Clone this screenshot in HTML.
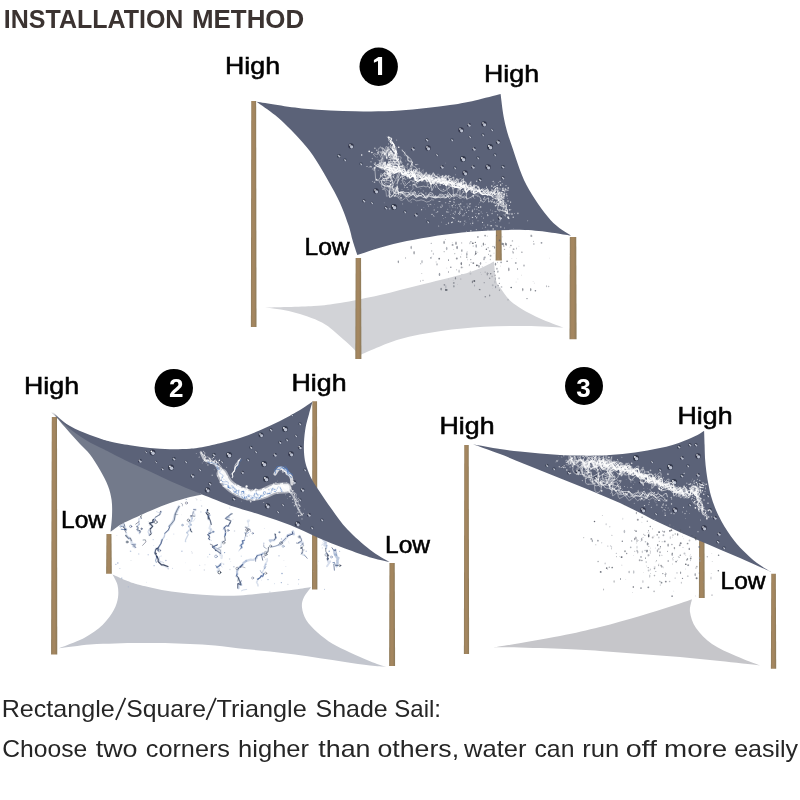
<!DOCTYPE html>
<html><head><meta charset="utf-8">
<style>
html,body{margin:0;padding:0;background:#fff;}
body{width:800px;height:800px;overflow:hidden;font-family:"Liberation Sans",sans-serif;}
svg{display:block;will-change:transform;opacity:.999}
</style></head><body>
<svg width="800" height="800" viewBox="0 0 800 800" font-family="Liberation Sans, sans-serif">
<rect width="800" height="800" fill="#fff"/>
<defs>
<radialGradient id="bead" cx="50%" cy="55%" r="50%"><stop offset="0" stop-color="#3d4458"/><stop offset=".55" stop-color="#4a5268"/><stop offset=".85" stop-color="#aab0c2"/><stop offset="1" stop-color="#e8ebf2" stop-opacity=".9"/></radialGradient>
<linearGradient id="pole" x1="0" x2="1" y1="0" y2="0"><stop offset="0" stop-color="#8e7c5c"/><stop offset=".3" stop-color="#a4865f"/><stop offset=".6" stop-color="#a4865f"/><stop offset="1" stop-color="#8a7959"/></linearGradient>
<filter id="soft" x="-5%" y="-5%" width="110%" height="110%"><feGaussianBlur stdDeviation="0.35"/></filter>
<clipPath id="c1"><path d="M256.5,101.7 C264.6,102.9 288.6,107.1 305.0,108.7 C321.4,110.3 339.2,111.0 355.0,111.3 C370.8,111.6 384.2,111.6 400.0,110.6 C415.8,109.5 437.5,106.7 450.0,105.0 C462.5,103.3 466.6,102.2 475.0,100.4 C483.4,98.6 496.3,95.1 500.6,94.0 C501.2,98.3 502.5,111.5 504.3,120.0 C506.1,128.5 507.8,134.2 511.5,145.0 C515.2,155.8 520.0,172.5 526.5,185.0 C533.0,197.5 543.1,211.6 550.5,220.0 C557.9,228.4 567.6,233.0 571.0,235.6 C563.3,234.7 543.2,230.5 525.0,230.0 C506.8,229.5 482.8,230.4 462.0,232.5 C441.2,234.6 417.4,238.8 400.0,242.5 C382.6,246.2 364.4,252.9 357.3,255.0 C356.5,252.5 353.9,244.8 352.5,240.0 C351.1,235.2 350.8,232.2 348.8,226.0 C346.7,219.8 343.5,210.8 340.0,203.0 C336.5,195.2 332.0,187.4 327.5,179.5 C323.0,171.6 317.6,162.2 313.0,155.5 C308.4,148.8 304.2,144.3 300.0,139.5 C295.8,134.7 291.7,130.6 287.5,126.5 C283.3,122.4 280.2,119.1 275.0,115.0 C269.8,110.9 259.6,103.9 256.5,101.7 Z"/></clipPath>
<clipPath id="c2"><path d="M51.5,412.3 C52.9,413.5 56.9,417.2 60.0,419.5 C63.1,421.8 66.7,424.1 70.0,426.0 C73.3,427.9 76.7,429.5 80.0,431.0 C83.3,432.5 86.7,433.8 90.0,435.0 C93.3,436.2 96.7,437.4 100.0,438.5 C103.3,439.6 105.0,440.4 110.0,441.5 C115.0,442.6 123.3,444.2 130.0,445.3 C136.7,446.4 143.3,447.4 150.0,448.0 C156.7,448.6 163.3,449.1 170.0,449.2 C176.7,449.3 185.0,449.1 190.0,448.8 C195.0,448.5 195.0,448.5 200.0,447.6 C205.0,446.7 213.3,444.8 220.0,443.2 C226.7,441.6 233.3,440.1 240.0,438.0 C246.7,435.9 253.3,433.1 260.0,430.3 C266.7,427.5 273.3,424.4 280.0,421.0 C286.7,417.6 294.6,413.2 300.0,410.0 C305.4,406.8 310.5,402.9 312.6,401.5 C312.0,403.6 310.1,410.1 308.9,414.4 C307.7,418.7 306.4,422.8 305.6,427.4 C304.8,432.0 304.2,437.4 304.0,442.0 C303.8,446.6 303.8,451.0 304.2,455.0 C304.6,459.0 305.0,461.8 306.3,466.0 C307.6,470.2 310.0,475.8 312.2,480.0 C314.4,484.2 316.1,486.4 319.4,491.2 C322.7,496.1 327.1,502.9 331.8,509.2 C336.4,515.6 341.1,522.8 347.5,529.5 C353.9,536.2 363.0,544.3 370.0,549.8 C377.0,555.2 386.2,560.0 389.5,562.0 C386.7,561.3 379.9,560.3 372.5,558.0 C365.1,555.7 354.2,551.8 345.0,548.4 C335.8,545.0 326.7,541.3 317.5,537.4 C308.3,533.5 299.2,528.7 290.0,525.0 C280.8,521.3 271.7,518.4 262.5,515.4 C253.3,512.4 245.1,510.5 235.0,507.0 C224.9,503.5 207.5,496.5 202.0,494.4 C200.0,493.6 195.3,491.7 190.0,489.5 C184.7,487.3 176.7,484.0 170.0,481.0 C163.3,478.0 156.7,474.6 150.0,471.5 C143.3,468.4 136.7,465.7 130.0,462.5 C123.3,459.3 115.0,455.0 110.0,452.5 C105.0,450.0 103.3,449.2 100.0,447.6 C96.7,446.0 93.3,444.5 90.0,442.6 C86.7,440.7 83.3,438.6 80.0,436.3 C76.7,434.0 73.3,431.6 70.0,429.0 C66.7,426.4 63.1,423.3 60.0,420.5 C56.9,417.7 52.9,413.7 51.5,412.3 Z"/></clipPath>
<clipPath id="c3"><path d="M473.0,444.2 C477.5,445.0 492.2,447.8 500.0,449.0 C507.8,450.2 513.3,450.8 520.0,451.6 C526.7,452.4 533.3,453.1 540.0,453.6 C546.7,454.2 553.3,454.6 560.0,454.9 C566.7,455.2 573.3,455.5 580.0,455.6 C586.7,455.7 595.0,455.6 600.0,455.5 C605.0,455.4 606.2,455.2 610.0,455.0 C613.8,454.8 618.3,454.4 622.5,454.0 C626.7,453.6 630.8,453.1 635.0,452.5 C639.2,451.9 643.3,451.3 647.5,450.6 C651.7,449.9 655.8,449.0 660.0,448.1 C664.2,447.2 668.3,446.2 672.5,445.0 C676.7,443.8 680.8,442.3 685.0,440.6 C689.2,438.9 694.3,436.6 697.5,435.0 C700.7,433.4 703.0,431.5 704.1,430.8 C704.2,433.2 704.5,440.5 704.6,445.0 C704.8,449.5 704.7,453.5 705.0,458.0 C705.3,462.5 705.8,467.3 706.4,472.0 C707.0,476.7 707.9,481.9 708.8,486.3 C709.6,490.7 710.5,494.4 711.8,498.5 C713.0,502.6 714.7,506.9 716.2,510.6 C717.8,514.4 719.4,517.5 721.3,521.0 C723.2,524.5 725.3,528.0 727.5,531.3 C729.7,534.6 732.0,537.9 734.5,541.0 C737.0,544.1 738.8,546.3 742.5,550.0 C746.2,553.7 752.0,559.2 757.0,563.0 C762.0,566.8 769.9,571.0 772.5,572.6 C767.1,570.2 752.1,563.3 740.0,558.0 C727.9,552.7 713.3,546.8 700.0,541.0 C686.7,535.2 673.3,529.3 660.0,523.0 C646.7,516.7 633.3,509.1 620.0,503.0 C606.7,496.9 593.3,491.7 580.0,486.2 C566.7,480.7 553.3,475.6 540.0,470.2 C526.7,464.8 511.2,458.3 500.0,454.0 C488.8,449.7 477.5,445.8 473.0,444.2 Z"/></clipPath>
</defs>
<g font-size="26.4" font-weight="bold" fill="#3b3331"><text x="3.8" y="28.2" textLength="179.6" lengthAdjust="spacingAndGlyphs">INSTALLATION</text><text x="192" y="28.2" textLength="112.2" lengthAdjust="spacingAndGlyphs">METHOD</text></g>

<g id="s1">
<path d="M265.0,307.6 C273.1,307.3 301.2,306.8 313.7,306.0 C326.2,305.2 328.9,304.8 340.0,303.0 C351.1,301.2 366.7,298.0 380.0,295.0 C393.3,292.0 406.7,288.3 420.0,285.0 C433.3,281.7 450.0,277.8 460.0,275.0 C470.0,272.2 474.3,270.8 480.0,268.5 C485.7,266.2 491.7,262.7 494.0,261.5 C494.3,264.6 494.9,275.5 496.0,280.0 C497.1,284.5 497.8,284.6 500.7,288.5 C503.6,292.4 507.1,298.5 513.5,303.4 C519.9,308.3 530.6,314.0 539.0,318.0 C547.4,322.0 559.5,326.0 563.6,327.6 C557.3,327.3 539.3,326.1 526.0,326.0 C512.7,325.9 497.9,325.9 483.7,326.7 C469.5,327.5 455.2,328.9 441.0,331.0 C426.8,333.1 412.2,335.5 398.7,339.5 C385.2,343.5 366.4,352.4 360.0,355.0 C357.2,352.4 349.8,344.9 343.5,339.5 C337.2,334.1 330.5,327.1 322.0,322.5 C313.5,317.9 302.0,314.4 292.5,311.9 C283.0,309.4 269.6,308.3 265.0,307.6 Z" fill="#d2d3d7"/>
<g fill="url(#pole)"><path d="M251.25,100.9 L256.15,100.9 L256.50,327 L250.90,327 Z"/><path d="M495.95,225 L501.45,225 L501.80,260.5 L495.60,260.5 Z"/><path d="M569.85,237 L576.25,237 L576.60,339.3 L569.50,339.3 Z"/><path d="M355.65,258 L361.05,258 L361.40,359 L355.30,359 Z"/></g>
<path d="M256.5,101.7 C264.6,102.9 288.6,107.1 305.0,108.7 C321.4,110.3 339.2,111.0 355.0,111.3 C370.8,111.6 384.2,111.6 400.0,110.6 C415.8,109.5 437.5,106.7 450.0,105.0 C462.5,103.3 466.6,102.2 475.0,100.4 C483.4,98.6 496.3,95.1 500.6,94.0 C501.2,98.3 502.5,111.5 504.3,120.0 C506.1,128.5 507.8,134.2 511.5,145.0 C515.2,155.8 520.0,172.5 526.5,185.0 C533.0,197.5 543.1,211.6 550.5,220.0 C557.9,228.4 567.6,233.0 571.0,235.6 C563.3,234.7 543.2,230.5 525.0,230.0 C506.8,229.5 482.8,230.4 462.0,232.5 C441.2,234.6 417.4,238.8 400.0,242.5 C382.6,246.2 364.4,252.9 357.3,255.0 C356.5,252.5 353.9,244.8 352.5,240.0 C351.1,235.2 350.8,232.2 348.8,226.0 C346.7,219.8 343.5,210.8 340.0,203.0 C336.5,195.2 332.0,187.4 327.5,179.5 C323.0,171.6 317.6,162.2 313.0,155.5 C308.4,148.8 304.2,144.3 300.0,139.5 C295.8,134.7 291.7,130.6 287.5,126.5 C283.3,122.4 280.2,119.1 275.0,115.0 C269.8,110.9 259.6,103.9 256.5,101.7 Z" fill="#5b6278"/>
<g filter="url(#soft)"><g clip-path="url(#c1)"><circle cx="461" cy="130" r="2.73" fill="#30364a"/><circle cx="461.6" cy="130.8" r="1.58" fill="#c9cedd" opacity=".92"/><circle cx="460.0" cy="129.0" r="0.82" fill="#fff"/><circle cx="469" cy="125" r="2.10" fill="#30364a"/><circle cx="469.5" cy="125.6" r="1.22" fill="#c9cedd" opacity=".92"/><circle cx="468.2" cy="124.2" r="0.63" fill="#fff"/><circle cx="484" cy="124" r="2.73" fill="#30364a"/><circle cx="484.6" cy="124.8" r="1.58" fill="#c9cedd" opacity=".92"/><circle cx="483.0" cy="123.0" r="0.82" fill="#fff"/><circle cx="428" cy="148" r="2.73" fill="#30364a"/><circle cx="428.6" cy="148.8" r="1.58" fill="#c9cedd" opacity=".92"/><circle cx="427.0" cy="147.0" r="0.82" fill="#fff"/><circle cx="427" cy="140" r="1.68" fill="#30364a"/><circle cx="427.4" cy="140.5" r="0.97" fill="#c9cedd" opacity=".92"/><circle cx="426.4" cy="139.4" r="0.50" fill="#fff"/><circle cx="413" cy="149" r="2.10" fill="#30364a"/><circle cx="413.5" cy="149.6" r="1.22" fill="#c9cedd" opacity=".92"/><circle cx="412.2" cy="148.2" r="0.63" fill="#fff"/><circle cx="463" cy="159" r="2.94" fill="#30364a"/><circle cx="463.6" cy="159.8" r="1.71" fill="#c9cedd" opacity=".92"/><circle cx="461.9" cy="157.9" r="0.88" fill="#fff"/><circle cx="490" cy="147" r="2.94" fill="#30364a"/><circle cx="490.6" cy="147.8" r="1.71" fill="#c9cedd" opacity=".92"/><circle cx="488.9" cy="145.9" r="0.88" fill="#fff"/><circle cx="498" cy="142" r="2.31" fill="#30364a"/><circle cx="498.5" cy="142.6" r="1.34" fill="#c9cedd" opacity=".92"/><circle cx="497.1" cy="141.1" r="0.69" fill="#fff"/><circle cx="474" cy="149" r="2.10" fill="#30364a"/><circle cx="474.5" cy="149.6" r="1.22" fill="#c9cedd" opacity=".92"/><circle cx="473.2" cy="148.2" r="0.63" fill="#fff"/><circle cx="488" cy="167" r="2.73" fill="#30364a"/><circle cx="488.6" cy="167.8" r="1.58" fill="#c9cedd" opacity=".92"/><circle cx="487.0" cy="166.0" r="0.82" fill="#fff"/><circle cx="473" cy="167" r="2.10" fill="#30364a"/><circle cx="473.5" cy="167.6" r="1.22" fill="#c9cedd" opacity=".92"/><circle cx="472.2" cy="166.2" r="0.63" fill="#fff"/><circle cx="465" cy="173" r="2.73" fill="#30364a"/><circle cx="465.6" cy="173.8" r="1.58" fill="#c9cedd" opacity=".92"/><circle cx="464.0" cy="172.0" r="0.82" fill="#fff"/><circle cx="442" cy="167" r="2.10" fill="#30364a"/><circle cx="442.5" cy="167.6" r="1.22" fill="#c9cedd" opacity=".92"/><circle cx="441.2" cy="166.2" r="0.63" fill="#fff"/><circle cx="503" cy="167" r="1.89" fill="#30364a"/><circle cx="503.4" cy="167.5" r="1.10" fill="#c9cedd" opacity=".92"/><circle cx="502.3" cy="166.3" r="0.57" fill="#fff"/><circle cx="376" cy="191" r="2.73" fill="#30364a"/><circle cx="376.6" cy="191.8" r="1.58" fill="#c9cedd" opacity=".92"/><circle cx="375.0" cy="190.0" r="0.82" fill="#fff"/><circle cx="394" cy="207" r="2.94" fill="#30364a"/><circle cx="394.6" cy="207.8" r="1.71" fill="#c9cedd" opacity=".92"/><circle cx="392.9" cy="205.9" r="0.88" fill="#fff"/><circle cx="416" cy="215" r="2.10" fill="#30364a"/><circle cx="416.5" cy="215.6" r="1.22" fill="#c9cedd" opacity=".92"/><circle cx="415.2" cy="214.2" r="0.63" fill="#fff"/><circle cx="364" cy="201" r="1.68" fill="#30364a"/><circle cx="364.4" cy="201.5" r="0.97" fill="#c9cedd" opacity=".92"/><circle cx="363.4" cy="200.4" r="0.50" fill="#fff"/><circle cx="386" cy="208" r="1.68" fill="#30364a"/><circle cx="386.4" cy="208.5" r="0.97" fill="#c9cedd" opacity=".92"/><circle cx="385.4" cy="207.4" r="0.50" fill="#fff"/><circle cx="500" cy="218" r="2.31" fill="#30364a"/><circle cx="500.5" cy="218.6" r="1.34" fill="#c9cedd" opacity=".92"/><circle cx="499.1" cy="217.1" r="0.69" fill="#fff"/><circle cx="351" cy="146" r="2.73" fill="#30364a"/><circle cx="351.6" cy="146.8" r="1.58" fill="#c9cedd" opacity=".92"/><circle cx="350.0" cy="145.0" r="0.82" fill="#fff"/><circle cx="339" cy="156" r="1.89" fill="#30364a"/><circle cx="339.4" cy="156.5" r="1.10" fill="#c9cedd" opacity=".92"/><circle cx="338.3" cy="155.3" r="0.57" fill="#fff"/><circle cx="345" cy="160" r="1.47" fill="#30364a"/><circle cx="345.3" cy="160.4" r="0.85" fill="#c9cedd" opacity=".92"/><circle cx="344.4" cy="159.4" r="0.44" fill="#fff"/><circle cx="361" cy="164" r="1.47" fill="#30364a"/><circle cx="361.3" cy="164.4" r="0.85" fill="#c9cedd" opacity=".92"/><circle cx="360.4" cy="163.4" r="0.44" fill="#fff"/><circle cx="483" cy="135" r="1.47" fill="#30364a"/><circle cx="483.3" cy="135.4" r="0.85" fill="#c9cedd" opacity=".92"/><circle cx="482.4" cy="134.4" r="0.44" fill="#fff"/><circle cx="495" cy="155" r="1.47" fill="#30364a"/><circle cx="495.3" cy="155.4" r="0.85" fill="#c9cedd" opacity=".92"/><circle cx="494.4" cy="154.4" r="0.44" fill="#fff"/><circle cx="480" cy="180" r="1.89" fill="#30364a"/><circle cx="480.4" cy="180.5" r="1.10" fill="#c9cedd" opacity=".92"/><circle cx="479.3" cy="179.3" r="0.57" fill="#fff"/><circle cx="452" cy="140" r="1.47" fill="#30364a"/><circle cx="452.3" cy="140.4" r="0.85" fill="#c9cedd" opacity=".92"/><circle cx="451.4" cy="139.4" r="0.44" fill="#fff"/><circle cx="470" cy="137" r="1.37" fill="#30364a"/><circle cx="470.3" cy="137.4" r="0.79" fill="#c9cedd" opacity=".92"/><circle cx="469.5" cy="136.5" r="0.41" fill="#fff"/><circle cx="478" cy="158" r="1.47" fill="#30364a"/><circle cx="478.3" cy="158.4" r="0.85" fill="#c9cedd" opacity=".92"/><circle cx="477.4" cy="157.4" r="0.44" fill="#fff"/><circle cx="437" cy="155" r="1.37" fill="#30364a"/><circle cx="437.3" cy="155.4" r="0.79" fill="#c9cedd" opacity=".92"/><circle cx="436.5" cy="154.5" r="0.41" fill="#fff"/><circle cx="455" cy="168" r="1.47" fill="#30364a"/><circle cx="455.3" cy="168.4" r="0.85" fill="#c9cedd" opacity=".92"/><circle cx="454.4" cy="167.4" r="0.44" fill="#fff"/><circle cx="372" cy="203" r="1.37" fill="#30364a"/><circle cx="372.3" cy="203.4" r="0.79" fill="#c9cedd" opacity=".92"/><circle cx="371.5" cy="202.5" r="0.41" fill="#fff"/><circle cx="405" cy="212" r="1.47" fill="#30364a"/><circle cx="405.3" cy="212.4" r="0.85" fill="#c9cedd" opacity=".92"/><circle cx="404.4" cy="211.4" r="0.44" fill="#fff"/><circle cx="428" cy="222" r="1.47" fill="#30364a"/><circle cx="428.3" cy="222.4" r="0.85" fill="#c9cedd" opacity=".92"/><circle cx="427.4" cy="221.4" r="0.44" fill="#fff"/><circle cx="492" cy="130" r="1.37" fill="#30364a"/><circle cx="492.3" cy="130.4" r="0.79" fill="#c9cedd" opacity=".92"/><circle cx="491.5" cy="129.5" r="0.41" fill="#fff"/><circle cx="503" cy="178" r="1.68" fill="#30364a"/><circle cx="503.4" cy="178.5" r="0.97" fill="#c9cedd" opacity=".92"/><circle cx="502.4" cy="177.4" r="0.50" fill="#fff"/><g fill="none" stroke-linecap="round" stroke-linejoin="round"><path d="M377.1,164.6L378.3,165.0L379.9,163.1L380.8,164.1L380.9,168.3L382.2,166.8L384.2,162.3L384.7,164.2L384.5,169.2L385.7,168.7L387.9,164.9L389.3,165.4L390.2,168.4L392.2,168.3L394.3,168.1L396.0,170.4L398.8,169.2L401.8,168.1L402.6,173.7L405.3,173.1L408.9,169.8L408.7,175.6L410.9,174.5L412.7,173.9L413.6,175.3L415.1,175.4L416.0,178.2L418.9,174.6L420.6,176.9L422.3,180.9L425.7,176.4L428.2,177.7L430.6,180.6L433.4,179.0L435.7,179.7L438.0,179.0L439.7,180.2L440.8,182.6L443.0,178.9L444.1,180.4L444.7,183.9L447.1,180.8L448.8,181.4L450.4,183.4L452.8,183.6L455.2,184.4L458.4,183.3L460.5,186.0L462.7,187.8L466.2,184.9L467.8,187.6L469.3,189.6L471.6,187.8L473.0,188.6L474.2,189.7L475.4,190.8L477.2,190.2L479.2,189.6L480.3,192.5L482.3,193.3L485.3,191.5L487.4,192.9L489.1,195.4L491.6,195.4" stroke="#fff" stroke-width="1.24" stroke-opacity="0.66"/><path d="M374.2,164.1L375.6,164.9L377.1,166.5L379.1,167.1L381.2,167.4L383.4,167.4L386.1,165.4L388.3,164.5L389.2,168.8L389.7,173.7L391.8,171.8L394.7,166.3L396.0,166.7L396.0,171.2L396.9,171.9L398.3,170.8L399.1,172.1L400.6,171.5L402.5,170.5L404.0,172.0L405.2,175.0L407.5,176.6L412.5,171.6L414.0,176.1L415.6,180.9L419.8,176.7L421.7,178.6L423.8,178.8L425.6,178.1L426.6,181.4L428.0,181.1L429.6,178.8L431.2,177.4L432.3,180.9L433.7,184.3L436.6,178.8L439.1,178.8L440.9,183.3L444.0,181.6L446.4,183.6L448.8,184.6L452.1,181.6L453.7,183.8L454.8,186.9L456.5,187.2L458.9,183.7L460.3,184.2L460.3,189.4L462.7,187.1L464.7,186.8L466.4,188.9" stroke="#fff" stroke-width="0.86" stroke-opacity="1.01"/><path d="M395.2,170.4L396.9,169.3L399.0,166.3L399.6,168.4L400.1,170.8L401.6,170.0L403.2,169.6L405.0,169.6L405.8,173.1L408.7,172.5L412.1,171.1L413.2,176.9L417.3,174.2L419.7,175.7L421.6,178.5L424.6,174.8L425.7,178.8L427.3,179.1L429.3,174.9L430.1,179.1L431.3,179.7L433.1,176.9L434.7,178.2L436.5,179.2L438.5,180.2L441.4,178.6L444.1,179.2L446.0,183.1L449.4,180.4L451.9,181.5L453.5,184.5L456.5,181.5L457.4,184.8L459.0,185.2L461.4,181.9L461.5,186.9L463.3,186.2L465.7,183.8L466.7,187.5L469.1,187.7L471.7,187.6L474.4,187.8L476.6,190.0L478.9,191.4L482.0,189.5L483.6,192.0L485.2,193.3L487.7,191.3L488.5,194.0L489.8,194.5L492.1,191.9L492.4,194.9" stroke="#fff" stroke-width="0.85" stroke-opacity="1.00"/><path d="M386.1,166.2L387.6,166.6L389.0,168.3L390.3,170.9L391.9,172.8L394.4,172.0L397.6,169.0L400.3,167.9L401.5,171.8L402.1,176.6L404.4,175.8L407.7,171.9L409.0,172.8L409.0,176.8L410.2,177.4L412.3,176.2L414.3,176.1L416.2,176.9L418.2,178.8L420.5,180.4L423.5,179.7L426.4,178.6L428.9,180.1L431.3,181.6L433.7,180.6L435.7,180.3L437.1,182.2L438.6,182.5L440.3,180.3L441.7,180.6L442.4,183.9L443.9,184.6L446.4,182.1L448.8,181.6L450.7,184.2L452.8,186.5L455.5,186.8L458.6,185.8L461.6,184.9L463.5,186.9L464.7,190.7L466.7,190.6L469.5,186.9L470.9,187.4L471.1,191.9L472.3,192.9L474.9,190.2L477.1,189.7L478.5,192.0L480.3,193.8L482.7,194.3L485.2,194.5L487.8,194.4L490.2,194.7L491.9,196.2L493.3,198.0L494.9,198.4L496.7,198.0L497.9,198.3L498.4,199.7L498.7,200.9L499.7,201.3L501.2,201.4L502.0,202.1L501.9,203.6L501.7,205.2L502.4,206.1L504.0,206.5L505.7,206.7" stroke="#fff" stroke-width="0.74" stroke-opacity="0.84"/><path d="M412.5,172.8L416.5,170.5L418.4,173.5L421.1,172.9L422.1,177.3L424.2,176.0L426.3,172.4L427.1,175.1L428.3,174.9L429.3,177.9L430.8,178.0L433.2,172.9L434.9,175.4L437.1,177.0L439.5,178.5L441.9,180.2L445.9,175.4L448.2,177.5L450.0,180.8L452.3,181.1L453.9,182.9L456.8,178.7L458.1,180.0L458.5,183.8L460.2,183.0L461.4,184.4L464.1,181.3L465.9,182.6L467.2,186.6L470.3,185.4L472.6,187.2L476.0,185.4L478.3,187.0L479.8,190.5L482.6,188.9L484.1,190.4L485.8,190.3L487.7,189.2L488.2,192.4L489.7,192.0L491.5,191.3L492.2,193.7L494.2,193.1" stroke="#fff" stroke-width="1.12" stroke-opacity="0.63"/><path d="M375.5,166.1L377.4,166.2L379.4,166.6L381.5,167.4L383.5,168.3L385.4,169.1L387.3,169.3L389.2,169.2L391.0,169.0L392.5,169.2L393.7,170.0L394.7,171.1L395.6,172.0L396.6,172.2L397.9,171.6L399.2,170.9L400.5,171.2L401.6,172.8L403.0,174.6L405.3,175.0L408.4,174.6L411.4,175.0L413.9,177.1L416.3,179.4L418.9,180.1L421.6,179.2L423.7,178.5L425.3,179.2L426.5,180.9L427.7,181.9L429.1,181.4L430.7,180.0L432.4,179.4L434.2,180.6L436.1,182.5L438.4,183.3L441.2,182.6L444.2,181.6L446.9,182.0L449.0,184.3L450.9,186.4L453.0,186.5L455.3,185.0L457.1,184.2L458.2,185.7L459.0,188.2L460.3,189.1L462.4,187.7L464.8,186.4L466.9,187.4" stroke="#fff" stroke-width="0.67" stroke-opacity="0.98"/><path d="M385.8,167.3L387.3,167.7L389.1,167.7L391.0,168.1L392.5,170.7L394.1,173.3L396.7,172.1L399.7,170.1L401.3,172.5L402.7,174.7L405.4,173.1L406.9,173.8L407.9,175.6L409.2,176.0L409.9,178.2L412.6,175.5L414.9,174.0L415.4,179.6L417.6,181.3L420.7,179.8L423.6,179.0L426.7,177.4L429.0,180.1L431.0,184.4L433.5,182.0L435.8,179.4L437.3,181.3L438.7,181.5L439.9,182.2L441.0,183.5L442.8,181.8L444.3,182.8L445.7,185.2L448.5,182.7L451.1,182.6L452.9,186.2L455.5,187.2L458.2,187.7L461.1,186.8L464.1,184.8L465.2,188.7L466.2,192.3L468.6,189.6L470.5,188.7L471.9,189.1L473.1,190.3L473.9,193.5L476.1,192.7L478.9,190.7L480.6,193.0L482.6,194.6L485.4,193.8L487.6,195.1" stroke="#fff" stroke-width="1.28" stroke-opacity="1.08"/><path d="M383.0,165.2L384.4,162.2L385.4,162.1L385.7,165.9L387.0,167.4L389.8,164.2L392.6,162.7L394.0,167.5L396.0,170.8L400.3,166.7L403.9,165.7L404.6,173.0L407.3,172.8L411.4,167.8L410.6,174.1L411.3,175.1L414.2,169.2L412.9,174.5L413.5,175.8L416.3,171.2L417.2,174.7L419.1,177.7L422.5,175.2L425.8,175.0L428.8,177.9L431.9,179.0L435.2,176.6L437.8,176.3L439.2,180.7L440.8,180.1L442.8,175.3L442.8,179.9L442.7,183.5L445.4,176.1L446.3,177.8L446.1,185.8L450.1,179.4L453.7,177.0L454.1,187.4L458.3,184.6L463.4,178.6L464.0,187.9L466.5,189.1L470.9,181.6L470.9,187.7L471.2,191.2L474.2,184.6L474.5,186.7L474.1,191.5L476.5,188.4L478.8,186.7L479.7,190.7L481.6,192.9L485.1,190.5L488.3,190.0L490.0,194.3L492.1,196.5L495.8,193.6L498.5,193.0L498.2,197.8L498.0,200.9L500.9,198.6L504.3,196.3" stroke="#fff" stroke-width="0.76" stroke-opacity="0.76"/><path d="M399.0,168.1L400.1,166.1L398.9,171.6L400.2,169.8L400.9,170.7L402.1,172.1L407.6,164.0L407.2,173.4L409.4,177.6L414.0,175.9L418.3,174.9L423.2,169.5L422.9,180.6L424.7,182.1L427.3,176.7L428.0,178.5L429.3,174.2L429.4,178.3L429.9,181.5L431.8,174.8L432.7,180.0L434.7,181.1L438.1,177.3L440.7,179.9L445.0,176.2L447.0,182.2L448.8,188.5L453.6,180.7L456.0,180.9L457.9,180.9L458.4,184.2L457.6,190.9L460.6,183.0L461.7,182.3L462.1,185.4" stroke="#fff" stroke-width="0.39" stroke-opacity="0.56"/><path d="M396.7,171.8L397.4,178.4L401.6,171.9L404.7,168.7L404.1,175.2L405.3,175.2L405.8,175.9L407.6,172.6L408.0,173.8L407.4,178.6L410.3,175.6L413.1,174.4L415.3,177.5L417.0,184.2L422.5,175.8L425.7,176.8L427.6,185.6L431.0,180.8L433.4,179.2L435.1,179.9L435.8,183.5L436.7,183.3L438.0,178.9L438.3,181.6L439.2,182.3L440.1,184.8L443.1,180.7L446.0,179.6L446.7,189.1L451.3,184.4L455.4,182.0L457.3,187.1L459.6,189.6L462.7,187.4L465.4,184.9L465.2,191.2L466.8,189.5L467.9,188.7L469.1,188.2" stroke="#fff" stroke-width="0.47" stroke-opacity="0.62"/><path d="M382.2,162.1L381.7,168.5L382.1,169.6L382.7,169.0L383.4,167.5L384.7,163.4L385.5,161.8L385.1,166.0L385.2,169.2L387.4,165.4L389.8,162.2L390.3,168.1L390.8,175.3L394.3,172.2L399.2,166.1L402.4,166.8L404.9,169.5L406.4,174.2L407.9,177.3L412.0,172.1L411.9,176.2L412.5,177.1L416.2,168.8L414.5,175.7L414.1,180.6L416.4,178.4L419.0,176.3L422.0,173.5L424.2,178.7L427.3,180.4L431.3,175.5L433.8,181.9L436.3,185.3L439.8,177.1L441.9,176.3L442.8,180.0L443.2,183.0L443.5,184.9L445.5,179.7L446.2,180.8L446.7,184.6L450.2,178.2L452.1,180.4L452.9,188.5L456.6,187.0L460.7,184.9" stroke="#fff" stroke-width="0.76" stroke-opacity="0.69"/><path d="M372.6,168.8L374.6,167.0L375.2,173.0L375.7,180.4L378.2,180.4L382.2,175.0L385.8,171.3L388.3,171.8L390.1,174.5L391.4,178.2L392.3,182.5L393.6,183.7L396.4,178.4L399.2,172.1L399.3,174.3L397.2,182.5L397.0,183.9L399.2,179.1L401.0,176.7L402.5,177.1L402.9,182.5L404.9,185.9L410.8,180.4L414.4,181.5L416.6,187.4L420.6,186.7L423.8,186.1L426.1,187.0L428.0,186.1L429.1,187.7L429.9,187.8L431.0,184.7L431.4,187.2L431.8,190.8L433.8,186.5L436.2,183.9L437.9,187.6L440.3,190.3L443.3,191.5L447.2,189.5L451.4,185.6L453.2,190.2L453.7,197.3L456.6,193.8L459.4,188.6L460.1,190.0L459.9,193.7L459.8,197.2L461.7,194.7L465.1,188.5L466.2,192.3L466.7,199.2L470.3,197.5L474.4,194.9L477.6,195.3L480.1,197.3L481.7,201.4L483.9,202.2L487.0,198.2L488.6,198.1L488.5,202.0L489.1,202.3L490.4,200.6L490.9,201.0L491.2,201.7L492.2,201.4L493.0,201.7L493.5,202.8L494.9,203.2L497.3,203.1L498.5,204.4L497.8,207.2L497.4,209.7L499.2,210.6L502.4,210.5L504.8,210.6" stroke="#fff" stroke-width="0.58" stroke-opacity="0.79"/><path d="M378.0,159.9L378.8,160.3L379.7,160.5L380.0,162.4L379.7,166.5L379.6,168.3L381.0,163.6L383.3,155.6L384.5,152.7L384.0,157.7L383.0,165.5L383.3,169.4L385.3,167.8L388.2,164.3L390.8,163.1L393.2,163.9L396.3,163.3L399.8,161.5L402.3,163.9L402.8,171.8L403.8,176.5L408.2,170.6L412.3,164.3L412.0,168.3L411.0,173.1L412.1,171.9L412.4,173.3L413.1,175.1L416.4,170.2L419.2,168.2L420.3,175.1L422.7,179.8L426.7,176.0L430.3,173.7L432.9,177.1L435.5,177.4L438.1,173.8L439.6,175.5L440.0,180.9L441.0,180.2L442.7,175.8L443.3,176.9L443.9,179.7L446.1,177.4L448.6,176.5L449.8,182.3L452.2,185.3L456.9,180.5L461.0,178.3L463.0,182.7" stroke="#fff" stroke-width="0.48" stroke-opacity="0.58"/><path d="M388.4,137.4L388.8,138.3L389.5,139.2L390.3,140.1L391.2,141.0L392.0,141.9L392.8,142.7L393.4,143.5L393.9,144.3L394.2,145.2L394.2,146.2L393.8,147.2L393.3,148.3L392.8,149.3L392.8,150.1L393.2,150.8L394.1,151.3L395.2,151.8L396.1,152.3L396.8,152.9L397.0,153.6L396.9,154.3L396.5,155.1" stroke="#fff" stroke-width="0.93" stroke-opacity="1.00"/><path d="M392.2,141.9L392.6,142.8L393.0,143.7L393.5,144.6L394.0,145.6L394.4,146.7L394.7,147.7L395.0,148.9L395.2,150.0L395.4,151.1L395.5,152.2L395.6,153.2L395.7,154.1L395.9,155.0L396.1,155.8L396.4,156.6L396.7,157.4L397.1,158.1" stroke="#fff" stroke-width="1.04" stroke-opacity="1.03"/><path d="M388.7,136.8L389.1,137.3L389.9,137.7L391.0,138.1L391.6,138.6L391.5,139.6L390.7,140.7L390.2,141.8L390.6,142.6L391.7,143.1L393.1,143.6L393.8,144.3L393.5,145.5L392.5,147.0L392.0,148.3L392.6,149.2L394.1,149.9L395.7,150.5L396.5,151.4L396.5,152.5L395.8,153.7L395.1,154.8L394.7,155.8L394.8,156.7L395.3,157.5L395.9,158.3L396.5,159.0L397.0,159.9L397.4,160.7L398.1,161.5L398.9,162.4L399.2,163.5L398.8,165.0L398.5,166.5L399.4,167.2" stroke="#fff" stroke-width="1.16" stroke-opacity="0.88"/><path d="M387.2,137.0L387.9,137.5L388.6,138.1L388.8,139.0L388.6,140.1L389.1,141.0L390.5,141.5L391.7,142.1L392.0,143.1L391.1,144.6L390.1,146.1L390.3,147.2L391.6,148.0L392.9,148.8L393.4,149.8L393.6,150.9L393.9,151.9L394.6,152.8L394.9,153.7L394.5,154.7L393.7,155.6L393.1,156.6L393.3,157.3L394.3,157.9" stroke="#fff" stroke-width="0.72" stroke-opacity="0.68"/><path d="M392.9,184.4L393.4,184.8L392.5,186.8L392.2,188.5L393.2,188.8L394.9,188.0L396.3,187.6L396.9,188.4L397.2,190.3L397.9,192.1L399.4,192.4L401.3,191.8L403.1,191.7L404.9,192.5L406.8,192.4L408.8,192.7L410.4,195.2L412.1,195.3L414.0,191.4L415.4,192.0L416.4,196.4L417.7,195.9L419.3,193.4L420.8,193.0L422.6,193.7L424.5,196.5L426.9,197.3L429.8,192.6L432.4,193.1L434.9,198.0L437.4,197.3L439.6,194.5L441.5,194.2L443.0,194.6L444.4,195.9L445.8,197.6L446.8,196.8L447.5,193.7L448.5,192.3L449.8,194.2L451.2,196.6L452.4,196.6L453.8,194.9L455.5,194.0L457.2,194.6L459.0,195.2L460.9,195.7L462.5,197.1L464.1,198.0L466.0,197.5" stroke="#fff" stroke-width="0.71" stroke-opacity="0.74"/><path d="M393.4,189.7L394.5,189.3L395.5,189.0L396.0,189.1L396.2,189.7L396.3,190.7L396.5,191.9L397.1,192.8L398.0,193.1L399.4,192.6L401.0,191.9L402.6,192.0L404.2,193.6L406.2,195.4L408.6,195.2L411.2,193.9L413.6,194.0L415.8,195.1L417.9,195.8L419.7,196.1L421.4,195.2L422.9,194.2L424.2,195.9L425.4,197.6L427.1,195.6L428.9,194.7L430.8,196.6L432.9,197.0L435.3,196.5L437.7,196.6L440.0,195.8L442.1,195.6L444.2,197.1L446.2,197.9L447.7,196.3L449.0,194.2L450.4,194.3L451.9,196.2" stroke="#fff" stroke-width="0.86" stroke-opacity="0.56"/><path d="M393.1,189.0L393.3,190.5L393.7,191.9L394.5,193.1L395.7,193.6L397.3,193.5L399.1,192.9L401.0,192.5L402.7,192.9L404.4,194.4L406.1,196.3L408.2,197.0L410.3,195.9L412.2,194.5L413.8,194.7L415.1,196.4L416.4,197.4L417.8,196.7L419.2,195.5L420.7,195.6L422.4,196.9L424.4,197.6L426.9,197.0L429.5,196.5L432.1,197.1L434.8,197.9L437.3,197.7L439.6,197.0L441.5,197.0L443.1,197.5L444.6,197.9L445.9,197.6L446.9,196.7L447.9,196.1L449.0,196.1" stroke="#fff" stroke-width="0.72" stroke-opacity="0.80"/><path d="M382.8,182.7L382.1,184.5L381.6,186.5L382.4,187.9L384.6,188.5L386.7,189.2L388.0,190.6L388.9,192.5L389.9,194.1L391.1,195.2L392.7,195.8L394.5,196.0L396.1,196.2L397.5,196.8L398.6,197.9L399.7,199.3L400.9,200.3L402.5,200.2L404.3,198.8L405.8,197.6L406.9,198.3L407.9,200.5L409.1,201.5L410.7,200.2L412.4,198.9L414.3,199.5L416.3,200.8L418.6,200.6L421.1,199.9L423.8,200.6L426.4,202.0L429.1,201.5L431.6,199.7L433.7,200.0" stroke="#fff" stroke-width="0.68" stroke-opacity="0.54"/><path d="M397.0,190.0L397.6,190.8L398.3,192.0L399.4,192.6L401.1,192.5L402.7,193.3L404.4,195.9L406.6,196.8L409.3,193.9L411.9,191.9L413.9,194.8L415.8,197.5L417.8,196.3L419.5,195.4L420.9,195.9L422.3,194.7L423.7,194.5L425.0,197.9L426.6,198.6L428.8,194.8L431.0,194.5L433.2,197.2L435.7,197.5L438.2,197.1L440.5,197.9L442.6,197.1L444.4,194.8L446.0,194.3L447.8,196.5L449.4,198.5L450.6,197.9L451.5,195.7L452.6,194.4L453.7,194.9L454.8,195.8L455.9,196.0L457.2,195.9L458.4,196.9L459.6,198.3L461.2,198.1L463.3,196.5L465.1,195.9L466.2,197.0L467.0,198.8" stroke="#fff" stroke-width="0.57" stroke-opacity="0.91"/><path d="M375.8,157.1L374.2,155.3L373.4,154.0L374.3,153.7L376.5,154.3L378.0,154.3L378.2,152.6L378.0,150.1L378.9,148.1L380.8,147.6L382.9,148.5L384.6,150.0L386.2,150.7L387.9,149.7L390.1,147.6L392.6,145.7L394.8,145.6L396.2,147.4L396.6,150.4L396.3,153.2L395.9,155.1L396.3,156.1L397.7,156.4L399.6,156.5L400.9,157.0L401.2,158.0L400.8,159.0L400.5,159.9L400.7,160.7L401.0,161.6L400.7,162.5L399.4,163.1L397.6,163.3L396.9,164.1L398.3,166.4L400.5,169.6L400.8,171.9L397.7,172.3L393.1,171.8L390.1,172.3L390.0,174.5L391.8,178.3L393.0,181.9L391.8,183.4L388.6,183.0L385.8,182.6L384.9,183.5L386.1,185.0L388.4,185.9L390.3,185.2L391.0,184.4L390.2,184.7L388.9,186.4L388.3,188.2L389.3,187.9L391.4,185.0L393.0,182.3L393.1,183.0L392.7,187.3L393.1,192.0L394.7,193.8L396.3,190.7L397.3,184.9" stroke="#fff" stroke-width="0.68" stroke-opacity="0.52"/><path d="M379.3,162.7L380.9,162.9L380.9,161.7L380.4,159.9L381.8,159.4L382.9,158.5L381.4,154.8L380.7,151.4L383.4,152.4L386.1,156.4L387.0,159.3L387.4,158.0L388.3,154.0L389.7,151.9L390.7,154.0L391.0,157.0L391.7,157.2L393.1,155.3L394.3,154.6L394.0,155.7L393.0,157.1L392.8,157.6L393.6,157.3L393.3,157.8L390.5,159.2L388.2,159.9L390.5,159.1L396.0,158.3L398.7,158.8L396.1,159.4L392.1,159.0L392.0,159.5L395.0,161.8L394.9,163.4L391.1,163.3L389.5,164.7L390.3,167.6L389.0,169.4L387.7,171.2L389.3,174.4L390.3,177.0L386.2,176.1L380.8,173.6L380.7,175.2L384.0,179.4L384.4,181.0L381.4,180.3L379.2,180.9L379.8,183.2L382.3,185.1L384.5,185.6L384.9,186.3L384.1,188.5L384.3,190.0L385.7,190.3L386.1,192.5L386.5,196.3L388.9,195.6L392.2,190.7L394.1,189.3L396.0,193.7L398.8,197.6L401.1,194.3L403.1,191.2L406.5,194.3L409.4,194.8L410.4,191.2L412.0,190.1L413.2,189.1L412.8,186.0L412.6,184.3L416.3,186.2" stroke="#fff" stroke-width="0.59" stroke-opacity="0.57"/><path d="M388.3,153.7L388.7,155.3L388.8,156.0L389.0,155.1L389.5,153.3L390.0,152.4L390.0,153.4L389.3,155.3L388.4,156.4L388.4,155.9L389.7,154.4L391.8,153.1L393.1,153.0L392.3,154.5L390.0,156.4L389.0,157.6L391.1,157.9L395.3,158.4L398.0,159.7L396.8,161.3L392.4,161.8L388.3,161.7L388.5,163.1L392.7,167.0L395.4,170.6L392.4,170.8L386.4,168.8L383.7,168.7L386.0,171.5L389.7,174.5L390.5,175.9L388.1,174.9L385.1,173.2L384.0,173.0L384.5,174.5L384.9,176.1" stroke="#fff" stroke-width="0.94" stroke-opacity="0.78"/><path d="M382.5,150.0L381.8,147.6L383.3,148.2L385.7,152.2L386.7,156.9L386.4,158.3L386.1,154.6L386.9,149.1L388.1,146.6L388.6,148.2L388.7,150.6L389.1,151.4L390.1,151.3L390.8,151.6L391.0,152.7L391.2,153.8L392.5,154.3L394.5,154.8L395.1,156.3L394.2,158.3L395.1,159.7L398.9,160.7L402.1,162.4L400.2,164.3L394.0,164.7L388.9,164.0L389.9,165.3L394.2,168.6L395.7,170.6L394.6,171.1L393.7,171.5L391.9,171.2L389.2,170.3L388.9,170.9L391.1,172.9L391.6,174.3L388.8,173.3L387.2,173.6L389.7,177.4L391.9,180.7L389.7,180.7L384.6,179.9" stroke="#fff" stroke-width="0.73" stroke-opacity="0.61"/><path d="M381.8,158.7L380.2,155.9L378.1,152.7L378.5,151.5L381.6,152.7L383.5,153.3L382.9,151.7L382.6,150.5L384.0,151.8L385.0,154.1L385.0,154.9L384.8,152.8L385.2,148.8L386.3,146.3L387.2,147.5L387.4,150.7L387.6,152.8L388.6,152.7L390.2,151.8L391.6,151.6L392.3,152.5L392.7,153.9L393.8,154.9L396.0,155.5L398.3,156.4L399.0,158.2L397.6,160.3L395.7,162.2L394.5,163.4L394.2,164.3L394.6,165.1L395.5,166.4L396.5,167.9L396.2,168.8L394.4,168.8L392.9,168.7L392.7,169.3L392.3,169.9L390.8,169.9L390.3,170.5L392.2,172.7L394.2,175.6L392.8,176.4L388.4,174.9L385.4,174.8L385.7,177.3L386.7,180.2L386.2,181.7L384.6,183.0L383.6,185.0L384.6,186.8L387.4,186.9L390.5,186.0" stroke="#fff" stroke-width="0.46" stroke-opacity="0.82"/><path d="M383.8,152.1L384.2,153.3L384.5,154.6L384.7,155.2L385.1,154.5L385.9,152.8L387.3,150.8L388.9,149.7L390.2,149.9L391.1,150.9L391.5,152.3L391.7,153.6L392.2,154.8L393.0,156.0L393.7,157.2L394.1,158.7L393.9,160.2L393.8,161.6L394.5,162.6L396.2,163.5L398.1,164.7L398.9,166.1L397.6,167.0L393.9,166.4L389.6,164.9L387.8,164.5L390.0,166.4L394.2,169.7L396.7,172.1L395.3,172.1L391.5,170.9L388.0,169.7L386.8,170.0L387.9,172.6L389.2,175.8L388.8,177.7L386.3,178.3L383.4,178.9L381.6,180.5L381.7,183.2L383.6,185.4L386.5,186.2L389.0,186.1L390.2,186.9L389.8,189.8L389.1,194.3L389.6,197.4L392.0,196.5L395.0,191.9L396.9,187.5L397.3,186.3L397.6,189.1L398.7,194.2" stroke="#fff" stroke-width="0.81" stroke-opacity="0.93"/><path d="M402.1,150.5L403.0,151.2L403.9,151.9L404.7,153.0L405.4,154.2L406.4,155.3L407.4,156.3L407.8,157.7L407.7,159.4L407.9,160.6L409.4,161.1L411.5,161.3L412.7,162.0L412.1,163.5L410.9,165.3L410.8,166.5" stroke="#fff" stroke-width="0.83" stroke-opacity="0.83"/><path d="M407.0,156.7L408.0,157.2L409.0,157.6L410.0,158.2L410.8,159.0L411.2,160.1L411.4,161.3L411.5,162.7L411.8,164.1L412.4,165.3L413.6,166.2L414.9,166.9L416.2,167.7L417.2,169.1L418.0,170.8" stroke="#fff" stroke-width="0.54" stroke-opacity="0.87"/><path d="M405.1,152.0L404.5,153.5L404.1,154.9L404.7,155.6L406.1,155.7L407.7,155.7L408.5,156.4L408.6,157.6L408.3,159.0L408.3,160.3L409.0,161.4L410.2,162.2L411.5,163.1L412.4,164.2" stroke="#fff" stroke-width="0.43" stroke-opacity="0.60"/></g><g fill="#fff"><circle cx="402.1" cy="166.0" r="0.71" opacity="0.83"/><circle cx="484.7" cy="197.3" r="0.48" opacity="0.99"/><circle cx="385.9" cy="166.9" r="0.32" opacity="0.92"/><circle cx="500.2" cy="203.3" r="0.75" opacity="0.57"/><circle cx="448.8" cy="175.9" r="0.74" opacity="0.91"/><circle cx="463.8" cy="192.4" r="0.68" opacity="0.61"/><circle cx="369.0" cy="167.5" r="0.36" opacity="0.92"/><circle cx="463.1" cy="181.7" r="0.67" opacity="0.74"/><circle cx="367.0" cy="166.5" r="0.58" opacity="0.77"/><circle cx="471.2" cy="197.9" r="0.44" opacity="0.54"/><circle cx="408.8" cy="172.6" r="0.71" opacity="0.99"/><circle cx="445.0" cy="179.0" r="0.68" opacity="0.88"/><circle cx="473.6" cy="187.8" r="0.38" opacity="0.63"/><circle cx="489.6" cy="193.5" r="0.31" opacity="0.53"/><circle cx="413.4" cy="170.4" r="0.67" opacity="0.65"/><circle cx="445.9" cy="178.9" r="0.37" opacity="0.95"/><circle cx="396.3" cy="180.7" r="0.31" opacity="0.73"/><circle cx="499.1" cy="205.3" r="0.45" opacity="0.60"/><circle cx="507.2" cy="213.4" r="0.38" opacity="0.76"/><circle cx="513.2" cy="217.2" r="0.58" opacity="0.94"/><circle cx="491.5" cy="194.7" r="0.57" opacity="0.51"/><circle cx="382.6" cy="158.5" r="0.47" opacity="0.57"/><circle cx="420.3" cy="174.4" r="0.30" opacity="0.88"/><circle cx="509.7" cy="209.9" r="0.69" opacity="0.95"/><circle cx="419.1" cy="172.1" r="0.85" opacity="0.79"/><circle cx="427.3" cy="175.5" r="0.33" opacity="0.55"/><circle cx="503.8" cy="200.8" r="0.44" opacity="0.63"/><circle cx="460.3" cy="184.9" r="0.83" opacity="0.94"/><circle cx="504.2" cy="194.5" r="0.82" opacity="0.77"/><circle cx="480.5" cy="200.8" r="0.55" opacity="0.88"/><circle cx="478.4" cy="190.5" r="0.81" opacity="0.56"/><circle cx="445.4" cy="179.7" r="0.71" opacity="0.99"/><circle cx="408.9" cy="170.8" r="0.61" opacity="0.70"/><circle cx="388.7" cy="170.5" r="0.80" opacity="0.75"/><circle cx="401.1" cy="183.8" r="0.55" opacity="0.57"/><circle cx="386.1" cy="173.3" r="0.35" opacity="0.62"/><circle cx="408.0" cy="164.0" r="0.71" opacity="0.71"/><circle cx="429.9" cy="175.7" r="0.49" opacity="0.53"/><circle cx="406.9" cy="176.2" r="0.58" opacity="0.81"/><circle cx="503.6" cy="205.8" r="0.44" opacity="0.70"/><circle cx="443.5" cy="189.5" r="0.78" opacity="0.51"/><circle cx="371.0" cy="161.7" r="0.56" opacity="0.79"/><circle cx="361.7" cy="155.1" r="0.75" opacity="0.93"/><circle cx="514.3" cy="213.5" r="0.38" opacity="0.76"/><circle cx="483.9" cy="199.0" r="0.66" opacity="0.88"/><circle cx="439.4" cy="180.2" r="0.73" opacity="0.62"/><circle cx="506.7" cy="207.6" r="0.37" opacity="0.63"/><circle cx="471.3" cy="189.5" r="0.34" opacity="0.76"/><circle cx="462.0" cy="184.7" r="0.63" opacity="0.51"/><circle cx="416.0" cy="164.6" r="0.65" opacity="0.94"/><circle cx="446.8" cy="182.2" r="0.83" opacity="0.85"/><circle cx="417.4" cy="181.6" r="0.67" opacity="0.71"/><circle cx="406.4" cy="167.6" r="0.42" opacity="0.52"/><circle cx="410.8" cy="171.8" r="0.41" opacity="0.90"/><circle cx="494.0" cy="192.4" r="0.83" opacity="0.66"/><circle cx="500.4" cy="201.2" r="0.72" opacity="0.65"/><circle cx="510.9" cy="209.5" r="0.42" opacity="0.71"/><circle cx="478.2" cy="193.7" r="0.52" opacity="0.61"/><circle cx="507.8" cy="214.3" r="0.33" opacity="0.70"/><circle cx="507.0" cy="213.0" r="0.85" opacity="0.97"/><circle cx="412.9" cy="181.8" r="0.71" opacity="0.52"/><circle cx="487.5" cy="188.4" r="0.48" opacity="0.58"/><circle cx="375.3" cy="163.1" r="0.83" opacity="0.56"/><circle cx="512.0" cy="213.9" r="0.75" opacity="0.91"/><circle cx="440.1" cy="185.3" r="0.50" opacity="0.96"/><circle cx="396.7" cy="162.8" r="0.32" opacity="0.71"/><circle cx="507.2" cy="200.9" r="0.32" opacity="0.53"/><circle cx="505.9" cy="209.4" r="0.79" opacity="0.67"/><circle cx="415.5" cy="180.1" r="0.44" opacity="0.86"/><circle cx="414.2" cy="176.7" r="0.72" opacity="0.96"/><circle cx="474.6" cy="191.1" r="0.43" opacity="0.74"/><circle cx="508.0" cy="216.7" r="0.44" opacity="0.71"/><circle cx="446.7" cy="185.4" r="0.74" opacity="0.87"/><circle cx="500.3" cy="202.7" r="0.48" opacity="0.66"/><circle cx="417.7" cy="179.2" r="0.41" opacity="0.88"/><circle cx="401.8" cy="173.4" r="0.60" opacity="0.66"/><circle cx="509.1" cy="223.0" r="0.45" opacity="0.54"/><circle cx="372.3" cy="158.6" r="0.55" opacity="0.62"/><circle cx="434.1" cy="175.1" r="0.71" opacity="0.92"/><circle cx="473.7" cy="197.4" r="0.46" opacity="0.78"/><circle cx="432.1" cy="178.9" r="0.44" opacity="0.62"/><circle cx="386.0" cy="172.8" r="0.48" opacity="0.70"/><circle cx="505.3" cy="211.7" r="0.74" opacity="0.83"/><circle cx="508.7" cy="218.2" r="0.75" opacity="0.92"/><circle cx="509.8" cy="213.0" r="0.37" opacity="0.59"/><circle cx="509.4" cy="205.5" r="0.50" opacity="0.93"/><circle cx="434.8" cy="180.5" r="0.82" opacity="0.55"/><circle cx="473.7" cy="185.5" r="0.50" opacity="0.57"/><circle cx="394.3" cy="169.8" r="0.66" opacity="0.60"/><circle cx="379.5" cy="160.7" r="0.40" opacity="0.66"/><circle cx="403.0" cy="171.7" r="0.33" opacity="0.55"/><circle cx="424.4" cy="173.4" r="0.35" opacity="0.58"/><circle cx="481.8" cy="190.2" r="0.47" opacity="0.98"/><circle cx="418.0" cy="172.8" r="0.53" opacity="0.93"/><circle cx="507.3" cy="212.9" r="0.70" opacity="0.60"/><circle cx="374.5" cy="168.3" r="0.75" opacity="0.70"/><circle cx="502.9" cy="204.7" r="0.31" opacity="0.78"/><circle cx="474.9" cy="191.8" r="0.64" opacity="0.69"/><circle cx="449.0" cy="185.5" r="0.59" opacity="0.96"/><circle cx="386.7" cy="157.8" r="0.83" opacity="0.60"/><circle cx="386.9" cy="179.8" r="0.57" opacity="0.53"/><circle cx="503.6" cy="203.8" r="0.64" opacity="0.91"/><circle cx="397.4" cy="169.1" r="0.52" opacity="0.92"/><circle cx="498.6" cy="203.1" r="0.52" opacity="0.76"/><circle cx="431.0" cy="181.9" r="0.70" opacity="0.95"/><circle cx="377.5" cy="156.9" r="0.32" opacity="0.92"/><circle cx="381.9" cy="162.0" r="0.64" opacity="0.65"/><circle cx="430.6" cy="175.9" r="0.66" opacity="0.72"/><circle cx="435.6" cy="186.9" r="0.57" opacity="0.62"/><circle cx="495.0" cy="197.4" r="0.40" opacity="0.74"/><circle cx="378.2" cy="170.2" r="0.35" opacity="0.72"/><circle cx="453.4" cy="189.5" r="0.35" opacity="0.87"/><circle cx="497.2" cy="195.8" r="0.58" opacity="0.69"/><circle cx="508.0" cy="217.4" r="0.85" opacity="0.87"/><circle cx="506.7" cy="204.9" r="0.57" opacity="0.98"/><circle cx="517.9" cy="213.4" r="0.81" opacity="0.53"/><circle cx="429.1" cy="178.6" r="0.79" opacity="0.64"/><circle cx="498.0" cy="203.9" r="0.81" opacity="0.60"/><circle cx="410.0" cy="168.9" r="0.32" opacity="0.59"/><circle cx="390.5" cy="175.1" r="0.79" opacity="0.58"/><circle cx="494.5" cy="201.9" r="0.65" opacity="0.68"/><circle cx="508.1" cy="201.0" r="0.79" opacity="0.55"/><circle cx="507.1" cy="211.8" r="0.74" opacity="0.63"/><circle cx="505.9" cy="211.2" r="0.72" opacity="0.72"/><circle cx="389.9" cy="168.7" r="0.75" opacity="0.63"/><circle cx="472.8" cy="195.9" r="0.67" opacity="0.66"/><circle cx="371.3" cy="166.8" r="0.64" opacity="0.72"/><circle cx="452.5" cy="185.7" r="0.42" opacity="0.83"/><circle cx="372.1" cy="169.1" r="0.36" opacity="0.68"/><circle cx="400.1" cy="165.5" r="0.41" opacity="0.81"/><circle cx="441.0" cy="188.9" r="0.43" opacity="0.57"/><circle cx="390.7" cy="159.9" r="0.73" opacity="0.70"/><circle cx="398.3" cy="179.8" r="0.61" opacity="0.68"/><circle cx="476.6" cy="181.2" r="0.70" opacity="0.62"/><circle cx="509.9" cy="213.7" r="0.52" opacity="0.62"/><circle cx="379.2" cy="165.4" r="0.60" opacity="0.97"/><circle cx="387.0" cy="169.8" r="0.58" opacity="0.82"/><circle cx="505.9" cy="202.4" r="0.47" opacity="0.52"/><circle cx="509.1" cy="209.3" r="0.30" opacity="0.92"/><circle cx="486.0" cy="189.1" r="0.55" opacity="0.61"/><circle cx="385.3" cy="166.8" r="0.48" opacity="0.87"/><circle cx="484.9" cy="197.0" r="0.45" opacity="0.78"/><circle cx="432.1" cy="182.0" r="0.45" opacity="0.82"/><circle cx="503.5" cy="214.6" r="0.31" opacity="0.63"/><circle cx="411.4" cy="171.2" r="0.71" opacity="0.66"/><circle cx="495.5" cy="205.7" r="0.80" opacity="0.82"/><circle cx="486.5" cy="187.1" r="0.56" opacity="0.92"/><circle cx="473.4" cy="196.0" r="0.70" opacity="0.79"/><circle cx="409.9" cy="177.7" r="0.34" opacity="0.96"/><circle cx="395.8" cy="170.3" r="0.81" opacity="0.67"/><circle cx="388.2" cy="169.1" r="0.68" opacity="0.82"/><circle cx="483.9" cy="193.0" r="0.62" opacity="0.68"/><circle cx="498.9" cy="204.5" r="0.34" opacity="0.93"/><circle cx="499.2" cy="211.5" r="0.41" opacity="0.56"/><circle cx="374.1" cy="169.9" r="0.65" opacity="0.91"/><circle cx="465.7" cy="189.1" r="0.35" opacity="0.88"/><circle cx="398.8" cy="167.9" r="0.31" opacity="0.63"/><circle cx="414.2" cy="173.6" r="0.48" opacity="0.98"/><circle cx="445.8" cy="187.0" r="0.32" opacity="0.71"/><circle cx="432.9" cy="181.2" r="0.69" opacity="0.77"/><circle cx="393.9" cy="171.8" r="0.75" opacity="0.59"/><circle cx="370.3" cy="166.5" r="0.84" opacity="0.50"/><circle cx="455.3" cy="174.8" r="0.40" opacity="0.75"/><circle cx="422.4" cy="180.2" r="0.82" opacity="0.64"/><circle cx="395.1" cy="168.7" r="0.36" opacity="0.82"/><circle cx="375.1" cy="167.7" r="0.73" opacity="0.81"/><circle cx="417.0" cy="175.0" r="0.79" opacity="0.54"/><circle cx="507.8" cy="209.9" r="0.44" opacity="0.95"/><circle cx="450.5" cy="176.5" r="0.43" opacity="0.73"/><circle cx="460.4" cy="184.6" r="0.66" opacity="0.67"/></g><g fill="#fff"><circle cx="387.4" cy="163.9" r="0.66" opacity="0.85"/><circle cx="396.6" cy="140.0" r="0.62" opacity="0.48"/><circle cx="398.8" cy="172.6" r="0.41" opacity="0.58"/><circle cx="388.0" cy="190.4" r="0.39" opacity="0.55"/><circle cx="394.5" cy="154.0" r="0.48" opacity="0.51"/><circle cx="414.8" cy="177.1" r="0.83" opacity="0.46"/><circle cx="395.2" cy="172.6" r="0.70" opacity="0.66"/><circle cx="388.2" cy="148.0" r="0.41" opacity="0.63"/><circle cx="374.9" cy="148.2" r="0.68" opacity="0.70"/><circle cx="392.3" cy="180.8" r="0.63" opacity="0.64"/><circle cx="395.5" cy="195.2" r="0.62" opacity="0.85"/><circle cx="393.5" cy="166.8" r="0.78" opacity="0.86"/><circle cx="400.5" cy="193.9" r="0.65" opacity="0.67"/><circle cx="389.8" cy="154.5" r="0.53" opacity="0.87"/><circle cx="390.2" cy="185.9" r="0.53" opacity="0.67"/><circle cx="382.6" cy="175.6" r="0.81" opacity="0.51"/><circle cx="391.8" cy="186.7" r="0.57" opacity="0.98"/><circle cx="371.9" cy="152.5" r="0.73" opacity="0.96"/><circle cx="390.4" cy="181.4" r="0.60" opacity="0.83"/><circle cx="396.7" cy="166.8" r="0.59" opacity="0.65"/><circle cx="405.2" cy="183.0" r="0.52" opacity="0.86"/><circle cx="391.9" cy="156.0" r="0.33" opacity="0.56"/><circle cx="397.3" cy="169.4" r="0.53" opacity="0.82"/><circle cx="398.5" cy="159.3" r="0.71" opacity="0.96"/><circle cx="394.8" cy="178.3" r="0.52" opacity="0.53"/><circle cx="394.6" cy="151.8" r="0.65" opacity="0.68"/><circle cx="378.1" cy="180.7" r="0.49" opacity="0.78"/><circle cx="418.5" cy="191.7" r="0.46" opacity="0.73"/><circle cx="377.8" cy="152.8" r="0.77" opacity="0.56"/><circle cx="393.1" cy="161.9" r="0.40" opacity="0.40"/><circle cx="398.5" cy="188.2" r="0.47" opacity="0.69"/><circle cx="400.7" cy="161.0" r="0.50" opacity="0.96"/><circle cx="401.0" cy="197.9" r="0.80" opacity="0.87"/><circle cx="388.9" cy="153.9" r="0.31" opacity="0.41"/><circle cx="407.0" cy="177.0" r="0.36" opacity="0.49"/><circle cx="388.6" cy="151.8" r="0.38" opacity="0.94"/><circle cx="394.7" cy="196.0" r="0.63" opacity="0.87"/><circle cx="398.7" cy="194.7" r="0.76" opacity="0.52"/><circle cx="383.2" cy="178.2" r="0.54" opacity="0.93"/><circle cx="386.9" cy="177.9" r="0.38" opacity="0.70"/><circle cx="382.9" cy="151.6" r="0.57" opacity="0.70"/><circle cx="390.4" cy="177.7" r="0.76" opacity="0.68"/><circle cx="387.5" cy="173.5" r="0.51" opacity="0.65"/><circle cx="404.5" cy="187.2" r="0.65" opacity="0.42"/><circle cx="390.1" cy="176.6" r="0.48" opacity="0.99"/><circle cx="379.3" cy="161.3" r="0.32" opacity="0.83"/><circle cx="387.2" cy="177.7" r="0.50" opacity="0.68"/><circle cx="400.7" cy="176.7" r="0.54" opacity="0.65"/><circle cx="384.7" cy="180.7" r="0.76" opacity="0.64"/><circle cx="387.6" cy="173.0" r="0.84" opacity="0.79"/><circle cx="407.2" cy="187.2" r="0.46" opacity="0.75"/><circle cx="390.6" cy="184.4" r="0.70" opacity="0.93"/><circle cx="388.0" cy="182.1" r="0.30" opacity="0.51"/><circle cx="414.1" cy="176.3" r="0.73" opacity="0.95"/><circle cx="380.6" cy="176.0" r="0.68" opacity="0.76"/><circle cx="383.0" cy="189.2" r="0.55" opacity="0.86"/><circle cx="390.8" cy="151.8" r="0.73" opacity="0.95"/><circle cx="388.4" cy="178.0" r="0.73" opacity="0.74"/><circle cx="402.2" cy="150.0" r="0.48" opacity="0.66"/><circle cx="392.3" cy="186.6" r="0.61" opacity="0.42"/><circle cx="382.3" cy="153.3" r="0.81" opacity="0.67"/><circle cx="369.2" cy="151.4" r="0.82" opacity="0.99"/><circle cx="398.6" cy="169.3" r="0.65" opacity="0.53"/><circle cx="387.4" cy="150.2" r="0.68" opacity="0.47"/><circle cx="415.0" cy="188.8" r="0.37" opacity="0.41"/><circle cx="398.6" cy="189.5" r="0.40" opacity="0.43"/><circle cx="407.0" cy="187.4" r="0.70" opacity="0.45"/><circle cx="374.5" cy="182.3" r="0.81" opacity="0.55"/><circle cx="408.4" cy="178.3" r="0.31" opacity="0.79"/><circle cx="402.4" cy="193.5" r="0.70" opacity="0.50"/><circle cx="410.1" cy="185.2" r="0.50" opacity="0.74"/><circle cx="395.8" cy="166.5" r="0.74" opacity="0.62"/><circle cx="383.3" cy="180.5" r="0.51" opacity="0.87"/><circle cx="409.3" cy="182.4" r="0.46" opacity="0.44"/><circle cx="407.3" cy="175.2" r="0.48" opacity="0.76"/><circle cx="404.5" cy="181.4" r="0.47" opacity="0.66"/><circle cx="403.9" cy="178.7" r="0.63" opacity="0.94"/><circle cx="408.1" cy="189.3" r="0.44" opacity="0.65"/><circle cx="387.6" cy="185.4" r="0.32" opacity="0.90"/><circle cx="390.2" cy="194.7" r="0.45" opacity="0.91"/><circle cx="395.9" cy="184.1" r="0.49" opacity="0.45"/><circle cx="376.7" cy="179.5" r="0.71" opacity="0.96"/><circle cx="388.5" cy="143.9" r="0.56" opacity="0.52"/><circle cx="388.4" cy="152.1" r="0.55" opacity="0.45"/><circle cx="391.1" cy="190.0" r="0.62" opacity="0.94"/><circle cx="405.7" cy="179.2" r="0.62" opacity="0.51"/><circle cx="388.3" cy="153.8" r="0.50" opacity="0.74"/><circle cx="405.9" cy="160.9" r="0.32" opacity="1.00"/><circle cx="397.7" cy="167.6" r="0.73" opacity="0.49"/><circle cx="391.9" cy="177.3" r="0.31" opacity="0.42"/><circle cx="421.7" cy="181.2" r="0.61" opacity="0.56"/><circle cx="393.5" cy="177.0" r="0.72" opacity="0.89"/><circle cx="421.4" cy="178.4" r="0.41" opacity="0.51"/><circle cx="381.9" cy="160.1" r="0.78" opacity="0.67"/><circle cx="416.3" cy="182.6" r="0.63" opacity="0.64"/><circle cx="381.9" cy="154.9" r="0.61" opacity="0.78"/><circle cx="413.2" cy="176.7" r="0.55" opacity="0.50"/><circle cx="409.6" cy="182.7" r="0.32" opacity="0.55"/><circle cx="397.7" cy="170.4" r="0.76" opacity="0.43"/><circle cx="391.2" cy="187.8" r="0.84" opacity="0.43"/><circle cx="376.6" cy="150.2" r="0.67" opacity="0.58"/><circle cx="372.4" cy="181.5" r="0.48" opacity="0.55"/><circle cx="380.3" cy="146.8" r="0.43" opacity="0.49"/><circle cx="389.1" cy="196.7" r="0.41" opacity="0.42"/><circle cx="414.0" cy="184.5" r="0.78" opacity="0.93"/><circle cx="398.7" cy="147.2" r="0.81" opacity="0.91"/><circle cx="386.9" cy="178.8" r="0.75" opacity="0.69"/><circle cx="387.6" cy="186.7" r="0.33" opacity="0.83"/><circle cx="392.2" cy="185.8" r="0.45" opacity="0.65"/><circle cx="395.5" cy="148.1" r="0.48" opacity="0.50"/></g><g fill="none" stroke-linecap="round" stroke-linejoin="round"><path d="M501.3,201.8L501.6,202.6L501.3,203.6L500.8,204.8L500.6,205.7L500.8,206.3L501.5,206.6L502.4,206.9L503.3,207.1L504.0,207.4L504.6,207.8L504.9,208.4L505.1,209.0L505.2,209.6L505.3,210.2L505.5,210.9" stroke="#fff" stroke-width="0.62" stroke-opacity="0.63"/><path d="M499.9,198.6L499.8,199.6L499.9,200.6L500.5,201.3L501.7,201.8L503.2,202.2L504.6,202.5L505.6,203.1L506.0,203.9L506.1,204.8L506.0,205.7L505.9,206.6L505.8,207.3L506.0,208.0L506.2,208.5L506.5,209.0L506.8,209.5L507.0,210.0L507.2,210.6L507.3,211.1L507.3,211.7L507.3,212.2L507.5,212.7L507.7,213.2L508.2,213.6L508.7,213.9L509.3,214.2" stroke="#fff" stroke-width="0.67" stroke-opacity="0.60"/><path d="M498.5,199.4L498.8,200.2L499.0,201.2L499.3,202.2L499.5,203.4L499.7,204.5L500.3,205.4L501.5,205.9L502.7,206.2L503.5,206.7L503.7,207.5L503.2,208.6L502.6,209.8L502.2,210.7L502.6,211.2L503.6,211.4L504.9,211.5L506.1,211.6L506.6,212.0L506.6,212.6L506.0,213.5L505.2,214.4L504.8,215.1L504.9,215.6L505.4,215.9" stroke="#fff" stroke-width="0.88" stroke-opacity="0.63"/><path d="M500.8,198.7L501.2,199.3L501.9,199.9L502.8,200.4L503.4,201.2L503.4,202.3L503.0,203.6L503.0,204.6L503.6,205.2L504.6,205.4L505.6,205.7L506.2,206.1L506.5,206.6L506.5,207.3L506.4,208.0L506.4,208.6L506.6,209.1L507.0,209.5L507.3,210.0L507.5,210.5L507.5,211.1L507.3,211.7L507.2,212.4L507.2,213.0L507.6,213.5L508.1,213.8" stroke="#fff" stroke-width="0.71" stroke-opacity="0.86"/></g><g fill="#fff"><circle cx="496.3" cy="202.6" r="0.47" opacity="0.91"/><circle cx="501.1" cy="197.8" r="0.31" opacity="0.95"/><circle cx="493.6" cy="184.0" r="0.43" opacity="0.51"/><circle cx="499.5" cy="196.3" r="0.38" opacity="0.62"/><circle cx="493.8" cy="193.6" r="0.56" opacity="0.67"/><circle cx="497.7" cy="191.5" r="0.66" opacity="0.89"/><circle cx="497.8" cy="196.9" r="0.66" opacity="0.63"/><circle cx="494.7" cy="194.0" r="0.74" opacity="0.97"/><circle cx="496.2" cy="188.0" r="0.57" opacity="0.72"/><circle cx="498.2" cy="207.0" r="0.41" opacity="0.51"/><circle cx="499.7" cy="197.0" r="0.71" opacity="0.42"/><circle cx="500.3" cy="200.4" r="0.40" opacity="0.41"/><circle cx="502.4" cy="188.7" r="0.56" opacity="0.82"/><circle cx="494.2" cy="202.1" r="0.66" opacity="0.43"/><circle cx="504.1" cy="198.2" r="0.55" opacity="0.57"/><circle cx="502.1" cy="197.7" r="0.37" opacity="0.76"/><circle cx="501.5" cy="195.8" r="0.59" opacity="0.85"/><circle cx="495.8" cy="198.8" r="0.77" opacity="0.63"/><circle cx="506.0" cy="185.6" r="0.56" opacity="0.64"/><circle cx="502.6" cy="202.1" r="0.47" opacity="0.54"/><circle cx="494.9" cy="191.3" r="0.79" opacity="0.88"/><circle cx="502.6" cy="201.8" r="0.72" opacity="0.43"/><circle cx="493.2" cy="181.5" r="0.77" opacity="0.55"/><circle cx="496.6" cy="187.8" r="0.48" opacity="0.72"/><circle cx="501.3" cy="198.8" r="0.55" opacity="0.41"/><circle cx="500.2" cy="202.5" r="0.69" opacity="0.96"/><circle cx="508.2" cy="187.9" r="0.74" opacity="0.93"/><circle cx="491.2" cy="201.0" r="0.43" opacity="0.81"/><circle cx="499.5" cy="193.1" r="0.76" opacity="0.77"/><circle cx="504.2" cy="194.0" r="0.52" opacity="0.97"/><circle cx="504.1" cy="193.0" r="0.62" opacity="0.47"/><circle cx="502.2" cy="183.6" r="0.56" opacity="0.56"/><circle cx="491.0" cy="188.0" r="0.37" opacity="0.47"/><circle cx="499.3" cy="196.8" r="0.50" opacity="0.57"/><circle cx="501.1" cy="194.1" r="0.57" opacity="0.90"/><circle cx="500.1" cy="189.0" r="0.63" opacity="0.52"/><circle cx="493.9" cy="192.6" r="0.57" opacity="0.77"/><circle cx="492.6" cy="189.8" r="0.42" opacity="0.53"/><circle cx="498.8" cy="189.1" r="0.59" opacity="0.41"/><circle cx="497.6" cy="188.0" r="0.42" opacity="0.73"/><circle cx="506.0" cy="189.9" r="0.79" opacity="0.58"/><circle cx="498.2" cy="194.4" r="0.33" opacity="0.92"/><circle cx="495.1" cy="192.3" r="0.49" opacity="0.66"/><circle cx="498.7" cy="193.8" r="0.41" opacity="0.98"/><circle cx="495.6" cy="193.8" r="0.47" opacity="0.61"/><circle cx="495.1" cy="190.9" r="0.72" opacity="0.89"/><circle cx="491.8" cy="185.9" r="0.67" opacity="0.86"/><circle cx="497.1" cy="185.3" r="0.65" opacity="0.95"/><circle cx="499.4" cy="201.1" r="0.30" opacity="0.86"/><circle cx="505.3" cy="189.0" r="0.78" opacity="0.74"/><circle cx="495.0" cy="186.4" r="0.74" opacity="0.76"/><circle cx="502.3" cy="190.0" r="0.53" opacity="0.83"/><circle cx="501.8" cy="192.7" r="0.58" opacity="0.63"/><circle cx="502.8" cy="190.2" r="0.72" opacity="0.70"/><circle cx="505.9" cy="191.0" r="0.45" opacity="0.49"/><circle cx="499.1" cy="188.1" r="0.34" opacity="0.95"/><circle cx="495.0" cy="189.7" r="0.72" opacity="0.98"/><circle cx="506.6" cy="195.5" r="0.76" opacity="0.41"/><circle cx="503.1" cy="200.2" r="0.55" opacity="0.95"/><circle cx="499.9" cy="194.9" r="0.80" opacity="0.71"/><circle cx="491.8" cy="186.4" r="0.49" opacity="0.61"/><circle cx="497.2" cy="190.1" r="0.77" opacity="0.81"/><circle cx="495.4" cy="191.7" r="0.49" opacity="0.64"/><circle cx="497.6" cy="187.9" r="0.74" opacity="0.98"/><circle cx="495.5" cy="188.6" r="0.61" opacity="1.00"/><circle cx="498.4" cy="190.6" r="0.71" opacity="0.50"/><circle cx="503.1" cy="188.3" r="0.71" opacity="0.71"/><circle cx="510.6" cy="202.1" r="0.64" opacity="0.89"/><circle cx="504.8" cy="204.4" r="0.51" opacity="0.49"/><circle cx="497.4" cy="192.5" r="0.55" opacity="0.51"/><circle cx="503.8" cy="196.9" r="0.60" opacity="0.61"/><circle cx="504.4" cy="201.1" r="0.32" opacity="0.65"/><circle cx="497.7" cy="195.0" r="0.65" opacity="0.40"/><circle cx="493.8" cy="190.8" r="0.59" opacity="0.80"/><circle cx="507.1" cy="195.9" r="0.58" opacity="0.56"/><circle cx="503.5" cy="190.3" r="0.80" opacity="0.74"/><circle cx="493.1" cy="191.8" r="0.38" opacity="0.86"/><circle cx="499.3" cy="195.8" r="0.39" opacity="0.71"/><circle cx="499.4" cy="197.1" r="0.70" opacity="0.44"/><circle cx="491.8" cy="202.6" r="0.46" opacity="0.83"/><circle cx="498.7" cy="192.2" r="0.43" opacity="0.46"/><circle cx="500.4" cy="199.4" r="0.47" opacity="0.67"/><circle cx="494.2" cy="192.7" r="0.75" opacity="0.75"/><circle cx="499.1" cy="199.2" r="0.61" opacity="0.55"/><circle cx="496.6" cy="205.1" r="0.73" opacity="0.59"/><circle cx="501.2" cy="201.4" r="0.45" opacity="0.76"/><circle cx="492.5" cy="199.7" r="0.77" opacity="0.55"/><circle cx="496.5" cy="187.9" r="0.41" opacity="0.59"/><circle cx="503.1" cy="198.1" r="0.70" opacity="0.55"/><circle cx="493.9" cy="196.2" r="0.39" opacity="0.98"/><circle cx="502.2" cy="192.4" r="0.36" opacity="0.72"/><circle cx="504.2" cy="190.2" r="0.33" opacity="0.47"/><circle cx="501.3" cy="196.1" r="0.42" opacity="0.51"/><circle cx="493.9" cy="193.2" r="0.32" opacity="0.80"/><circle cx="501.6" cy="192.4" r="0.65" opacity="0.46"/><circle cx="500.4" cy="192.8" r="0.36" opacity="0.67"/><circle cx="507.4" cy="198.7" r="0.38" opacity="0.61"/><circle cx="490.3" cy="193.2" r="0.78" opacity="0.52"/><circle cx="493.2" cy="199.6" r="0.41" opacity="0.67"/><circle cx="496.2" cy="199.3" r="0.43" opacity="0.94"/><circle cx="503.7" cy="189.9" r="0.42" opacity="0.76"/><circle cx="495.5" cy="196.4" r="0.36" opacity="0.71"/><circle cx="507.9" cy="190.2" r="0.69" opacity="0.63"/><circle cx="497.0" cy="190.4" r="0.46" opacity="0.63"/><circle cx="492.6" cy="196.7" r="0.73" opacity="0.59"/><circle cx="499.6" cy="192.7" r="0.58" opacity="0.62"/><circle cx="496.0" cy="189.8" r="0.33" opacity="0.59"/><circle cx="498.0" cy="194.4" r="0.66" opacity="0.57"/><circle cx="500.6" cy="185.0" r="0.69" opacity="0.93"/><circle cx="504.2" cy="195.7" r="0.44" opacity="0.42"/><circle cx="496.0" cy="190.8" r="0.48" opacity="0.65"/><circle cx="491.3" cy="189.8" r="0.42" opacity="0.91"/><circle cx="491.5" cy="189.8" r="0.39" opacity="0.47"/><circle cx="503.6" cy="200.9" r="0.66" opacity="0.42"/><circle cx="493.8" cy="196.9" r="0.40" opacity="0.58"/><circle cx="498.7" cy="193.0" r="0.46" opacity="0.78"/><circle cx="499.0" cy="198.1" r="0.59" opacity="0.83"/><circle cx="506.6" cy="193.8" r="0.64" opacity="0.61"/><circle cx="503.3" cy="203.5" r="0.69" opacity="0.57"/><circle cx="498.1" cy="203.5" r="0.60" opacity="0.43"/><circle cx="500.6" cy="194.1" r="0.70" opacity="0.53"/><circle cx="500.4" cy="201.1" r="0.34" opacity="0.82"/><circle cx="493.7" cy="187.5" r="0.71" opacity="0.57"/><circle cx="503.1" cy="204.2" r="0.51" opacity="0.96"/><circle cx="504.5" cy="191.1" r="0.71" opacity="0.78"/><circle cx="490.4" cy="192.4" r="0.65" opacity="0.66"/><circle cx="498.5" cy="182.6" r="0.36" opacity="0.86"/><circle cx="497.1" cy="201.5" r="0.70" opacity="0.56"/><circle cx="500.1" cy="181.4" r="0.62" opacity="0.73"/><circle cx="494.2" cy="194.0" r="0.48" opacity="0.65"/><circle cx="499.7" cy="195.3" r="0.37" opacity="0.82"/><circle cx="502.1" cy="192.2" r="0.42" opacity="0.71"/><circle cx="494.8" cy="183.0" r="0.48" opacity="0.58"/><circle cx="502.0" cy="196.1" r="0.58" opacity="0.60"/><circle cx="496.2" cy="196.5" r="0.68" opacity="0.50"/><circle cx="492.2" cy="190.6" r="0.53" opacity="0.86"/><circle cx="492.2" cy="195.2" r="0.44" opacity="0.62"/><circle cx="495.8" cy="194.5" r="0.44" opacity="0.52"/><circle cx="499.7" cy="192.4" r="0.36" opacity="0.59"/><circle cx="492.8" cy="189.3" r="0.38" opacity="0.44"/><circle cx="498.9" cy="209.5" r="0.68" opacity="0.45"/><circle cx="499.1" cy="191.1" r="0.58" opacity="0.47"/><circle cx="484.3" cy="188.7" r="0.39" opacity="0.73"/><circle cx="498.4" cy="205.2" r="0.62" opacity="0.78"/><circle cx="498.6" cy="200.7" r="0.43" opacity="0.55"/><circle cx="495.1" cy="194.8" r="0.69" opacity="0.90"/><circle cx="498.9" cy="193.1" r="0.62" opacity="0.91"/><circle cx="501.1" cy="196.7" r="0.69" opacity="0.90"/><circle cx="496.7" cy="193.8" r="0.39" opacity="0.90"/><circle cx="493.6" cy="192.0" r="0.58" opacity="0.62"/></g><g fill="#fff"><circle cx="500.1" cy="196.0" r="4.50" opacity="0.30"/></g><g fill="#fff"><circle cx="454.1" cy="199.3" r="0.62" opacity="0.84"/><circle cx="434.1" cy="216.3" r="0.52" opacity="0.39"/><circle cx="457.5" cy="208.3" r="0.34" opacity="0.71"/><circle cx="490.5" cy="225.7" r="0.74" opacity="0.35"/><circle cx="482.4" cy="228.1" r="0.39" opacity="0.73"/><circle cx="466.4" cy="232.2" r="0.68" opacity="0.77"/><circle cx="467.3" cy="207.8" r="0.60" opacity="0.61"/><circle cx="474.6" cy="209.0" r="0.50" opacity="0.70"/><circle cx="472.0" cy="225.0" r="0.37" opacity="0.48"/><circle cx="426.7" cy="193.0" r="0.46" opacity="0.42"/><circle cx="472.9" cy="223.1" r="0.51" opacity="0.88"/><circle cx="470.9" cy="231.1" r="0.74" opacity="0.88"/><circle cx="444.8" cy="196.5" r="0.33" opacity="0.71"/><circle cx="439.8" cy="201.5" r="0.56" opacity="0.87"/><circle cx="456.9" cy="198.6" r="0.43" opacity="0.51"/><circle cx="468.3" cy="216.5" r="0.38" opacity="0.71"/><circle cx="462.5" cy="209.7" r="0.60" opacity="0.52"/><circle cx="469.9" cy="206.8" r="0.54" opacity="0.64"/><circle cx="455.1" cy="207.8" r="0.38" opacity="0.83"/><circle cx="472.4" cy="211.6" r="0.69" opacity="0.45"/><circle cx="459.6" cy="222.1" r="0.41" opacity="0.59"/><circle cx="481.2" cy="211.9" r="0.56" opacity="0.37"/><circle cx="462.9" cy="201.1" r="0.34" opacity="0.54"/><circle cx="460.5" cy="221.8" r="0.69" opacity="0.63"/><circle cx="476.0" cy="213.4" r="0.35" opacity="0.89"/><circle cx="430.2" cy="204.4" r="0.67" opacity="0.54"/><circle cx="452.6" cy="222.0" r="0.55" opacity="0.76"/><circle cx="510.1" cy="236.0" r="0.33" opacity="0.44"/><circle cx="493.2" cy="220.1" r="0.57" opacity="0.43"/><circle cx="468.8" cy="210.5" r="0.49" opacity="0.83"/><circle cx="500.1" cy="209.3" r="0.55" opacity="0.85"/><circle cx="434.2" cy="210.0" r="0.64" opacity="0.50"/><circle cx="455.3" cy="212.7" r="0.67" opacity="0.37"/><circle cx="435.5" cy="195.9" r="0.73" opacity="0.73"/><circle cx="487.0" cy="231.8" r="0.34" opacity="0.63"/><circle cx="472.5" cy="217.4" r="0.72" opacity="0.71"/><circle cx="455.2" cy="211.3" r="0.50" opacity="0.80"/><circle cx="479.9" cy="213.8" r="0.31" opacity="0.37"/><circle cx="459.4" cy="214.4" r="0.55" opacity="0.47"/><circle cx="452.9" cy="207.4" r="0.36" opacity="0.83"/><circle cx="449.0" cy="196.1" r="0.66" opacity="0.87"/><circle cx="455.2" cy="220.0" r="0.37" opacity="0.60"/><circle cx="463.9" cy="225.4" r="0.32" opacity="0.41"/><circle cx="436.2" cy="212.5" r="0.48" opacity="0.59"/><circle cx="433.4" cy="215.7" r="0.48" opacity="0.82"/><circle cx="500.2" cy="220.2" r="0.45" opacity="0.43"/><circle cx="457.2" cy="221.8" r="0.32" opacity="0.40"/><circle cx="449.0" cy="203.2" r="0.56" opacity="0.53"/><circle cx="483.5" cy="218.1" r="0.56" opacity="0.50"/><circle cx="464.4" cy="224.1" r="0.74" opacity="0.33"/><circle cx="466.0" cy="222.7" r="0.42" opacity="0.46"/><circle cx="492.0" cy="213.6" r="0.56" opacity="0.62"/><circle cx="458.3" cy="240.2" r="0.32" opacity="0.64"/><circle cx="446.7" cy="211.8" r="0.65" opacity="0.68"/><circle cx="423.5" cy="197.6" r="0.43" opacity="0.78"/><circle cx="446.2" cy="224.5" r="0.61" opacity="0.48"/><circle cx="428.6" cy="206.0" r="0.53" opacity="0.68"/><circle cx="431.8" cy="198.6" r="0.48" opacity="0.34"/><circle cx="487.8" cy="215.5" r="0.74" opacity="0.59"/><circle cx="482.2" cy="213.7" r="0.41" opacity="0.51"/><circle cx="476.6" cy="217.7" r="0.69" opacity="0.57"/><circle cx="469.7" cy="203.8" r="0.44" opacity="0.40"/><circle cx="472.6" cy="223.1" r="0.44" opacity="0.74"/><circle cx="477.3" cy="196.4" r="0.45" opacity="0.85"/><circle cx="449.9" cy="206.9" r="0.38" opacity="0.65"/><circle cx="458.6" cy="221.1" r="0.65" opacity="0.56"/><circle cx="462.9" cy="215.8" r="0.52" opacity="0.84"/><circle cx="459.4" cy="211.4" r="0.31" opacity="0.40"/><circle cx="481.6" cy="216.6" r="0.40" opacity="0.54"/><circle cx="497.1" cy="226.1" r="0.69" opacity="0.69"/><circle cx="491.4" cy="225.7" r="0.73" opacity="0.66"/><circle cx="494.2" cy="236.3" r="0.69" opacity="0.50"/><circle cx="482.6" cy="222.4" r="0.54" opacity="0.83"/><circle cx="478.6" cy="204.1" r="0.40" opacity="0.50"/><circle cx="427.9" cy="204.5" r="0.48" opacity="0.71"/><circle cx="434.6" cy="204.6" r="0.49" opacity="0.33"/><circle cx="472.7" cy="210.1" r="0.52" opacity="0.66"/><circle cx="451.4" cy="210.1" r="0.31" opacity="0.86"/><circle cx="494.8" cy="196.3" r="0.33" opacity="0.67"/><circle cx="440.6" cy="206.4" r="0.34" opacity="0.39"/><circle cx="443.8" cy="218.5" r="0.34" opacity="0.79"/><circle cx="495.9" cy="211.6" r="0.56" opacity="0.63"/><circle cx="479.0" cy="210.6" r="0.45" opacity="0.74"/><circle cx="441.0" cy="207.2" r="0.64" opacity="0.77"/><circle cx="500.0" cy="217.1" r="0.74" opacity="0.57"/><circle cx="499.7" cy="220.9" r="0.72" opacity="0.38"/><circle cx="488.0" cy="230.4" r="0.59" opacity="0.76"/><circle cx="470.7" cy="197.3" r="0.40" opacity="0.75"/><circle cx="513.5" cy="228.3" r="0.36" opacity="0.34"/><circle cx="470.6" cy="203.6" r="0.38" opacity="0.86"/><circle cx="465.5" cy="210.6" r="0.38" opacity="0.74"/><circle cx="472.9" cy="220.9" r="0.31" opacity="0.77"/><circle cx="458.7" cy="213.6" r="0.52" opacity="0.68"/><circle cx="527.7" cy="220.7" r="0.51" opacity="0.49"/><circle cx="495.9" cy="225.5" r="0.63" opacity="0.34"/><circle cx="460.6" cy="207.1" r="0.69" opacity="0.34"/><circle cx="450.0" cy="201.4" r="0.71" opacity="0.87"/><circle cx="457.5" cy="207.5" r="0.41" opacity="0.46"/><circle cx="455.6" cy="205.4" r="0.39" opacity="0.76"/><circle cx="472.4" cy="211.0" r="0.75" opacity="0.43"/><circle cx="452.2" cy="205.8" r="0.69" opacity="0.82"/><circle cx="460.1" cy="211.1" r="0.67" opacity="0.47"/><circle cx="501.6" cy="218.1" r="0.70" opacity="0.40"/><circle cx="487.7" cy="214.6" r="0.50" opacity="0.65"/><circle cx="437.6" cy="211.7" r="0.70" opacity="0.52"/><circle cx="454.4" cy="214.7" r="0.38" opacity="0.82"/><circle cx="421.3" cy="210.7" r="0.31" opacity="0.37"/><circle cx="464.1" cy="215.0" r="0.71" opacity="0.39"/><circle cx="464.6" cy="213.5" r="0.38" opacity="0.71"/><circle cx="453.7" cy="218.2" r="0.71" opacity="0.73"/><circle cx="470.8" cy="234.6" r="0.31" opacity="0.44"/><circle cx="423.9" cy="207.2" r="0.32" opacity="0.60"/><circle cx="433.3" cy="207.0" r="0.35" opacity="0.31"/><circle cx="485.5" cy="227.3" r="0.70" opacity="0.37"/><circle cx="465.1" cy="209.0" r="0.49" opacity="0.41"/><circle cx="466.4" cy="212.3" r="0.63" opacity="0.60"/><circle cx="452.3" cy="217.4" r="0.52" opacity="0.85"/><circle cx="478.8" cy="213.7" r="0.74" opacity="0.83"/><circle cx="477.2" cy="216.3" r="0.38" opacity="0.46"/><circle cx="447.5" cy="212.0" r="0.53" opacity="0.54"/><circle cx="469.6" cy="206.9" r="0.30" opacity="0.71"/><circle cx="459.5" cy="206.0" r="0.55" opacity="0.71"/><circle cx="438.6" cy="226.0" r="0.62" opacity="0.54"/><circle cx="461.2" cy="209.0" r="0.74" opacity="0.53"/><circle cx="486.9" cy="212.4" r="0.36" opacity="0.90"/><circle cx="476.4" cy="229.6" r="0.72" opacity="0.45"/><circle cx="467.6" cy="207.7" r="0.41" opacity="0.42"/><circle cx="448.5" cy="223.1" r="0.65" opacity="0.85"/><circle cx="489.1" cy="233.8" r="0.45" opacity="0.69"/><circle cx="476.9" cy="209.3" r="0.74" opacity="0.30"/><circle cx="459.5" cy="212.2" r="0.53" opacity="0.66"/><circle cx="421.6" cy="209.7" r="0.58" opacity="0.75"/><circle cx="467.0" cy="203.9" r="0.48" opacity="0.62"/><circle cx="490.7" cy="210.0" r="0.44" opacity="0.68"/><circle cx="445.7" cy="202.7" r="0.58" opacity="0.46"/><circle cx="458.8" cy="221.3" r="0.62" opacity="0.61"/><circle cx="453.5" cy="204.6" r="0.36" opacity="0.86"/><circle cx="469.9" cy="204.1" r="0.54" opacity="0.79"/><circle cx="460.2" cy="213.2" r="0.67" opacity="0.58"/><circle cx="480.7" cy="207.0" r="0.70" opacity="0.82"/><circle cx="432.0" cy="214.3" r="0.67" opacity="0.79"/><circle cx="469.7" cy="219.0" r="0.41" opacity="0.36"/><circle cx="476.1" cy="206.4" r="0.53" opacity="0.57"/><circle cx="493.2" cy="229.1" r="0.75" opacity="0.72"/><circle cx="478.6" cy="207.4" r="0.66" opacity="0.76"/><circle cx="470.6" cy="223.7" r="0.47" opacity="0.61"/><circle cx="490.9" cy="221.3" r="0.45" opacity="0.53"/><circle cx="484.0" cy="225.0" r="0.56" opacity="0.33"/><circle cx="465.0" cy="220.4" r="0.42" opacity="0.49"/><circle cx="495.3" cy="222.6" r="0.34" opacity="0.68"/><circle cx="504.4" cy="228.0" r="0.49" opacity="0.78"/><circle cx="455.5" cy="205.0" r="0.32" opacity="0.57"/><circle cx="453.5" cy="201.2" r="0.43" opacity="0.54"/><circle cx="492.4" cy="210.9" r="0.46" opacity="0.53"/><circle cx="438.3" cy="188.6" r="0.39" opacity="0.88"/><circle cx="442.5" cy="206.1" r="0.60" opacity="0.50"/><circle cx="441.6" cy="222.1" r="0.47" opacity="0.62"/><circle cx="485.2" cy="199.2" r="0.64" opacity="0.32"/><circle cx="468.1" cy="206.1" r="0.51" opacity="0.80"/><circle cx="454.1" cy="202.2" r="0.70" opacity="0.56"/></g><g fill="#fff"><circle cx="461.5" cy="184.1" r="0.63" opacity="0.64"/><circle cx="442.1" cy="194.8" r="0.32" opacity="0.64"/><circle cx="417.7" cy="164.4" r="0.61" opacity="0.36"/><circle cx="423.4" cy="190.9" r="0.63" opacity="0.35"/><circle cx="445.4" cy="217.5" r="0.53" opacity="0.33"/><circle cx="468.0" cy="194.0" r="0.49" opacity="0.33"/><circle cx="400.6" cy="177.3" r="0.53" opacity="0.80"/><circle cx="408.8" cy="197.5" r="0.36" opacity="0.47"/><circle cx="387.4" cy="177.1" r="0.70" opacity="0.44"/><circle cx="439.9" cy="194.0" r="0.40" opacity="0.73"/><circle cx="469.4" cy="187.6" r="0.47" opacity="0.33"/><circle cx="431.0" cy="182.3" r="0.62" opacity="0.73"/><circle cx="494.3" cy="211.4" r="0.32" opacity="0.57"/><circle cx="462.5" cy="190.5" r="0.50" opacity="0.59"/><circle cx="467.8" cy="186.1" r="0.38" opacity="0.76"/><circle cx="479.8" cy="202.8" r="0.43" opacity="0.57"/><circle cx="441.3" cy="179.5" r="0.43" opacity="0.44"/><circle cx="459.0" cy="204.4" r="0.58" opacity="0.70"/><circle cx="421.0" cy="175.6" r="0.67" opacity="0.52"/><circle cx="421.7" cy="193.0" r="0.47" opacity="0.62"/><circle cx="425.3" cy="218.3" r="0.33" opacity="0.60"/><circle cx="453.3" cy="213.2" r="0.52" opacity="0.70"/><circle cx="504.9" cy="193.1" r="0.57" opacity="0.45"/><circle cx="438.6" cy="201.3" r="0.36" opacity="0.76"/><circle cx="492.6" cy="213.1" r="0.34" opacity="0.69"/><circle cx="448.7" cy="212.1" r="0.56" opacity="0.43"/><circle cx="425.8" cy="209.1" r="0.36" opacity="0.33"/><circle cx="416.1" cy="186.2" r="0.63" opacity="0.45"/><circle cx="431.5" cy="194.5" r="0.43" opacity="0.58"/><circle cx="472.5" cy="223.4" r="0.43" opacity="0.72"/><circle cx="487.7" cy="225.0" r="0.69" opacity="0.50"/><circle cx="478.0" cy="220.8" r="0.56" opacity="0.41"/><circle cx="447.5" cy="191.1" r="0.49" opacity="0.66"/><circle cx="442.0" cy="175.7" r="0.35" opacity="0.71"/><circle cx="451.7" cy="222.5" r="0.70" opacity="0.77"/><circle cx="488.5" cy="198.0" r="0.44" opacity="0.68"/><circle cx="445.6" cy="163.0" r="0.34" opacity="0.54"/><circle cx="437.8" cy="207.3" r="0.52" opacity="0.34"/><circle cx="408.7" cy="192.8" r="0.66" opacity="0.72"/><circle cx="456.2" cy="204.8" r="0.31" opacity="0.60"/><circle cx="500.8" cy="227.0" r="0.68" opacity="0.63"/><circle cx="431.1" cy="204.8" r="0.48" opacity="0.42"/><circle cx="448.1" cy="197.1" r="0.62" opacity="0.45"/><circle cx="417.2" cy="205.0" r="0.34" opacity="0.58"/><circle cx="454.2" cy="204.0" r="0.48" opacity="0.32"/><circle cx="404.4" cy="177.4" r="0.56" opacity="0.37"/><circle cx="442.3" cy="183.7" r="0.45" opacity="0.63"/><circle cx="426.1" cy="195.3" r="0.68" opacity="0.47"/><circle cx="450.4" cy="214.5" r="0.49" opacity="0.37"/><circle cx="384.2" cy="202.8" r="0.35" opacity="0.55"/><circle cx="474.8" cy="198.6" r="0.49" opacity="0.38"/><circle cx="441.6" cy="178.5" r="0.45" opacity="0.40"/><circle cx="434.8" cy="185.3" r="0.35" opacity="0.42"/><circle cx="447.6" cy="209.3" r="0.66" opacity="0.31"/><circle cx="411.1" cy="202.0" r="0.62" opacity="0.59"/><circle cx="429.5" cy="187.8" r="0.60" opacity="0.38"/><circle cx="420.9" cy="188.8" r="0.46" opacity="0.56"/><circle cx="449.4" cy="189.9" r="0.33" opacity="0.59"/><circle cx="497.6" cy="214.8" r="0.61" opacity="0.66"/><circle cx="475.5" cy="216.2" r="0.54" opacity="0.79"/><circle cx="442.6" cy="215.5" r="0.58" opacity="0.71"/><circle cx="454.3" cy="184.8" r="0.48" opacity="0.76"/><circle cx="474.0" cy="240.2" r="0.46" opacity="0.50"/><circle cx="442.0" cy="205.0" r="0.59" opacity="0.64"/><circle cx="449.1" cy="205.6" r="0.36" opacity="0.40"/><circle cx="460.7" cy="203.9" r="0.69" opacity="0.80"/><circle cx="464.0" cy="206.8" r="0.50" opacity="0.69"/><circle cx="402.6" cy="203.9" r="0.55" opacity="0.40"/><circle cx="419.5" cy="168.7" r="0.61" opacity="0.35"/><circle cx="401.6" cy="180.3" r="0.36" opacity="0.78"/><circle cx="417.2" cy="176.6" r="0.35" opacity="0.71"/><circle cx="389.8" cy="208.8" r="0.60" opacity="0.72"/><circle cx="414.3" cy="193.4" r="0.47" opacity="0.71"/><circle cx="402.0" cy="189.6" r="0.42" opacity="0.78"/><circle cx="393.2" cy="145.8" r="0.35" opacity="0.78"/><circle cx="425.6" cy="193.1" r="0.64" opacity="0.42"/><circle cx="417.3" cy="193.2" r="0.39" opacity="0.55"/><circle cx="464.8" cy="221.3" r="0.58" opacity="0.50"/><circle cx="414.7" cy="192.7" r="0.57" opacity="0.77"/><circle cx="388.3" cy="185.9" r="0.33" opacity="0.63"/></g></g><g fill="#6d717c"><circle cx="470.8" cy="259.6" r="0.55" opacity="0.86"/><circle cx="499.4" cy="290.1" r="0.56" opacity="0.89"/><circle cx="500.5" cy="266.0" r="0.34" opacity="0.86"/><circle cx="515.8" cy="263.0" r="0.90" opacity="0.60"/><ellipse cx="469.3" cy="264.9" rx="0.34" ry="0.78" opacity="0.84"/><circle cx="527.0" cy="298.6" r="0.69" opacity="0.85"/><circle cx="452.2" cy="242.8" r="0.38" opacity="0.78"/><circle cx="473.3" cy="263.1" r="0.94" opacity="0.86"/><circle cx="509.9" cy="247.1" r="0.36" opacity="0.88"/><ellipse cx="405.6" cy="258.1" rx="0.44" ry="1.00" opacity="0.48"/><circle cx="501.1" cy="262.3" r="0.90" opacity="0.65"/><circle cx="497.7" cy="271.9" r="0.51" opacity="0.55"/><ellipse cx="437.0" cy="264.4" rx="0.50" ry="1.12" opacity="0.79"/><circle cx="470.2" cy="271.3" r="0.49" opacity="0.63"/><circle cx="512.4" cy="240.9" r="0.71" opacity="0.65"/><ellipse cx="459.1" cy="271.2" rx="0.71" ry="1.59" opacity="0.45"/><circle cx="446.8" cy="268.0" r="0.32" opacity="0.90"/><ellipse cx="444.1" cy="242.4" rx="0.72" ry="1.63" opacity="0.72"/><ellipse cx="480.6" cy="263.5" rx="0.64" ry="1.44" opacity="0.64"/><ellipse cx="469.9" cy="243.2" rx="0.44" ry="0.98" opacity="0.61"/><circle cx="494.3" cy="271.5" r="0.55" opacity="0.90"/><circle cx="452.6" cy="244.9" r="0.96" opacity="0.70"/><circle cx="550.4" cy="230.9" r="0.33" opacity="0.58"/><ellipse cx="457.1" cy="247.5" rx="0.80" ry="1.79" opacity="0.79"/><circle cx="444.4" cy="284.8" r="0.85" opacity="0.70"/><ellipse cx="524.0" cy="265.6" rx="0.52" ry="1.16" opacity="0.86"/><ellipse cx="503.9" cy="246.2" rx="0.38" ry="0.84" opacity="0.85"/><circle cx="485.3" cy="296.7" r="0.79" opacity="0.72"/><circle cx="488.2" cy="247.7" r="0.82" opacity="0.46"/><circle cx="533.1" cy="281.4" r="0.43" opacity="0.40"/><circle cx="488.6" cy="273.6" r="0.42" opacity="0.86"/><circle cx="450.8" cy="267.3" r="0.74" opacity="0.82"/><circle cx="470.9" cy="241.7" r="0.69" opacity="0.65"/><ellipse cx="453.9" cy="286.2" rx="0.57" ry="1.28" opacity="0.76"/><circle cx="484.2" cy="282.7" r="0.58" opacity="0.68"/><circle cx="485.2" cy="244.3" r="0.67" opacity="0.48"/><circle cx="494.0" cy="253.1" r="0.47" opacity="0.68"/><circle cx="479.3" cy="289.3" r="0.58" opacity="0.70"/></g><g fill="#8a8e98"><circle cx="549.5" cy="258.1" r="0.37" opacity="0.54"/><ellipse cx="439.5" cy="274.4" rx="0.74" ry="1.66" opacity="0.88"/><circle cx="481.7" cy="246.1" r="0.70" opacity="0.55"/><circle cx="488.5" cy="254.2" r="0.50" opacity="0.94"/><circle cx="499.4" cy="283.4" r="0.59" opacity="0.86"/><circle cx="430.9" cy="257.9" r="0.80" opacity="0.92"/><circle cx="479.3" cy="263.6" r="0.31" opacity="0.51"/><circle cx="473.2" cy="246.0" r="0.57" opacity="0.89"/><ellipse cx="546.4" cy="286.2" rx="0.43" ry="0.97" opacity="0.77"/><circle cx="531.5" cy="236.0" r="0.91" opacity="0.63"/><circle cx="541.5" cy="242.8" r="0.90" opacity="0.93"/><ellipse cx="495.6" cy="287.0" rx="0.60" ry="1.35" opacity="0.88"/><circle cx="518.9" cy="246.2" r="0.40" opacity="0.58"/><circle cx="497.9" cy="271.5" r="0.95" opacity="0.52"/><circle cx="448.5" cy="279.0" r="0.34" opacity="0.65"/><circle cx="478.6" cy="265.3" r="0.45" opacity="0.70"/><circle cx="533.9" cy="244.0" r="0.66" opacity="0.91"/><ellipse cx="476.2" cy="245.9" rx="0.79" ry="1.77" opacity="0.80"/><circle cx="498.2" cy="285.5" r="0.74" opacity="0.77"/><ellipse cx="420.5" cy="281.1" rx="0.36" ry="0.80" opacity="0.81"/><circle cx="420.7" cy="263.7" r="0.55" opacity="0.94"/><circle cx="423.0" cy="280.3" r="0.55" opacity="0.87"/><circle cx="492.7" cy="285.3" r="0.95" opacity="0.49"/><circle cx="484.0" cy="259.2" r="0.93" opacity="0.66"/><circle cx="489.7" cy="251.1" r="0.80" opacity="0.72"/><ellipse cx="479.0" cy="266.3" rx="0.70" ry="1.57" opacity="0.83"/><ellipse cx="474.6" cy="285.6" rx="0.48" ry="1.09" opacity="0.76"/><ellipse cx="496.0" cy="245.1" rx="0.29" ry="0.65" opacity="0.43"/><ellipse cx="433.3" cy="253.9" rx="0.51" ry="1.15" opacity="0.60"/><circle cx="502.1" cy="236.8" r="0.58" opacity="0.49"/><ellipse cx="497.7" cy="262.4" rx="0.34" ry="0.76" opacity="0.79"/><circle cx="472.5" cy="243.2" r="0.79" opacity="0.54"/><circle cx="456.6" cy="269.8" r="0.50" opacity="0.81"/><circle cx="469.1" cy="265.8" r="0.45" opacity="0.42"/><circle cx="471.1" cy="262.2" r="0.53" opacity="0.76"/><ellipse cx="531.1" cy="235.7" rx="0.57" ry="1.28" opacity="0.80"/><circle cx="496.9" cy="268.7" r="0.97" opacity="0.62"/><circle cx="492.3" cy="288.5" r="0.32" opacity="0.45"/><circle cx="492.1" cy="276.4" r="0.87" opacity="0.48"/><circle cx="501.5" cy="286.9" r="0.86" opacity="0.53"/></g><g fill="#555a66"><circle cx="513.6" cy="249.2" r="0.90" opacity="0.47"/><circle cx="486.4" cy="249.2" r="0.73" opacity="0.90"/><circle cx="511.2" cy="287.5" r="0.82" opacity="0.92"/><ellipse cx="508.8" cy="269.4" rx="0.80" ry="1.79" opacity="0.57"/><ellipse cx="431.8" cy="251.1" rx="0.45" ry="1.02" opacity="0.49"/><ellipse cx="517.5" cy="269.0" rx="0.48" ry="1.08" opacity="0.59"/><ellipse cx="495.5" cy="264.2" rx="0.63" ry="1.43" opacity="0.64"/><circle cx="499.6" cy="240.4" r="0.88" opacity="0.75"/><ellipse cx="448.5" cy="260.1" rx="0.43" ry="0.96" opacity="0.91"/><circle cx="516.6" cy="258.5" r="0.36" opacity="0.43"/><circle cx="487.2" cy="236.1" r="0.39" opacity="0.87"/><circle cx="533.6" cy="241.2" r="0.48" opacity="0.76"/><circle cx="461.9" cy="274.4" r="0.46" opacity="0.52"/><circle cx="431.2" cy="243.3" r="0.52" opacity="0.75"/><circle cx="421.8" cy="273.4" r="0.43" opacity="0.66"/><ellipse cx="530.7" cy="289.6" rx="0.69" ry="1.56" opacity="0.64"/><ellipse cx="398.3" cy="261.8" rx="0.61" ry="1.37" opacity="0.68"/><ellipse cx="496.8" cy="235.5" rx="0.36" ry="0.81" opacity="0.76"/><ellipse cx="489.8" cy="295.5" rx="0.43" ry="0.97" opacity="0.91"/><circle cx="485.1" cy="235.6" r="0.92" opacity="0.60"/><circle cx="489.7" cy="278.3" r="0.69" opacity="0.60"/><ellipse cx="456.0" cy="243.3" rx="0.80" ry="1.79" opacity="0.58"/><ellipse cx="475.8" cy="252.0" rx="0.53" ry="1.18" opacity="0.72"/><ellipse cx="506.3" cy="244.4" rx="0.64" ry="1.43" opacity="0.65"/><ellipse cx="455.5" cy="278.3" rx="0.57" ry="1.28" opacity="0.61"/><circle cx="453.8" cy="282.9" r="0.90" opacity="0.52"/><circle cx="535.4" cy="290.8" r="0.78" opacity="0.77"/><ellipse cx="513.1" cy="252.6" rx="0.52" ry="1.16" opacity="0.70"/><ellipse cx="411.2" cy="247.5" rx="0.75" ry="1.70" opacity="0.52"/><circle cx="490.6" cy="255.8" r="0.93" opacity="0.53"/><circle cx="475.4" cy="242.4" r="0.69" opacity="0.75"/><circle cx="456.8" cy="258.5" r="0.99" opacity="0.66"/><circle cx="482.2" cy="266.8" r="0.45" opacity="0.43"/><ellipse cx="461.3" cy="263.6" rx="0.76" ry="1.70" opacity="0.78"/><circle cx="503.2" cy="244.1" r="1.00" opacity="0.65"/><circle cx="548.6" cy="286.4" r="0.77" opacity="0.40"/></g><g fill="#9da1aa"><circle cx="522.8" cy="289.1" r="0.72" opacity="0.92"/><circle cx="445.4" cy="239.6" r="0.52" opacity="0.58"/><ellipse cx="446.7" cy="248.5" rx="0.77" ry="1.72" opacity="0.84"/><ellipse cx="486.0" cy="262.5" rx="0.26" ry="0.58" opacity="0.58"/><circle cx="480.5" cy="272.4" r="0.42" opacity="0.72"/><circle cx="493.0" cy="246.6" r="0.75" opacity="0.84"/><circle cx="453.2" cy="280.5" r="0.49" opacity="0.51"/><ellipse cx="457.3" cy="284.4" rx="0.31" ry="0.71" opacity="0.41"/><circle cx="485.0" cy="257.2" r="0.85" opacity="0.51"/><circle cx="517.9" cy="278.9" r="0.37" opacity="0.94"/><circle cx="508.0" cy="299.8" r="0.90" opacity="0.53"/><ellipse cx="436.1" cy="261.9" rx="0.37" ry="0.84" opacity="0.59"/><ellipse cx="494.9" cy="281.9" rx="0.74" ry="1.68" opacity="0.45"/><circle cx="516.1" cy="282.0" r="0.45" opacity="0.58"/><ellipse cx="466.8" cy="254.2" rx="0.78" ry="1.75" opacity="0.83"/><ellipse cx="461.7" cy="250.7" rx="0.29" ry="0.66" opacity="0.72"/><circle cx="467.2" cy="251.9" r="0.64" opacity="0.54"/><circle cx="511.9" cy="258.3" r="0.37" opacity="0.85"/><ellipse cx="516.4" cy="248.5" rx="0.40" ry="0.90" opacity="0.92"/><circle cx="499.1" cy="278.2" r="0.96" opacity="0.66"/><circle cx="470.5" cy="273.8" r="0.95" opacity="0.43"/><circle cx="501.8" cy="242.6" r="0.53" opacity="0.66"/><ellipse cx="445.8" cy="286.9" rx="0.79" ry="1.78" opacity="0.53"/><ellipse cx="494.6" cy="247.5" rx="0.56" ry="1.25" opacity="0.65"/><ellipse cx="422.0" cy="261.7" rx="0.72" ry="1.63" opacity="0.75"/><ellipse cx="534.2" cy="283.2" rx="0.29" ry="0.66" opacity="0.52"/><circle cx="431.9" cy="256.2" r="0.32" opacity="0.93"/><circle cx="484.5" cy="257.8" r="0.96" opacity="0.88"/><circle cx="498.7" cy="258.9" r="0.41" opacity="0.82"/><circle cx="462.9" cy="267.2" r="0.49" opacity="0.45"/><ellipse cx="495.4" cy="278.7" rx="0.64" ry="1.45" opacity="0.69"/><circle cx="481.4" cy="274.5" r="0.48" opacity="0.53"/><ellipse cx="467.7" cy="259.7" rx="0.37" ry="0.83" opacity="0.48"/><circle cx="490.4" cy="259.5" r="0.68" opacity="0.61"/></g><g fill="#4a4e59"><circle cx="504.5" cy="249.4" r="0.65" opacity="0.43"/><circle cx="521.9" cy="252.2" r="0.63" opacity="0.71"/><ellipse cx="475.7" cy="253.9" rx="0.47" ry="1.06" opacity="0.91"/><ellipse cx="487.3" cy="273.9" rx="0.70" ry="1.58" opacity="0.46"/><circle cx="503.3" cy="245.2" r="0.49" opacity="0.61"/><ellipse cx="494.7" cy="247.4" rx="0.49" ry="1.11" opacity="0.59"/><circle cx="453.8" cy="249.8" r="0.31" opacity="0.83"/><circle cx="490.7" cy="273.8" r="0.73" opacity="0.65"/><ellipse cx="483.4" cy="244.1" rx="0.69" ry="1.56" opacity="0.65"/><ellipse cx="502.1" cy="243.9" rx="0.53" ry="1.19" opacity="0.77"/><circle cx="445.9" cy="289.9" r="0.92" opacity="0.91"/><circle cx="507.1" cy="261.2" r="0.78" opacity="0.78"/><circle cx="476.9" cy="265.3" r="0.91" opacity="0.93"/><circle cx="461.6" cy="267.4" r="0.93" opacity="0.51"/><circle cx="477.9" cy="237.0" r="0.71" opacity="0.84"/><circle cx="512.4" cy="251.2" r="0.33" opacity="0.89"/><circle cx="476.1" cy="253.6" r="0.50" opacity="0.75"/><circle cx="472.9" cy="243.2" r="0.80" opacity="0.88"/><ellipse cx="472.4" cy="281.9" rx="0.58" ry="1.30" opacity="0.62"/><circle cx="466.8" cy="257.1" r="0.63" opacity="0.89"/><ellipse cx="448.4" cy="272.0" rx="0.47" ry="1.05" opacity="0.50"/><circle cx="474.3" cy="281.0" r="0.96" opacity="0.86"/><ellipse cx="495.1" cy="275.3" rx="0.39" ry="0.87" opacity="0.74"/><ellipse cx="461.9" cy="250.6" rx="0.68" ry="1.52" opacity="0.46"/><circle cx="474.5" cy="255.0" r="0.44" opacity="0.50"/><circle cx="479.9" cy="289.7" r="0.65" opacity="0.65"/><ellipse cx="414.1" cy="252.8" rx="0.77" ry="1.74" opacity="0.55"/><circle cx="460.8" cy="279.1" r="0.51" opacity="0.47"/><circle cx="460.6" cy="256.9" r="0.56" opacity="0.56"/><ellipse cx="505.5" cy="243.9" rx="0.58" ry="1.31" opacity="0.56"/><ellipse cx="485.1" cy="272.2" rx="0.29" ry="0.65" opacity="0.65"/><circle cx="454.8" cy="253.8" r="0.49" opacity="0.82"/><circle cx="477.8" cy="252.2" r="0.38" opacity="0.55"/><circle cx="510.9" cy="245.5" r="0.64" opacity="0.73"/><ellipse cx="441.1" cy="289.1" rx="0.58" ry="1.30" opacity="0.74"/><ellipse cx="522.7" cy="289.7" rx="0.73" ry="1.64" opacity="0.43"/><circle cx="444.1" cy="251.7" r="0.49" opacity="0.94"/><circle cx="521.5" cy="275.1" r="0.31" opacity="0.54"/><circle cx="439.2" cy="258.7" r="0.85" opacity="0.77"/><circle cx="461.7" cy="242.9" r="0.56" opacity="0.46"/><circle cx="461.3" cy="254.1" r="0.31" opacity="0.42"/><circle cx="446.8" cy="289.9" r="0.97" opacity="0.56"/></g></g>
</g>

<g id="s2">
<path d="M112.5,574.5 C115.0,575.6 122.9,579.2 127.5,581.0 C132.1,582.8 133.8,583.4 140.0,585.0 C146.2,586.6 156.7,589.0 165.0,590.5 C173.3,592.0 181.7,592.9 190.0,593.8 C198.3,594.6 206.7,595.2 215.0,595.5 C223.3,595.8 230.8,596.0 240.0,595.5 C249.2,595.0 260.8,593.5 270.0,592.5 C279.2,591.5 288.1,590.4 295.0,589.5 C301.9,588.6 308.5,587.4 311.2,587.0 C310.0,588.8 305.3,594.1 303.8,597.5 C302.2,600.9 301.6,603.8 302.0,607.5 C302.4,611.2 303.7,615.8 306.2,620.0 C308.8,624.2 313.1,628.5 317.5,632.5 C321.9,636.5 327.1,640.4 332.5,643.8 C337.9,647.1 343.8,649.6 350.0,652.5 C356.2,655.4 364.0,658.8 370.0,661.2 C376.0,663.7 383.5,666.0 386.2,667.0 C383.5,666.8 376.9,666.4 370.0,665.6 C363.1,664.8 353.3,663.2 345.0,662.0 C336.7,660.8 328.3,659.5 320.0,658.3 C311.7,657.1 303.3,655.8 295.0,654.6 C286.7,653.5 278.3,652.3 270.0,651.4 C261.7,650.5 254.2,650.0 245.0,649.0 C235.8,648.0 224.2,646.3 215.0,645.5 C205.8,644.7 198.3,644.4 190.0,644.0 C181.7,643.6 173.3,643.2 165.0,643.0 C156.7,642.8 148.3,642.9 140.0,643.0 C131.7,643.1 123.3,643.1 115.0,643.4 C106.7,643.6 99.4,643.7 90.0,644.5 C80.6,645.3 64.0,647.7 58.8,648.3 C60.2,647.5 63.1,646.8 67.5,645.0 C71.9,643.2 79.2,640.8 85.0,637.5 C90.8,634.2 97.7,629.6 102.5,625.0 C107.3,620.4 111.2,614.6 113.8,610.0 C116.3,605.4 117.4,601.7 118.0,597.5 C118.6,593.3 118.4,588.8 117.5,585.0 C116.6,581.2 113.3,576.2 112.5,574.5 Z" fill="#c3c6ce"/>
<g fill="url(#pole)"><path d="M51.8,417 L57,417 L57.25,654.5 L51.05,654.5 Z"/><path d="M106.45,534 L111.45,534 L111.80,573.7 L106.10,573.7 Z"/><path d="M312.35,401.2 L317.05,401.2 L317.40,589.5 L312.00,589.5 Z"/><path d="M389.45,563 L394.75,563 L395.10,666 L389.10,666 Z"/></g>
<g filter="url(#soft)"><g fill="none" stroke-linecap="round" stroke-linejoin="round"><path d="M179.0,506.7L177.4,509.8L175.2,514.4L173.8,520.1L171.7,523.6L169.5,526.1" stroke="#8ea3c8" stroke-width="2.59" stroke-opacity="0.45"/><path d="M169.5,526.1L168.8,529.9L164.9,533.1L164.3,536.6L163.1,538.4L161.5,540.0L160.9,543.6L158.0,548.9" stroke="#8ea3c8" stroke-width="1.36" stroke-opacity="0.57"/><path d="M158.0,548.9L156.0,548.5L154.7,552.4L156.5,556.1L156.8,556.9" stroke="#a9b9d6" stroke-width="1.86" stroke-opacity="0.57"/><path d="M156.8,556.9L158.4,559.5L159.1,561.1L161.2,564.5L163.1,565.0L167.6,567.0" stroke="#a9b9d6" stroke-width="2.48" stroke-opacity="0.34"/><path d="M179.1,506.4L177.2,509.8L175.3,513.8L174.3,520.1L171.3,523.9L169.2,526.4" stroke="#17233f" stroke-width="0.69" stroke-opacity="0.69"/><path d="M169.7,527.2L168.2,530.0L165.0,533.4" stroke="#22335c" stroke-width="0.73" stroke-opacity="0.78"/><path d="M162.3,539.7L161.0,543.5L156.9,549.3" stroke="#1f3566" stroke-width="1.17" stroke-opacity="0.60"/><path d="M158.5,548.0L156.0,548.7L155.1,552.4L156.5,555.9" stroke="#17233f" stroke-width="0.82" stroke-opacity="0.82"/><path d="M156.4,556.3L156.9,557.3" stroke="#101a30" stroke-width="0.77" stroke-opacity="0.72"/><path d="M157.0,556.3L158.3,559.5L158.1,561.5L161.5,564.9L163.4,564.8L167.9,566.5" stroke="#17233f" stroke-width="1.23" stroke-opacity="0.79"/><path d="M159.1,561.1L159.3,556.8L160.4,556.3" stroke="#7f97c2" stroke-width="0.57" stroke-opacity="0.49"/><path d="M175.2,514.4L176.9,514.6L177.8,514.5" stroke="#17233f" stroke-width="0.55" stroke-opacity="0.47"/><path d="M156.8,556.9L155.6,560.4L156.3,562.4" stroke="#2b4a85" stroke-width="0.84" stroke-opacity="0.64"/><path d="M181.2,503.4L182.5,504.0L182.4,505.9" stroke="#17233f" stroke-width="0.57" stroke-opacity="0.49"/><path d="M159.1,561.1L161.8,561.7L163.8,562.7" stroke="#a9b9d6" stroke-width="0.83" stroke-opacity="0.54"/><circle cx="186.4" cy="503.0" r="1.11" stroke="#17233f" stroke-width="0.55" stroke-opacity="0.60"/><circle cx="155.5" cy="553.4" r="0.98" stroke="#17233f" stroke-width="0.63" stroke-opacity="0.54"/><circle cx="159.3" cy="550.5" r="1.38" stroke="#22335c" stroke-width="0.53" stroke-opacity="0.67"/><circle cx="158.2" cy="550.2" r="0.70" stroke="#1f3566" stroke-width="0.60" stroke-opacity="0.64"/><path d="M193.7,509.3L195.7,509.3L193.3,511.8L195.1,515.7L190.6,515.9L192.1,518.1" stroke="#b8c6de" stroke-width="1.75" stroke-opacity="0.40"/><path d="M192.1,518.1L190.9,521.5L189.1,522.3L191.1,524.8" stroke="#8ea3c8" stroke-width="1.91" stroke-opacity="0.44"/><path d="M191.1,524.8L188.8,526.0L190.5,529.0L186.9,532.6" stroke="#8ea3c8" stroke-width="1.75" stroke-opacity="0.41"/><path d="M186.9,532.6L188.3,534.5L187.5,536.0L185.5,540.1L185.6,541.7L185.3,541.2" stroke="#8ea3c8" stroke-width="1.25" stroke-opacity="0.44"/><path d="M193.7,509.5L195.8,509.8" stroke="#1f3566" stroke-width="0.64" stroke-opacity="0.78"/><path d="M194.7,516.2L190.5,515.8" stroke="#101a30" stroke-width="1.03" stroke-opacity="0.40"/><path d="M190.5,529.0L190.8,530.9L191.9,532.0" stroke="#17233f" stroke-width="1.04" stroke-opacity="0.74"/><path d="M190.9,521.5L193.5,521.1L195.1,518.6" stroke="#b8c6de" stroke-width="0.73" stroke-opacity="0.54"/><path d="M193.3,511.8L192.6,514.6L190.9,516.9" stroke="#22335c" stroke-width="0.80" stroke-opacity="0.53"/><circle cx="182.4" cy="525.1" r="0.85" stroke="#2b4a85" stroke-width="0.52" stroke-opacity="0.64"/><circle cx="188.4" cy="520.3" r="1.19" stroke="#17233f" stroke-width="0.71" stroke-opacity="0.62"/><path d="M207.2,510.9L207.2,509.9L206.4,512.4" stroke="#7f97c2" stroke-width="1.61" stroke-opacity="0.54"/><path d="M206.4,512.4L207.8,514.8L208.0,518.5L208.7,516.8" stroke="#b8c6de" stroke-width="1.72" stroke-opacity="0.47"/><path d="M208.7,516.8L210.2,521.0L211.2,523.9L210.6,524.6L209.3,528.4L211.5,529.7L208.8,533.0" stroke="#b8c6de" stroke-width="1.81" stroke-opacity="0.45"/><path d="M208.8,533.0L211.9,532.7L208.0,534.9L209.9,536.9L209.1,538.1L210.0,540.1" stroke="#7f97c2" stroke-width="1.30" stroke-opacity="0.34"/><path d="M207.7,510.9L207.6,509.7" stroke="#101a30" stroke-width="1.18" stroke-opacity="0.84"/><path d="M206.0,512.7L208.1,515.3L208.3,519.3L208.5,516.5L210.5,521.2L211.2,524.5" stroke="#17233f" stroke-width="1.01" stroke-opacity="0.71"/><path d="M211.0,532.8L207.6,534.6L209.8,537.1L208.5,538.0L209.4,539.7" stroke="#22335c" stroke-width="0.88" stroke-opacity="0.85"/><path d="M210.2,521.0L209.0,520.1L207.7,519.7" stroke="#b8c6de" stroke-width="0.59" stroke-opacity="0.70"/><path d="M208.8,533.0L210.6,531.6L211.2,528.4" stroke="#b8c6de" stroke-width="0.78" stroke-opacity="0.75"/><path d="M208.7,516.8L209.1,514.9L210.2,515.1" stroke="#2b4a85" stroke-width="0.67" stroke-opacity="0.80"/><circle cx="207.9" cy="513.6" r="1.26" stroke="#101a30" stroke-width="0.78" stroke-opacity="0.56"/><circle cx="213.1" cy="531.8" r="0.79" stroke="#2b4a85" stroke-width="0.62" stroke-opacity="0.77"/><path d="M231.3,513.6L230.1,514.8L225.7,518.3L231.0,520.9L229.6,523.2L228.6,526.3" stroke="#8ea3c8" stroke-width="1.59" stroke-opacity="0.50"/><path d="M228.6,526.3L226.2,526.3L223.6,527.7L225.3,531.5L225.2,533.0L224.7,536.5" stroke="#7f97c2" stroke-width="1.61" stroke-opacity="0.44"/><path d="M224.7,536.5L225.1,540.5L221.8,541.8L221.0,546.6L217.6,549.1L220.6,549.8L220.8,553.5" stroke="#b8c6de" stroke-width="1.79" stroke-opacity="0.39"/><path d="M232.4,513.8L230.3,514.6L225.3,518.6L230.8,520.9L229.9,523.7" stroke="#101a30" stroke-width="1.07" stroke-opacity="0.44"/><path d="M230.2,522.6L228.1,526.1L226.3,525.5L224.5,527.2L225.8,532.3" stroke="#22335c" stroke-width="0.73" stroke-opacity="0.85"/><path d="M225.6,533.5L225.2,535.3" stroke="#2b4a85" stroke-width="1.21" stroke-opacity="0.78"/><path d="M224.6,536.2L225.4,540.5L222.3,542.2" stroke="#101a30" stroke-width="0.87" stroke-opacity="0.49"/><path d="M221.5,546.9L217.3,548.7L220.4,550.0L220.5,553.1" stroke="#22335c" stroke-width="0.54" stroke-opacity="0.47"/><path d="M226.2,526.3L224.1,527.8L223.3,529.2" stroke="#2b4a85" stroke-width="0.88" stroke-opacity="0.41"/><path d="M225.7,518.3L228.0,517.6L229.8,517.8" stroke="#8ea3c8" stroke-width="1.06" stroke-opacity="0.56"/><path d="M230.1,514.8L228.9,517.0L226.5,516.8" stroke="#8ea3c8" stroke-width="0.53" stroke-opacity="0.78"/><circle cx="223.8" cy="542.8" r="1.20" stroke="#101a30" stroke-width="0.41" stroke-opacity="0.73"/><circle cx="228.1" cy="530.4" r="0.95" stroke="#1f3566" stroke-width="0.49" stroke-opacity="0.83"/><path d="M247.9,521.0L248.9,520.6L248.0,521.3" stroke="#b8c6de" stroke-width="2.50" stroke-opacity="0.39"/><path d="M248.0,521.3L248.7,526.6L244.9,527.2L250.0,529.3L247.1,531.4L244.9,532.8" stroke="#a9b9d6" stroke-width="1.24" stroke-opacity="0.30"/><path d="M244.9,532.8L246.1,534.0L245.7,536.4L244.7,537.5L244.5,540.3L242.9,541.6" stroke="#a9b9d6" stroke-width="1.32" stroke-opacity="0.56"/><path d="M242.9,541.6L243.0,543.1L240.4,545.8L241.9,547.5" stroke="#7f97c2" stroke-width="2.26" stroke-opacity="0.50"/><path d="M245.4,527.2L249.7,529.0L247.3,531.7L245.6,532.9L245.5,533.9L245.6,535.9" stroke="#101a30" stroke-width="0.57" stroke-opacity="0.64"/><path d="M244.5,540.3L242.0,540.7L243.1,543.3L240.8,545.0L241.8,547.1L240.4,549.1" stroke="#2b4a85" stroke-width="0.80" stroke-opacity="0.79"/><path d="M241.9,547.5L239.9,549.2L238.9,551.0" stroke="#8ea3c8" stroke-width="0.67" stroke-opacity="0.62"/><path d="M250.0,529.3L250.3,530.5L250.6,531.5" stroke="#1f3566" stroke-width="0.81" stroke-opacity="0.42"/><path d="M246.1,534.0L247.8,533.0L248.9,532.4" stroke="#7f97c2" stroke-width="0.84" stroke-opacity="0.73"/><circle cx="246.8" cy="529.8" r="1.18" stroke="#17233f" stroke-width="0.72" stroke-opacity="0.60"/><circle cx="252.7" cy="533.3" r="0.76" stroke="#1f3566" stroke-width="0.43" stroke-opacity="0.73"/><path d="M293.1,531.3L294.0,534.4L292.0,533.4L287.9,535.3" stroke="#7f97c2" stroke-width="2.20" stroke-opacity="0.40"/><path d="M287.9,535.3L287.1,536.7L284.9,539.5L281.8,542.7L281.2,543.9L279.1,545.0" stroke="#8ea3c8" stroke-width="2.59" stroke-opacity="0.35"/><path d="M279.1,545.0L275.5,546.3L271.4,546.5L268.8,547.6L267.5,550.9L266.1,551.8L262.7,553.5" stroke="#b8c6de" stroke-width="1.49" stroke-opacity="0.37"/><path d="M262.7,553.5L261.4,554.4L257.2,555.5L256.6,558.1L253.3,560.0L250.7,559.6L246.3,560.9" stroke="#8ea3c8" stroke-width="2.23" stroke-opacity="0.38"/><path d="M246.3,560.9L243.5,562.9L242.7,564.7L239.6,567.2L238.8,567.9L237.0,571.3L237.2,574.2" stroke="#8ea3c8" stroke-width="2.18" stroke-opacity="0.59"/><path d="M237.2,574.2L236.6,576.0L238.5,578.0L241.4,585.0L238.2,583.7L238.6,588.2" stroke="#7f97c2" stroke-width="1.91" stroke-opacity="0.47"/><path d="M292.3,531.8L293.0,534.2L292.7,534.0L287.1,536.1L287.5,536.8" stroke="#1f3566" stroke-width="0.85" stroke-opacity="0.81"/><path d="M285.8,538.2L281.6,542.3L280.8,542.7L278.8,544.8L275.5,546.1L271.7,547.1" stroke="#1f3566" stroke-width="1.00" stroke-opacity="0.40"/><path d="M263.1,553.9L261.6,554.4L257.1,555.8L255.8,558.4" stroke="#2b4a85" stroke-width="0.78" stroke-opacity="0.60"/><path d="M242.5,564.6L239.9,567.3" stroke="#1f3566" stroke-width="1.07" stroke-opacity="0.72"/><path d="M236.8,574.0L236.2,576.3" stroke="#2b4a85" stroke-width="0.92" stroke-opacity="0.46"/><path d="M236.9,575.7L238.4,577.8L241.1,585.0L237.7,583.7L237.6,588.2" stroke="#17233f" stroke-width="0.96" stroke-opacity="0.57"/><path d="M257.2,555.5L255.6,557.8L255.6,561.3" stroke="#1f3566" stroke-width="0.61" stroke-opacity="0.80"/><path d="M241.5,590.8L243.1,590.0L246.7,589.4" stroke="#8ea3c8" stroke-width="0.90" stroke-opacity="0.43"/><path d="M238.2,583.7L240.3,582.8L241.3,580.8" stroke="#22335c" stroke-width="0.82" stroke-opacity="0.64"/><path d="M238.5,578.0L238.1,579.6L237.9,581.0" stroke="#17233f" stroke-width="1.05" stroke-opacity="0.45"/><path d="M239.6,567.2L242.6,566.9L245.0,567.7" stroke="#101a30" stroke-width="0.68" stroke-opacity="0.43"/><path d="M261.4,554.4L261.9,556.4L262.7,560.2" stroke="#22335c" stroke-width="0.99" stroke-opacity="0.60"/><circle cx="281.0" cy="543.0" r="1.38" stroke="#101a30" stroke-width="0.42" stroke-opacity="0.76"/><circle cx="265.6" cy="552.7" r="1.34" stroke="#17233f" stroke-width="0.59" stroke-opacity="0.45"/><circle cx="237.2" cy="568.5" r="1.28" stroke="#17233f" stroke-width="0.63" stroke-opacity="0.59"/><circle cx="283.2" cy="546.3" r="1.04" stroke="#2b4a85" stroke-width="0.59" stroke-opacity="0.50"/><circle cx="265.9" cy="554.4" r="1.30" stroke="#101a30" stroke-width="0.48" stroke-opacity="0.67"/><path d="M123.9,523.9L121.9,524.9L124.7,526.5L123.2,526.4L126.2,529.4L125.2,529.4" stroke="#8ea3c8" stroke-width="2.33" stroke-opacity="0.40"/><path d="M125.2,529.4L126.2,532.6L126.9,536.4L126.3,535.9" stroke="#b8c6de" stroke-width="1.81" stroke-opacity="0.41"/><path d="M126.3,535.9L128.8,538.0L129.6,538.0L131.3,540.7L131.8,543.8L135.1,544.3L133.1,546.2L134.9,547.1" stroke="#b8c6de" stroke-width="2.48" stroke-opacity="0.53"/><path d="M124.3,526.1L124.2,526.1" stroke="#2b4a85" stroke-width="0.67" stroke-opacity="0.54"/><path d="M122.7,526.6L125.9,529.3L124.4,529.7L126.0,532.5" stroke="#17233f" stroke-width="0.91" stroke-opacity="0.42"/><path d="M126.9,536.4L125.6,535.4L128.1,538.1L130.5,538.3L131.3,540.7" stroke="#101a30" stroke-width="1.04" stroke-opacity="0.50"/><path d="M132.0,544.5L135.4,544.9L133.5,545.9L135.8,547.5" stroke="#22335c" stroke-width="1.06" stroke-opacity="0.42"/><path d="M126.2,529.4L123.7,529.5L121.2,529.2" stroke="#2b4a85" stroke-width="0.98" stroke-opacity="0.68"/><path d="M123.2,526.4L125.1,529.1L126.0,530.5" stroke="#101a30" stroke-width="0.60" stroke-opacity="0.62"/><path d="M123.9,523.9L124.4,524.4L124.6,526.0" stroke="#17233f" stroke-width="0.60" stroke-opacity="0.72"/><circle cx="127.1" cy="542.0" r="0.98" stroke="#101a30" stroke-width="0.58" stroke-opacity="0.85"/><circle cx="120.6" cy="526.4" r="0.79" stroke="#2b4a85" stroke-width="0.41" stroke-opacity="0.79"/><path d="M141.3,518.2L139.0,518.6L138.7,519.7L139.0,521.7L139.2,524.1" stroke="#8ea3c8" stroke-width="1.62" stroke-opacity="0.32"/><path d="M139.2,524.1L137.5,526.3L137.1,526.3L137.9,528.6L137.8,530.8L140.5,531.4L139.7,532.0L139.4,533.5" stroke="#8ea3c8" stroke-width="1.59" stroke-opacity="0.52"/><path d="M136.7,526.4L137.3,526.4L138.4,528.2L136.6,529.6L140.1,530.7L140.0,532.6" stroke="#17233f" stroke-width="0.59" stroke-opacity="0.82"/><path d="M143.1,540.0L145.4,539.8L145.9,541.9L142.6,545.4" stroke="#17233f" stroke-width="0.95" stroke-opacity="0.44"/><path d="M141.3,518.2L140.5,516.5L141.7,515.8" stroke="#101a30" stroke-width="0.92" stroke-opacity="0.64"/><path d="M137.8,530.8L137.2,529.1L136.9,527.7" stroke="#a9b9d6" stroke-width="0.55" stroke-opacity="0.57"/><path d="M139.0,521.7L137.3,522.9L135.8,524.1" stroke="#17233f" stroke-width="0.73" stroke-opacity="0.68"/><circle cx="130.7" cy="526.4" r="1.11" stroke="#1f3566" stroke-width="0.52" stroke-opacity="0.82"/><circle cx="141.5" cy="528.8" r="0.68" stroke="#22335c" stroke-width="0.78" stroke-opacity="0.68"/><path d="M325.3,541.3L322.8,539.1L326.1,543.8L326.1,542.5L324.3,545.4L326.6,545.5" stroke="#8ea3c8" stroke-width="1.99" stroke-opacity="0.39"/><path d="M326.6,545.5L326.3,548.4L326.1,548.0" stroke="#7f97c2" stroke-width="1.57" stroke-opacity="0.52"/><path d="M326.9,554.5L327.9,556.9L327.8,560.0L328.2,562.0L330.1,561.3L329.8,562.0L327.0,566.3" stroke="#a9b9d6" stroke-width="1.94" stroke-opacity="0.47"/><path d="M325.6,548.3L325.8,551.3L329.0,556.1L327.5,555.2L327.6,557.2L327.4,560.1" stroke="#101a30" stroke-width="0.66" stroke-opacity="0.69"/><path d="M326.1,542.5L323.8,543.3L322.4,542.9" stroke="#b8c6de" stroke-width="0.79" stroke-opacity="0.48"/><path d="M326.9,554.5L326.5,553.3L325.9,552.0" stroke="#8ea3c8" stroke-width="0.80" stroke-opacity="0.74"/><path d="M326.1,542.5L324.3,543.7L321.5,545.1" stroke="#a9b9d6" stroke-width="0.83" stroke-opacity="0.43"/><circle cx="326.4" cy="554.8" r="1.39" stroke="#17233f" stroke-width="0.57" stroke-opacity="0.52"/><circle cx="327.7" cy="558.8" r="0.84" stroke="#22335c" stroke-width="0.53" stroke-opacity="0.82"/><path d="M275.0,534.7L274.6,534.4L275.9,537.7" stroke="#b8c6de" stroke-width="1.35" stroke-opacity="0.49"/><path d="M275.9,537.7L273.9,540.3L269.7,540.2L270.5,541.4" stroke="#8ea3c8" stroke-width="2.14" stroke-opacity="0.59"/><path d="M275.7,534.7L275.0,533.6L275.7,538.4L274.2,539.9" stroke="#17233f" stroke-width="0.95" stroke-opacity="0.50"/><path d="M267.9,551.6L267.4,551.8L265.2,555.9L263.5,556.3L264.5,557.8" stroke="#22335c" stroke-width="0.75" stroke-opacity="0.43"/><path d="M267.9,551.9L268.4,549.7L268.4,547.3" stroke="#101a30" stroke-width="0.97" stroke-opacity="0.53"/><path d="M275.9,537.7L275.9,536.2L275.2,534.5" stroke="#22335c" stroke-width="0.79" stroke-opacity="0.45"/><path d="M266.4,548.6L263.9,547.1L263.7,544.8" stroke="#1f3566" stroke-width="0.54" stroke-opacity="0.65"/><circle cx="279.3" cy="532.2" r="0.62" stroke="#1f3566" stroke-width="0.78" stroke-opacity="0.51"/><circle cx="270.6" cy="546.1" r="1.07" stroke="#17233f" stroke-width="0.59" stroke-opacity="0.62"/><path d="M299.9,535.6L298.8,536.8L301.3,538.5L301.4,540.6L298.9,542.6" stroke="#b8c6de" stroke-width="1.75" stroke-opacity="0.50"/><path d="M298.9,542.6L302.9,542.4L301.8,544.9L302.4,543.2" stroke="#a9b9d6" stroke-width="1.90" stroke-opacity="0.52"/><path d="M302.3,552.8L301.5,552.8L301.8,553.6L304.7,555.5L303.1,555.0" stroke="#8ea3c8" stroke-width="1.61" stroke-opacity="0.36"/><path d="M299.5,536.3L299.2,537.0L301.2,538.5L301.7,541.0L298.7,542.4" stroke="#22335c" stroke-width="0.97" stroke-opacity="0.44"/><path d="M302.1,544.8L302.9,543.2L303.7,545.8L300.4,548.6L302.6,548.2" stroke="#22335c" stroke-width="0.58" stroke-opacity="0.61"/><path d="M302.2,548.7L302.9,550.6L302.7,552.3L301.3,554.2" stroke="#1f3566" stroke-width="0.77" stroke-opacity="0.57"/><path d="M301.8,553.6L302.4,549.8L304.2,549.9" stroke="#17233f" stroke-width="0.51" stroke-opacity="0.57"/><path d="M304.7,555.5L305.6,556.3L307.2,558.3" stroke="#1f3566" stroke-width="0.75" stroke-opacity="0.66"/><path d="M298.9,542.6L298.4,543.3L296.4,543.0" stroke="#22335c" stroke-width="0.59" stroke-opacity="0.80"/><circle cx="299.2" cy="536.9" r="1.16" stroke="#17233f" stroke-width="0.44" stroke-opacity="0.54"/><circle cx="301.3" cy="547.7" r="0.68" stroke="#101a30" stroke-width="0.52" stroke-opacity="0.66"/><path d="M160.9,512.3L161.5,511.5L159.7,514.7L159.1,514.7L155.4,517.5L154.3,519.3L153.0,521.4L153.3,522.1" stroke="#8ea3c8" stroke-width="1.42" stroke-opacity="0.47"/><path d="M153.3,522.1L149.8,523.4L152.3,525.8L150.5,528.9L150.3,529.6L150.3,530.3L151.2,532.5L149.5,534.9" stroke="#a9b9d6" stroke-width="2.33" stroke-opacity="0.45"/><path d="M160.8,511.9L160.5,510.9L159.8,514.8L159.9,514.7L155.3,517.2" stroke="#17233f" stroke-width="0.79" stroke-opacity="0.56"/><path d="M153.5,519.4L152.6,520.2L153.2,522.2L149.4,523.1L152.7,526.4L150.6,528.6" stroke="#101a30" stroke-width="1.16" stroke-opacity="0.72"/><path d="M150.2,528.4L150.2,529.1L150.3,531.0L151.1,533.6L149.4,535.3L151.2,534.2" stroke="#101a30" stroke-width="0.99" stroke-opacity="0.55"/><path d="M153.0,521.4L151.8,522.4L149.6,525.1" stroke="#1f3566" stroke-width="0.67" stroke-opacity="0.40"/><path d="M160.9,512.3L158.7,512.6L156.4,511.6" stroke="#a9b9d6" stroke-width="0.79" stroke-opacity="0.56"/><path d="M149.5,534.9L148.0,531.9L148.7,529.7" stroke="#8ea3c8" stroke-width="1.05" stroke-opacity="0.46"/><circle cx="155.8" cy="522.1" r="1.49" stroke="#101a30" stroke-width="0.60" stroke-opacity="0.65"/><circle cx="154.4" cy="519.9" r="1.05" stroke="#1f3566" stroke-width="0.71" stroke-opacity="0.46"/><path d="M267.2,558.8L267.3,560.9L265.2,564.3L265.9,564.2" stroke="#a9b9d6" stroke-width="1.63" stroke-opacity="0.38"/><path d="M265.9,564.2L264.4,566.7L264.6,568.2" stroke="#7f97c2" stroke-width="1.57" stroke-opacity="0.46"/><path d="M264.6,568.2L262.0,572.8L262.6,572.9L263.6,574.4L262.7,576.9L261.2,575.5L260.5,578.0L257.5,578.8" stroke="#7f97c2" stroke-width="1.29" stroke-opacity="0.32"/><path d="M257.5,578.8L257.6,580.3L256.6,582.4L257.7,584.1L258.0,585.8" stroke="#a9b9d6" stroke-width="1.61" stroke-opacity="0.43"/><path d="M265.8,566.5L265.0,568.3" stroke="#2b4a85" stroke-width="0.81" stroke-opacity="0.43"/><path d="M263.8,573.7L262.7,576.4L261.2,575.8L260.2,577.4L257.9,579.3" stroke="#2b4a85" stroke-width="1.15" stroke-opacity="0.81"/><path d="M262.0,572.8L261.1,572.3L260.3,570.5" stroke="#2b4a85" stroke-width="0.57" stroke-opacity="0.59"/><path d="M262.0,572.8L262.7,575.5L262.3,577.4" stroke="#b8c6de" stroke-width="0.68" stroke-opacity="0.53"/><path d="M263.6,574.4L261.5,575.8L260.6,576.8" stroke="#7f97c2" stroke-width="0.55" stroke-opacity="0.56"/><circle cx="265.7" cy="573.3" r="1.07" stroke="#101a30" stroke-width="0.42" stroke-opacity="0.71"/><circle cx="252.6" cy="578.0" r="1.05" stroke="#22335c" stroke-width="0.60" stroke-opacity="0.53"/><path d="M217.0,544.8L212.4,546.5L216.2,548.4" stroke="#8ea3c8" stroke-width="1.31" stroke-opacity="0.58"/><path d="M216.2,548.4L215.7,550.1L218.0,550.8L220.6,553.6L220.2,552.8L220.3,554.9L221.9,555.5L221.5,558.0" stroke="#a9b9d6" stroke-width="2.26" stroke-opacity="0.33"/><path d="M221.5,563.4L219.8,564.7L216.9,567.5L219.2,569.1L217.5,571.0" stroke="#b8c6de" stroke-width="1.91" stroke-opacity="0.56"/><path d="M217.5,544.8L212.4,547.3L215.2,549.3L215.7,550.6" stroke="#22335c" stroke-width="0.97" stroke-opacity="0.82"/><path d="M216.1,550.2L217.4,551.1L220.4,553.4" stroke="#22335c" stroke-width="1.14" stroke-opacity="0.60"/><path d="M220.4,563.7L219.9,565.4" stroke="#22335c" stroke-width="0.66" stroke-opacity="0.70"/><path d="M220.7,565.1L217.2,567.2" stroke="#2b4a85" stroke-width="1.19" stroke-opacity="0.63"/><path d="M212.4,546.5L212.8,545.3L210.3,544.2" stroke="#17233f" stroke-width="0.67" stroke-opacity="0.73"/><path d="M219.8,564.7L220.7,565.8L222.2,566.9" stroke="#a9b9d6" stroke-width="0.83" stroke-opacity="0.45"/><path d="M216.9,567.5L216.6,566.2L215.7,565.8" stroke="#2b4a85" stroke-width="0.98" stroke-opacity="0.56"/><circle cx="216.0" cy="556.4" r="1.36" stroke="#2b4a85" stroke-width="0.48" stroke-opacity="0.75"/><circle cx="219.4" cy="572.4" r="1.43" stroke="#101a30" stroke-width="0.74" stroke-opacity="0.80"/><path d="M335.3,549.9L335.5,550.0L334.1,550.7L334.5,553.5L335.2,554.5" stroke="#8ea3c8" stroke-width="2.35" stroke-opacity="0.55"/><path d="M335.2,554.5L336.7,557.1L337.1,557.6L338.3,558.0L337.2,560.7L337.4,560.3L337.5,563.9L336.5,566.1" stroke="#8ea3c8" stroke-width="2.58" stroke-opacity="0.58"/><path d="M338.0,565.4L335.5,565.3" stroke="#22335c" stroke-width="0.85" stroke-opacity="0.77"/><path d="M333.8,564.2L334.4,570.2" stroke="#1f3566" stroke-width="0.91" stroke-opacity="0.64"/><path d="M335.5,550.0L336.6,553.4L336.8,555.6" stroke="#2b4a85" stroke-width="0.62" stroke-opacity="0.65"/><path d="M335.0,564.4L334.5,562.4L332.9,562.6" stroke="#2b4a85" stroke-width="0.99" stroke-opacity="0.56"/><path d="M335.5,550.0L333.9,550.4L332.0,547.8" stroke="#1f3566" stroke-width="0.87" stroke-opacity="0.71"/><circle cx="331.4" cy="557.0" r="0.98" stroke="#2b4a85" stroke-width="0.70" stroke-opacity="0.49"/><circle cx="339.9" cy="565.6" r="0.91" stroke="#101a30" stroke-width="0.60" stroke-opacity="0.78"/></g><g fill="#3c5f9e"><circle cx="117.8" cy="563.0" r="0.74" opacity="0.47"/><circle cx="268.0" cy="579.6" r="0.69" opacity="0.52"/><circle cx="188.8" cy="526.4" r="0.50" opacity="0.39"/><circle cx="209.7" cy="554.4" r="0.59" opacity="0.39"/><circle cx="282.0" cy="573.6" r="0.74" opacity="0.54"/><circle cx="274.4" cy="583.8" r="0.47" opacity="0.37"/><circle cx="181.9" cy="551.3" r="0.74" opacity="0.36"/><circle cx="281.3" cy="582.6" r="0.59" opacity="0.55"/><circle cx="329.2" cy="551.3" r="0.77" opacity="0.58"/><circle cx="241.2" cy="556.1" r="0.45" opacity="0.61"/><circle cx="281.5" cy="538.9" r="0.64" opacity="0.41"/><circle cx="229.8" cy="508.1" r="0.48" opacity="0.50"/><circle cx="115.9" cy="564.2" r="0.56" opacity="0.59"/><circle cx="154.1" cy="565.7" r="0.65" opacity="0.46"/><circle cx="166.9" cy="539.4" r="0.37" opacity="0.32"/><circle cx="300.6" cy="545.7" r="0.53" opacity="0.60"/><circle cx="224.6" cy="552.6" r="0.66" opacity="0.57"/><circle cx="261.7" cy="580.1" r="0.31" opacity="0.40"/><circle cx="153.2" cy="539.6" r="0.67" opacity="0.31"/><circle cx="209.5" cy="535.5" r="0.51" opacity="0.65"/><circle cx="298.5" cy="584.0" r="0.41" opacity="0.46"/><circle cx="121.8" cy="578.1" r="0.68" opacity="0.47"/><circle cx="138.8" cy="554.0" r="0.63" opacity="0.30"/><circle cx="128.5" cy="538.7" r="0.60" opacity="0.48"/><circle cx="196.0" cy="498.3" r="0.39" opacity="0.47"/><circle cx="161.5" cy="555.9" r="0.44" opacity="0.31"/><circle cx="322.2" cy="547.9" r="0.41" opacity="0.56"/></g><g fill="#6e86b5"><circle cx="339.6" cy="551.3" r="0.65" opacity="0.50"/><circle cx="148.2" cy="554.7" r="0.70" opacity="0.41"/><circle cx="288.4" cy="541.9" r="0.44" opacity="0.44"/><circle cx="223.7" cy="564.1" r="0.67" opacity="0.42"/><circle cx="146.5" cy="582.2" r="0.37" opacity="0.35"/><circle cx="153.8" cy="545.6" r="0.42" opacity="0.55"/><circle cx="285.9" cy="566.3" r="0.37" opacity="0.54"/><circle cx="165.9" cy="560.6" r="0.76" opacity="0.57"/><circle cx="279.0" cy="555.8" r="0.66" opacity="0.62"/><circle cx="211.6" cy="540.6" r="0.46" opacity="0.48"/><circle cx="306.2" cy="551.2" r="0.74" opacity="0.47"/><circle cx="168.2" cy="568.8" r="0.76" opacity="0.38"/><circle cx="298.7" cy="579.6" r="0.62" opacity="0.49"/><circle cx="214.1" cy="547.4" r="0.78" opacity="0.66"/><circle cx="324.5" cy="589.3" r="0.51" opacity="0.61"/><circle cx="199.7" cy="565.3" r="0.56" opacity="0.33"/><circle cx="172.4" cy="568.2" r="0.48" opacity="0.57"/><circle cx="190.1" cy="570.1" r="0.47" opacity="0.55"/><circle cx="263.8" cy="543.3" r="0.80" opacity="0.42"/><circle cx="200.9" cy="500.2" r="0.34" opacity="0.41"/></g><g fill="#8ea3c8"><circle cx="128.7" cy="537.3" r="0.65" opacity="0.37"/><circle cx="130.6" cy="551.2" r="0.79" opacity="0.61"/><circle cx="241.5" cy="583.8" r="0.64" opacity="0.59"/><circle cx="173.8" cy="533.9" r="0.52" opacity="0.48"/><circle cx="289.1" cy="543.1" r="0.41" opacity="0.41"/><circle cx="264.4" cy="528.6" r="0.47" opacity="0.52"/><circle cx="318.5" cy="561.1" r="0.32" opacity="0.66"/><circle cx="116.9" cy="535.6" r="0.45" opacity="0.57"/><circle cx="207.8" cy="556.9" r="0.55" opacity="0.44"/><circle cx="185.5" cy="562.8" r="0.38" opacity="0.31"/><circle cx="119.9" cy="568.4" r="0.51" opacity="0.63"/><circle cx="200.9" cy="511.9" r="0.65" opacity="0.48"/><circle cx="208.2" cy="539.1" r="0.62" opacity="0.39"/><circle cx="249.6" cy="535.0" r="0.52" opacity="0.36"/><circle cx="230.8" cy="561.5" r="0.44" opacity="0.34"/><circle cx="226.6" cy="525.3" r="0.64" opacity="0.35"/><circle cx="128.3" cy="586.8" r="0.65" opacity="0.48"/><circle cx="192.7" cy="513.0" r="0.43" opacity="0.58"/></g><g fill="#9aa6bd"><circle cx="313.6" cy="571.5" r="0.46" opacity="0.40"/><circle cx="247.2" cy="536.3" r="0.78" opacity="0.48"/><circle cx="191.6" cy="551.6" r="0.53" opacity="0.31"/><circle cx="279.6" cy="542.7" r="0.39" opacity="0.41"/><circle cx="269.9" cy="591.9" r="0.55" opacity="0.51"/><circle cx="265.7" cy="559.8" r="0.43" opacity="0.67"/><circle cx="204.3" cy="570.0" r="0.64" opacity="0.51"/><circle cx="229.6" cy="558.9" r="0.77" opacity="0.41"/><circle cx="337.2" cy="562.2" r="0.42" opacity="0.67"/><circle cx="230.0" cy="569.5" r="0.79" opacity="0.34"/><circle cx="233.9" cy="566.8" r="0.78" opacity="0.64"/><circle cx="205.0" cy="564.7" r="0.54" opacity="0.36"/><circle cx="233.0" cy="519.3" r="0.51" opacity="0.36"/><circle cx="131.0" cy="560.7" r="0.42" opacity="0.59"/><circle cx="192.2" cy="553.0" r="0.78" opacity="0.32"/><circle cx="196.8" cy="499.8" r="0.69" opacity="0.39"/><circle cx="234.5" cy="531.0" r="0.77" opacity="0.44"/><circle cx="223.9" cy="542.2" r="0.65" opacity="0.58"/><circle cx="287.9" cy="584.3" r="0.53" opacity="0.62"/><circle cx="186.3" cy="499.4" r="0.72" opacity="0.69"/><circle cx="187.0" cy="524.1" r="0.69" opacity="0.50"/><circle cx="283.9" cy="560.6" r="0.45" opacity="0.43"/><circle cx="148.3" cy="521.4" r="0.50" opacity="0.33"/><circle cx="181.4" cy="514.8" r="0.39" opacity="0.35"/><circle cx="201.6" cy="506.0" r="0.69" opacity="0.46"/></g></g>
<path d="M53.0,412.6 C54.2,414.1 57.2,418.1 60.0,421.5 C62.8,424.9 66.7,429.2 70.0,433.0 C73.3,436.8 76.7,440.4 80.0,444.0 C83.3,447.6 86.7,450.2 90.0,454.5 C93.3,458.8 97.0,464.8 100.0,470.0 C103.0,475.2 106.1,481.0 108.0,486.0 C109.9,491.0 110.9,495.0 111.6,500.0 C112.3,505.0 112.2,510.7 112.0,516.0 C111.8,521.3 110.8,529.2 110.6,531.8 C112.2,530.7 116.8,527.0 120.0,525.0 C123.2,523.0 125.0,522.3 130.0,520.0 C135.0,517.7 143.3,513.8 150.0,511.0 C156.7,508.2 163.3,505.3 170.0,503.0 C176.7,500.7 184.7,498.4 190.0,497.0 C195.3,495.6 200.0,494.8 202.0,494.4 C200.1,493.4 195.9,490.7 190.7,488.3 C185.5,485.9 177.4,482.8 170.7,479.8 C164.0,476.8 157.4,473.4 150.7,470.3 C144.0,467.2 137.4,464.5 130.7,461.3 C124.0,458.1 115.7,453.8 110.7,451.3 C105.7,448.8 104.0,448.1 100.7,446.4 C97.4,444.8 94.0,443.3 90.7,441.4 C87.4,439.5 84.0,437.4 80.7,435.1 C77.4,432.8 74.0,430.4 70.7,427.8 C67.4,425.2 63.7,421.8 60.7,419.3 C57.8,416.8 54.3,413.7 53.0,412.6 Z" fill="#737a8b"/>
<path d="M51.5,412.3 C52.9,413.5 56.9,417.2 60.0,419.5 C63.1,421.8 66.7,424.1 70.0,426.0 C73.3,427.9 76.7,429.5 80.0,431.0 C83.3,432.5 86.7,433.8 90.0,435.0 C93.3,436.2 96.7,437.4 100.0,438.5 C103.3,439.6 105.0,440.4 110.0,441.5 C115.0,442.6 123.3,444.2 130.0,445.3 C136.7,446.4 143.3,447.4 150.0,448.0 C156.7,448.6 163.3,449.1 170.0,449.2 C176.7,449.3 185.0,449.1 190.0,448.8 C195.0,448.5 195.0,448.5 200.0,447.6 C205.0,446.7 213.3,444.8 220.0,443.2 C226.7,441.6 233.3,440.1 240.0,438.0 C246.7,435.9 253.3,433.1 260.0,430.3 C266.7,427.5 273.3,424.4 280.0,421.0 C286.7,417.6 294.6,413.2 300.0,410.0 C305.4,406.8 310.5,402.9 312.6,401.5 C312.0,403.6 310.1,410.1 308.9,414.4 C307.7,418.7 306.4,422.8 305.6,427.4 C304.8,432.0 304.2,437.4 304.0,442.0 C303.8,446.6 303.8,451.0 304.2,455.0 C304.6,459.0 305.0,461.8 306.3,466.0 C307.6,470.2 310.0,475.8 312.2,480.0 C314.4,484.2 316.1,486.4 319.4,491.2 C322.7,496.1 327.1,502.9 331.8,509.2 C336.4,515.6 341.1,522.8 347.5,529.5 C353.9,536.2 363.0,544.3 370.0,549.8 C377.0,555.2 386.2,560.0 389.5,562.0 C386.7,561.3 379.9,560.3 372.5,558.0 C365.1,555.7 354.2,551.8 345.0,548.4 C335.8,545.0 326.7,541.3 317.5,537.4 C308.3,533.5 299.2,528.7 290.0,525.0 C280.8,521.3 271.7,518.4 262.5,515.4 C253.3,512.4 245.1,510.5 235.0,507.0 C224.9,503.5 207.5,496.5 202.0,494.4 C200.0,493.6 195.3,491.7 190.0,489.5 C184.7,487.3 176.7,484.0 170.0,481.0 C163.3,478.0 156.7,474.6 150.0,471.5 C143.3,468.4 136.7,465.7 130.0,462.5 C123.3,459.3 115.0,455.0 110.0,452.5 C105.0,450.0 103.3,449.2 100.0,447.6 C96.7,446.0 93.3,444.5 90.0,442.6 C86.7,440.7 83.3,438.6 80.0,436.3 C76.7,434.0 73.3,431.6 70.0,429.0 C66.7,426.4 63.1,423.3 60.0,420.5 C56.9,417.7 52.9,413.7 51.5,412.3 Z" fill="#5b6278"/>
<g filter="url(#soft)"><g clip-path="url(#c2)"><circle cx="152.5" cy="452.5" r="2.94" fill="#30364a"/><circle cx="153.1" cy="453.3" r="1.71" fill="#c9cedd" opacity=".92"/><circle cx="151.4" cy="451.4" r="0.88" fill="#fff"/><circle cx="171" cy="467.5" r="2.94" fill="#30364a"/><circle cx="171.6" cy="468.3" r="1.71" fill="#c9cedd" opacity=".92"/><circle cx="169.9" cy="466.4" r="0.88" fill="#fff"/><circle cx="140" cy="461" r="2.10" fill="#30364a"/><circle cx="140.5" cy="461.6" r="1.22" fill="#c9cedd" opacity=".92"/><circle cx="139.2" cy="460.2" r="0.63" fill="#fff"/><circle cx="162.5" cy="469" r="1.58" fill="#30364a"/><circle cx="162.8" cy="469.4" r="0.91" fill="#c9cedd" opacity=".92"/><circle cx="161.9" cy="468.4" r="0.47" fill="#fff"/><circle cx="174" cy="459" r="1.89" fill="#30364a"/><circle cx="174.4" cy="459.5" r="1.10" fill="#c9cedd" opacity=".92"/><circle cx="173.3" cy="458.3" r="0.57" fill="#fff"/><circle cx="192.5" cy="476" r="2.10" fill="#30364a"/><circle cx="193.0" cy="476.6" r="1.22" fill="#c9cedd" opacity=".92"/><circle cx="191.7" cy="475.2" r="0.63" fill="#fff"/><circle cx="207.5" cy="490" r="2.73" fill="#30364a"/><circle cx="208.1" cy="490.8" r="1.58" fill="#c9cedd" opacity=".92"/><circle cx="206.5" cy="489.0" r="0.82" fill="#fff"/><circle cx="229" cy="455" r="2.94" fill="#30364a"/><circle cx="229.6" cy="455.8" r="1.71" fill="#c9cedd" opacity=".92"/><circle cx="227.9" cy="453.9" r="0.88" fill="#fff"/><circle cx="214" cy="455" r="1.89" fill="#30364a"/><circle cx="214.4" cy="455.5" r="1.10" fill="#c9cedd" opacity=".92"/><circle cx="213.3" cy="454.3" r="0.57" fill="#fff"/><circle cx="264" cy="464" r="2.94" fill="#30364a"/><circle cx="264.6" cy="464.8" r="1.71" fill="#c9cedd" opacity=".92"/><circle cx="262.9" cy="462.9" r="0.88" fill="#fff"/><circle cx="266" cy="479" r="2.94" fill="#30364a"/><circle cx="266.6" cy="479.8" r="1.71" fill="#c9cedd" opacity=".92"/><circle cx="264.9" cy="477.9" r="0.88" fill="#fff"/><circle cx="261" cy="435" r="2.52" fill="#30364a"/><circle cx="261.6" cy="435.7" r="1.46" fill="#c9cedd" opacity=".92"/><circle cx="260.0" cy="434.0" r="0.76" fill="#fff"/><circle cx="285" cy="429" r="2.94" fill="#30364a"/><circle cx="285.6" cy="429.8" r="1.71" fill="#c9cedd" opacity=".92"/><circle cx="283.9" cy="427.9" r="0.88" fill="#fff"/><circle cx="275" cy="455" r="2.10" fill="#30364a"/><circle cx="275.5" cy="455.6" r="1.22" fill="#c9cedd" opacity=".92"/><circle cx="274.2" cy="454.2" r="0.63" fill="#fff"/><circle cx="291" cy="454" r="2.73" fill="#30364a"/><circle cx="291.6" cy="454.8" r="1.58" fill="#c9cedd" opacity=".92"/><circle cx="290.0" cy="453.0" r="0.82" fill="#fff"/><circle cx="300" cy="447.5" r="2.10" fill="#30364a"/><circle cx="300.5" cy="448.1" r="1.22" fill="#c9cedd" opacity=".92"/><circle cx="299.2" cy="446.7" r="0.63" fill="#fff"/><circle cx="294" cy="482.5" r="2.31" fill="#30364a"/><circle cx="294.5" cy="483.1" r="1.34" fill="#c9cedd" opacity=".92"/><circle cx="293.1" cy="481.6" r="0.69" fill="#fff"/><circle cx="302.5" cy="490" r="2.10" fill="#30364a"/><circle cx="303.0" cy="490.6" r="1.22" fill="#c9cedd" opacity=".92"/><circle cx="301.7" cy="489.2" r="0.63" fill="#fff"/><circle cx="267.5" cy="506" r="2.73" fill="#30364a"/><circle cx="268.1" cy="506.8" r="1.58" fill="#c9cedd" opacity=".92"/><circle cx="266.5" cy="505.0" r="0.82" fill="#fff"/><circle cx="309" cy="515" r="2.10" fill="#30364a"/><circle cx="309.5" cy="515.6" r="1.22" fill="#c9cedd" opacity=".92"/><circle cx="308.2" cy="514.2" r="0.63" fill="#fff"/><circle cx="297.5" cy="524" r="2.73" fill="#30364a"/><circle cx="298.1" cy="524.8" r="1.58" fill="#c9cedd" opacity=".92"/><circle cx="296.5" cy="523.0" r="0.82" fill="#fff"/><circle cx="242.5" cy="472.5" r="1.68" fill="#30364a"/><circle cx="242.9" cy="473.0" r="0.97" fill="#c9cedd" opacity=".92"/><circle cx="241.9" cy="471.9" r="0.50" fill="#fff"/><circle cx="234" cy="499" r="1.89" fill="#30364a"/><circle cx="234.4" cy="499.5" r="1.10" fill="#c9cedd" opacity=".92"/><circle cx="233.3" cy="498.3" r="0.57" fill="#fff"/><circle cx="210" cy="484" r="1.68" fill="#30364a"/><circle cx="210.4" cy="484.5" r="0.97" fill="#c9cedd" opacity=".92"/><circle cx="209.4" cy="483.4" r="0.50" fill="#fff"/><circle cx="271" cy="430" r="1.68" fill="#30364a"/><circle cx="271.4" cy="430.5" r="0.97" fill="#c9cedd" opacity=".92"/><circle cx="270.4" cy="429.4" r="0.50" fill="#fff"/><circle cx="280" cy="442.5" r="1.68" fill="#30364a"/><circle cx="280.4" cy="443.0" r="0.97" fill="#c9cedd" opacity=".92"/><circle cx="279.4" cy="441.9" r="0.50" fill="#fff"/><circle cx="251" cy="447.5" r="1.68" fill="#30364a"/><circle cx="251.4" cy="448.0" r="0.97" fill="#c9cedd" opacity=".92"/><circle cx="250.4" cy="446.9" r="0.50" fill="#fff"/><circle cx="186" cy="462" r="1.37" fill="#30364a"/><circle cx="186.3" cy="462.4" r="0.79" fill="#c9cedd" opacity=".92"/><circle cx="185.5" cy="461.5" r="0.41" fill="#fff"/><circle cx="200" cy="470" r="1.37" fill="#30364a"/><circle cx="200.3" cy="470.4" r="0.79" fill="#c9cedd" opacity=".92"/><circle cx="199.5" cy="469.5" r="0.41" fill="#fff"/><circle cx="156" cy="462" r="1.26" fill="#30364a"/><circle cx="156.3" cy="462.4" r="0.73" fill="#c9cedd" opacity=".92"/><circle cx="155.5" cy="461.5" r="0.38" fill="#fff"/><circle cx="146" cy="452" r="1.26" fill="#30364a"/><circle cx="146.3" cy="452.4" r="0.73" fill="#c9cedd" opacity=".92"/><circle cx="145.5" cy="451.5" r="0.38" fill="#fff"/><circle cx="222" cy="462" r="1.37" fill="#30364a"/><circle cx="222.3" cy="462.4" r="0.79" fill="#c9cedd" opacity=".92"/><circle cx="221.5" cy="461.5" r="0.41" fill="#fff"/><circle cx="248" cy="460" r="1.47" fill="#30364a"/><circle cx="248.3" cy="460.4" r="0.85" fill="#c9cedd" opacity=".92"/><circle cx="247.4" cy="459.4" r="0.44" fill="#fff"/><circle cx="256" cy="452" r="1.37" fill="#30364a"/><circle cx="256.3" cy="452.4" r="0.79" fill="#c9cedd" opacity=".92"/><circle cx="255.5" cy="451.5" r="0.41" fill="#fff"/><circle cx="287" cy="440" r="1.47" fill="#30364a"/><circle cx="287.3" cy="440.4" r="0.85" fill="#c9cedd" opacity=".92"/><circle cx="286.4" cy="439.4" r="0.44" fill="#fff"/><circle cx="296" cy="436" r="1.37" fill="#30364a"/><circle cx="296.3" cy="436.4" r="0.79" fill="#c9cedd" opacity=".92"/><circle cx="295.5" cy="435.5" r="0.41" fill="#fff"/><circle cx="305" cy="470" r="1.47" fill="#30364a"/><circle cx="305.3" cy="470.4" r="0.85" fill="#c9cedd" opacity=".92"/><circle cx="304.4" cy="469.4" r="0.44" fill="#fff"/><circle cx="300" cy="500" r="1.47" fill="#30364a"/><circle cx="300.3" cy="500.4" r="0.85" fill="#c9cedd" opacity=".92"/><circle cx="299.4" cy="499.4" r="0.44" fill="#fff"/><circle cx="283" cy="505" r="1.37" fill="#30364a"/><circle cx="283.3" cy="505.4" r="0.79" fill="#c9cedd" opacity=".92"/><circle cx="282.5" cy="504.5" r="0.41" fill="#fff"/><circle cx="322" cy="520" r="1.58" fill="#30364a"/><circle cx="322.3" cy="520.4" r="0.91" fill="#c9cedd" opacity=".92"/><circle cx="321.4" cy="519.4" r="0.47" fill="#fff"/><circle cx="312" cy="528" r="1.47" fill="#30364a"/><circle cx="312.3" cy="528.4" r="0.85" fill="#c9cedd" opacity=".92"/><circle cx="311.4" cy="527.4" r="0.44" fill="#fff"/><circle cx="278" cy="512" r="1.37" fill="#30364a"/><circle cx="278.3" cy="512.4" r="0.79" fill="#c9cedd" opacity=".92"/><circle cx="277.5" cy="511.5" r="0.41" fill="#fff"/><circle cx="292" cy="415" r="1.37" fill="#30364a"/><circle cx="292.3" cy="415.4" r="0.79" fill="#c9cedd" opacity=".92"/><circle cx="291.5" cy="414.5" r="0.41" fill="#fff"/><circle cx="300" cy="424" r="1.47" fill="#30364a"/><circle cx="300.3" cy="424.4" r="0.85" fill="#c9cedd" opacity=".92"/><circle cx="299.4" cy="423.4" r="0.44" fill="#fff"/><g fill="none" stroke="#fff" stroke-linecap="round" stroke-linejoin="round"><path d="M222.0,474.0 C223.0,475.7 225.3,481.2 228.0,484.0 C230.7,486.8 234.3,489.2 238.0,491.0 C241.7,492.8 246.0,494.5 250.0,495.0 C254.0,495.5 258.0,495.0 262.0,494.0 C266.0,493.0 270.0,490.0 274.0,489.0 C278.0,488.0 284.0,488.2 286.0,488.0" stroke-width="11" stroke-opacity=".5"/><path d="M222.0,474.0 C223.0,475.7 225.3,481.2 228.0,484.0 C230.7,486.8 234.3,489.2 238.0,491.0 C241.7,492.8 246.0,494.5 250.0,495.0 C254.0,495.5 258.0,495.0 262.0,494.0 C266.0,493.0 270.0,490.0 274.0,489.0 C278.0,488.0 284.0,488.2 286.0,488.0" stroke-width="7.5" stroke-opacity=".9"/></g><g fill="none" stroke="#fff" stroke-linecap="round" stroke-linejoin="round"><path d="M275.0,474.0 C275.8,473.0 278.2,468.5 280.0,468.0 C281.8,467.5 284.2,469.5 286.0,471.0 C287.8,472.5 290.0,474.8 291.0,477.0 C292.0,479.2 291.8,482.8 292.0,484.0" stroke-width="3.2" stroke-opacity=".75"/><path d="M201.0,452.5 C201.7,453.8 202.7,458.1 205.0,460.0 C207.3,461.9 212.5,461.9 215.0,464.0 C217.5,466.1 218.3,469.4 220.0,472.5 C221.7,475.6 222.5,479.6 225.0,482.5 C227.5,485.4 233.3,488.8 235.0,490.0" stroke-width="2.6" stroke-opacity=".6"/><path d="M285.0,487.5 C286.2,488.8 290.4,491.7 292.5,495.0 C294.6,498.3 295.9,504.2 297.5,507.5 C299.1,510.8 301.2,513.8 302.0,515.0" stroke-width="1.6" stroke-opacity=".5"/></g><g fill="none" stroke-linecap="round" stroke-linejoin="round"><path d="M223.2,486.4L225.9,485.7L228.4,484.8L229.4,485.8L229.4,488.1L230.1,489.9L231.6,490.7L233.1,491.4L234.4,492.7L235.9,493.5L237.8,493.3L239.8,492.8L241.2,493.3L242.0,495.0L242.8,497.0L243.8,498.0L245.4,497.5L247.0,496.0L248.2,495.2L249.0,496.1L249.7,497.6L250.6,498.2L251.7,497.8L252.7,497.8L253.8,498.5L254.9,498.5L255.9,496.7" stroke="#fff" stroke-width="1.29" stroke-opacity="0.67"/><path d="M236.4,489.0L238.2,487.4L239.6,486.3L239.5,488.5L239.3,491.3L240.8,490.3L242.7,488.6L243.1,491.2L243.5,494.6L245.5,493.0L247.8,489.5L249.0,490.6L249.9,494.1L251.4,494.1L253.0,491.3L254.4,491.0L255.8,494.1L257.3,495.5L258.4,493.4L259.3,491.3L260.5,491.7L261.7,492.3L262.4,491.3L262.9,490.2" stroke="#fff" stroke-width="1.37" stroke-opacity="0.72"/><path d="M236.7,488.6L238.5,487.3L240.0,486.4L240.7,486.8L240.7,488.5L240.5,491.0L240.7,492.7L241.7,492.8L243.4,491.2L245.1,489.2L246.4,488.3L247.2,489.4L247.9,492.1L248.8,494.8L250.2,496.1L251.7,495.4L253.3,493.0L254.6,490.4L255.8,489.0L257.2,489.6L258.9,491.8L260.8,494.1L262.4,495.1" stroke="#fff" stroke-width="1.18" stroke-opacity="0.63"/><path d="M234.1,490.0L235.4,489.8L235.6,491.1L236.0,492.3L237.3,491.9L238.7,490.9L239.3,491.9L239.3,494.7L239.9,496.2L241.8,494.9L243.7,493.2L245.1,493.7L246.2,495.2L247.7,495.7L249.3,495.5L250.8,496.5L252.4,498.4L254.1,498.9L255.7,496.8L257.0,494.0L258.3,493.6L259.9,495.4" stroke="#4c78bd" stroke-width="1.24" stroke-opacity="0.61"/><path d="M224.5,480.2L226.4,480.6L227.1,481.6L226.7,483.2L226.2,484.8L226.4,486.0L227.2,486.6L228.5,486.6L229.7,486.5L230.8,486.7L231.5,487.3L232.2,488.3L232.9,489.3L233.8,490.2L234.9,491.1L236.2,491.9L237.5,492.6L239.1,493.0L240.9,493.1L242.7,493.1L244.4,493.5L245.8,494.5L247.0,496.0L248.3,497.3L249.8,497.7L251.3,496.9L252.6,495.5L253.8,494.3L254.7,494.1L255.7,495.2L256.7,496.9L257.8,498.1L258.7,498.0L259.4,496.5L260.0,494.5L260.6,493.0L261.6,493.0L263.2,494.1L265.2,495.4L267.0,495.6L268.0,494.3L268.7,492.1L269.5,490.0L271.0,489.1L272.9,489.4L274.8,490.3L276.5,490.9L278.0,490.7L279.4,489.6L280.8,488.6" stroke="#fff" stroke-width="1.26" stroke-opacity="0.82"/><path d="M227.1,483.6L226.5,485.4L226.0,487.3L226.8,488.0L228.8,487.2L230.8,486.1L231.9,486.5L231.9,488.5L231.9,491.0L232.8,492.3L234.5,492.3L236.5,491.8L238.2,491.9L239.6,492.8L241.0,493.9L242.6,494.6L244.2,495.2L245.7,495.9L247.1,496.7L248.5,497.2L249.9,497.2L251.2,496.7L252.4,496.2L253.5,495.9L254.4,495.9L255.4,496.4L256.4,497.4L257.4,498.2L258.3,497.9L259.1,496.5L259.7,494.7L260.6,493.9L262.0,494.7L264.0,496.1L265.7,496.3" stroke="#fff" stroke-width="1.38" stroke-opacity="0.78"/><path d="M235.4,489.7L235.8,490.9L237.1,490.3L239.0,488.8L240.4,488.1L241.3,488.9L242.1,490.3L243.2,491.5L244.5,492.0L246.0,492.6L247.3,493.5L248.8,494.1L250.4,493.7L252.0,492.5L253.4,491.5L254.7,491.7L256.0,493.1L257.4,494.5L258.7,494.6L259.6,493.3L260.3,491.7L261.2,491.1L262.2,491.7L263.2,492.4L264.0,492.1L264.3,490.7L264.8,489.7L266.0,489.8" stroke="#fff" stroke-width="1.31" stroke-opacity="0.99"/><path d="M235.1,485.7L236.2,486.3L237.0,487.6L237.6,489.5L238.5,491.3L240.0,492.0L242.0,491.4L244.2,490.2L246.0,489.8L247.2,491.0L248.0,493.1L249.0,494.7L250.3,494.8L251.6,493.8L252.7,492.7L253.6,492.5L254.4,493.1L255.2,493.6L256.0,493.4L256.7,492.5L257.4,491.9L258.3,492.4L259.5,493.8L260.8,494.7L261.8,494.0L262.2,491.6L262.5,489.2L263.7,488.5L266.1,490.0L268.9,491.7L270.6,491.5L271.4,489.1L272.2,486.1L273.7,484.7L275.7,485.4L277.7,487.2L279.4,487.8L280.7,486.7L282.0,485.6L283.2,485.9L284.2,487.0" stroke="#fff" stroke-width="1.03" stroke-opacity="1.03"/><path d="M223.3,484.0L225.8,484.3L228.0,484.4L228.0,486.1L228.2,487.4L230.2,486.9L232.3,485.7L232.9,486.2L232.8,487.9L233.0,489.2L233.5,490.1L233.8,491.5L234.6,492.1L236.4,491.1L238.0,490.5L238.8,491.7L239.9,492.7L241.9,491.5L243.6,491.3L244.1,494.9L244.9,498.4L247.0,497.3L249.3,494.3L250.8,494.6L252.1,497.0L253.6,496.7L255.0,493.5L256.1,492.2L257.5,495.0L259.0,498.1L260.0,497.6L260.6,495.2L261.5,494.6L262.6,495.3L263.4,494.5L263.6,492.4L264.3,491.8L265.8,492.6L267.2,492.8L268.6,492.9L270.2,493.4L271.2,492.5L271.7,489.8L272.8,488.1L274.7,489.1L276.4,489.4L278.0,487.1L279.8,487.1L281.8,491.1" stroke="#4c78bd" stroke-width="1.24" stroke-opacity="0.79"/><path d="M237.0,485.6L237.9,487.0L238.4,489.4L239.3,491.1L241.3,490.7L243.9,488.5L246.1,486.9L247.1,488.1L247.3,491.6L247.8,494.7L249.0,494.9L250.5,492.7L251.7,490.3L252.5,489.6L253.1,490.6L253.8,491.8L254.5,492.4L255.2,492.3L256.0,492.3L256.9,492.4L257.9,492.4L258.8,491.8L259.6,490.7L260.5,490.0L261.7,490.0L263.2,490.1L264.8,489.6L266.3,488.9L268.1,488.6L270.0,488.6L271.6,487.8L272.6,485.7L273.8,483.2" stroke="#fff" stroke-width="0.74" stroke-opacity="0.60"/><path d="M219.1,464.7L218.9,466.3L218.2,467.8L217.6,469.1L217.7,469.9L218.7,470.3L220.5,470.4L222.3,470.3L223.5,470.6L223.6,471.5L222.7,473.0L221.4,474.6L220.6,475.9L221.1,476.8L222.7,477.3L224.5,477.6L225.6,478.2L225.8,479.3L225.5,481.0L225.5,482.7L226.5,483.8L228.4,483.9L230.4,483.7L231.9,484.2L232.5,485.9L232.8,488.3L233.3,490.0L234.7,490.4L236.7,489.7L238.8,489.0L240.2,489.2L240.4,490.6L240.0,492.6L239.7,494.3L240.3,495.1L241.5,495.0L242.9,494.4L243.9,494.1L244.6,494.7L245.4,495.8L246.7,496.5L248.2,496.2L249.9,495.7L251.7,495.9L253.6,497.0L255.5,497.7L257.4,497.0L258.9,495.4L260.3,494.3L261.6,494.0L263.0,494.0L264.5,493.9L265.6,493.2L266.5,492.4L267.5,491.7L268.5,491.1L269.3,490.2L269.9,488.9L270.8,487.8L272.0,487.5L273.6,488.2L275.2,488.9L276.7,488.8L277.9,487.5L279.1,485.8L280.7,484.8L282.4,484.9L284.0,485.8L285.3,486.8L286.5,487.4L287.9,487.7L289.3,488.0L290.7,488.6L291.6,489.7" stroke="#fff" stroke-width="0.62" stroke-opacity="0.68"/><path d="M220.3,472.3L220.1,473.3L219.8,474.5L219.9,475.3L220.7,475.9L221.3,476.5L221.3,477.5L220.9,478.7L221.4,479.6L222.8,480.0L224.1,480.3L224.4,481.4L224.1,483.4L224.2,485.3L225.7,485.9L228.0,485.3L229.8,485.4L230.5,487.2L230.9,489.5L232.2,490.5L234.1,490.4L235.7,490.6L236.5,491.8L237.2,493.1L238.3,493.7L239.5,494.0L240.2,495.0L240.3,496.6L240.9,497.7L242.4,497.4L244.1,496.0L245.1,495.8L245.7,497.7L246.5,500.1L248.0,499.8L249.6,497.7L251.1,497.3L252.9,498.6L254.7,498.9L256.6,498.6L258.6,498.9L260.5,498.6L261.8,496.5L262.7,494.5L264.7,494.7L267.6,496.1L269.2,495.5L268.9,492.6L268.9,490.3L270.5,490.4L272.3,491.5L273.4,491.6L274.2,490.9L275.1,490.4L276.1,489.9L276.8,488.5L277.7,487.1L279.1,487.5L280.7,489.6L281.8,490.8L282.7,489.9" stroke="#fff" stroke-width="0.78" stroke-opacity="0.56"/><path d="M219.0,466.8L218.0,468.3L217.5,469.4L218.4,469.8L220.0,469.9L220.9,470.3L220.7,471.3L220.1,472.6L220.5,473.5L221.9,474.0L222.8,474.8L222.3,476.2L221.7,477.8L222.5,478.9L224.4,479.3L225.6,480.0L225.6,481.6L225.7,483.5L226.8,484.5L228.5,484.7L229.8,485.4L230.7,486.7L232.1,487.1L233.8,487.1L234.5,488.3L234.4,490.6L235.1,491.4L237.2,490.4L239.2,489.6L239.4,490.9L238.4,493.4L238.5,494.8L240.1,494.4L241.7,493.6L242.6,494.0L243.2,495.0L244.1,495.8L245.2,496.9L246.6,498.3L248.4,497.7L250.4,494.9L252.2,495.6L254.3,499.4L256.3,499.2L257.7,495.3L259.1,494.3L261.0,496.2L262.7,496.8L263.7,495.7L264.5,494.5L264.9,492.9L265.3,491.5L267.0,492.1L269.4,493.7L269.9,492.5" stroke="#4c78bd" stroke-width="0.75" stroke-opacity="0.56"/><path d="M219.4,472.3L220.8,472.5L221.9,473.1L222.1,474.1L221.5,475.4L221.2,476.7L222.0,477.6L223.3,478.3L224.2,479.2L224.2,480.6L224.1,482.5L224.8,483.9L226.5,484.3L228.6,484.1L230.1,484.6L230.9,486.1L231.5,487.8L232.5,488.9L233.8,489.4L234.9,490.1L235.7,490.8L236.8,491.2L238.3,491.1L239.5,491.2L239.7,492.4L239.3,494.3L239.3,495.9L240.4,496.1L242.1,495.2L243.5,494.5L244.3,495.2L245.2,496.9L246.5,497.8L248.2,497.4L250.0,497.3L251.9,498.1L253.9,498.1L255.8,496.9L257.6,496.4L259.5,496.9L261.1,496.8L262.3,495.7L263.5,495.0L265.1,495.1L266.4,494.8L266.6,492.9L266.6,490.9L267.8,490.7L269.9,491.9L271.4,492.4L271.9,491.1L272.4,489.1L273.5,488.1L275.0,488.2L276.6,488.0L278.1,487.6L279.7,487.6L281.3,488.1L282.8,488.2L284.1,487.4L285.7,486.5L287.2,486.5L288.3,487.5L288.7,489.2L288.9,490.8L289.4,491.7L290.7,492.1L292.0,492.5L292.6,493.4" stroke="#fff" stroke-width="0.70" stroke-opacity="0.79"/><path d="M201.6,452.7L201.7,453.6L202.4,454.3L203.6,455.0L205.0,455.6L205.6,456.5L205.2,457.8L204.5,459.4L204.5,460.8L205.7,461.1L207.4,460.1L208.9,458.6L209.8,458.0L210.2,459.6L210.5,462.2L211.0,463.6L212.2,462.8L213.8,461.0L215.5,460.2L216.5,461.0L216.5,462.7L216.0,464.4L215.9,465.5L216.7,466.0L218.1,466.4L219.4,466.9L220.1,467.8L220.3,469.0L220.4,470.2L220.8,471.4L221.4,472.5L221.9,473.9L222.1,475.2L222.6,476.6L223.5,477.7L224.7,478.6L225.5,479.6L225.6,480.8L225.5,482.2L226.1,483.2L227.4,483.4L228.8,483.3L229.5,483.8L229.6,485.3L229.9,486.6L231.2,486.5L232.9,485.6L234.0,485.8L234.0,487.8L233.7,490.0L234.6,490.6L236.9,489.7L239.3,488.9L240.2,489.9L239.7,492.5L239.5,495.1L240.8,495.9L243.1,494.9L245.0,493.8L246.2,494.3L247.3,496.2L248.7,497.7L250.4,497.3L252.0,496.4L253.5,496.2L254.9,496.2L256.1,496.1L257.4,496.5L258.6,496.9L259.5,496.1L260.1,494.9L261.0,494.5L262.6,495.1L264.0,494.9L264.6,493.2L265.4,491.5L267.3,491.3L269.5,491.7L270.8,490.4L271.6,487.8L272.9,486.4L275.2,487.5L277.5,489.2L278.9,488.4L279.7,485.5L280.8,483.6L282.5,484.6L283.8,487.0L284.7,488.4L285.5,488.1" stroke="#fff" stroke-width="0.92" stroke-opacity="0.86"/><path d="M222.5,479.6L222.4,480.7L222.4,481.8L222.6,482.9L223.2,483.8L224.0,484.5L225.0,485.0L226.2,485.3L227.4,485.6L228.6,486.0L229.5,486.9L230.2,488.3L230.8,489.9L231.8,491.1L233.1,491.6L234.8,491.7L236.6,492.0L238.0,492.6L239.0,493.8L239.6,495.3L240.4,496.8L241.4,497.9L242.7,498.6L244.1,498.9L245.6,498.8L247.0,498.5L248.3,498.1L249.5,498.1L250.7,498.9L252.0,500.1L253.3,500.6" stroke="#fff" stroke-width="0.50" stroke-opacity="0.79"/><path d="M219.0,469.7L218.2,471.0L218.0,472.2L219.0,472.8L220.8,473.2L222.3,473.9L222.6,475.1L222.0,476.8L221.6,478.4L222.3,479.7L224.0,480.4L225.5,481.0L226.1,482.2L226.1,484.1L226.4,485.9L227.8,486.5L229.9,486.0L231.6,485.7L232.5,486.7L232.7,488.4L233.2,489.7L234.1,490.1L235.2,490.3L236.0,490.7L236.8,491.3L237.7,491.7L238.7,492.0L239.6,492.6L239.9,493.9L240.2,495.5L241.1,496.5L242.7,496.4L244.4,495.8L245.8,496.1L247.3,497.7L249.1,498.6L251.1,497.4L253.0,496.4L254.9,497.7L256.8,499.3L258.4,498.3L259.5,495.7L260.5,494.8L261.9,495.8L263.7,496.8L264.6,496.0L265.0,494.4L265.7,493.4L266.8,493.0L267.9,492.3" stroke="#fff" stroke-width="0.48" stroke-opacity="0.66"/><path d="M207.6,460.6L208.3,462.3L209.5,463.0L210.9,462.8L212.2,462.5L213.3,462.8L214.2,463.4L215.1,463.8L216.0,464.0L216.8,464.4L217.3,465.1L217.3,466.2L216.9,467.2L216.8,468.1L217.4,468.6L218.4,469.0L219.4,469.5L219.8,470.3L219.6,471.4L219.5,472.6L220.1,473.5L221.4,474.2L222.7,475.0L223.0,476.3L222.2,478.1L221.4,480.1L222.0,481.5L224.0,482.0L226.5,481.7L228.1,482.0L228.4,483.5L228.2,485.9L228.6,487.8L229.9,488.3L231.6,488.0L233.1,487.9L234.2,488.2L235.2,488.6L235.9,489.3L236.2,490.5L236.0,492.2L236.1,493.5L237.3,493.7L239.4,492.8L241.2,492.1L241.9,492.9L241.8,495.2L242.2,497.6L243.6,498.4L245.5,497.3L247.4,496.2L249.2,497.0L251.0,498.3L252.9,497.9L254.8,496.9L256.6,497.3L258.4,498.2L259.9,497.7L260.9,496.3L261.8,495.4L263.0,495.3L264.1,495.0L264.9,494.2L266.0,493.9L267.6,494.1L268.7,493.6L268.8,491.3L269.1,488.8L270.6,488.5L273.0,490.3L275.1,491.8L276.4,490.6L277.3,487.5" stroke="#4c78bd" stroke-width="0.68" stroke-opacity="0.87"/><path d="M205.8,459.6L206.0,460.6L206.5,461.3L207.4,461.3L208.5,460.5L209.7,459.8L210.7,460.0L211.5,461.0L212.4,461.8L213.4,462.4L214.4,462.9L215.1,463.7L215.8,464.6L216.7,465.3L218.1,465.9L219.6,466.5L220.5,467.6L220.3,469.0L219.7,470.7L219.4,472.2L220.1,473.3L221.4,474.0L222.5,475.0L222.9,476.1L223.3,477.2L224.0,478.1L224.9,478.8L224.9,479.8L224.1,481.3L223.8,482.6L224.9,482.9L226.8,482.3L228.2,482.0L228.3,483.1L228.3,484.7L229.1,485.5L230.3,485.8L231.1,486.7L231.8,488.1L233.3,488.3L235.6,487.7L237.3,488.0L237.5,490.2L237.3,492.7L238.3,493.9L240.5,493.7L242.2,493.7L243.1,494.8L244.0,495.9L245.4,495.8L246.8,495.3L247.6,496.5L248.5,498.8L249.9,498.2L251.3,495.3L252.4,495.3L253.6,497.7L254.8,497.5L256.0,496.4L257.4,497.3L258.9,497.5L259.6,495.2L260.3,493.6L262.7,494.8L265.4,495.9L266.3,493.9L266.5,491.0L268.4,490.4L270.4,490.4L271.5,488.8L272.7,487.6L274.7,488.7L276.6,490.0L277.4,488.2L277.8,485.2L279.0,484.9L280.6,487.0L281.7,487.9L282.5,486.7L283.6,485.9L284.5,486.5L285.1,487.5L286.0,487.7L287.7,487.0L289.7,486.6L290.5,487.5L289.8,489.8L289.0,492.0L289.9,492.9L292.4,492.9L294.4,493.5L294.6,495.2L294.2,497.3L295.4,498.7L296.8,500.0L295.8,502.2L294.9,504.1L297.1,504.9L299.8,505.2L300.0,506.3L298.4,508.0L297.8,509.3L298.6,509.8L299.9,509.9" stroke="#fff" stroke-width="0.64" stroke-opacity="0.88"/><path d="M203.5,451.4L204.1,451.9L204.6,452.4L204.9,453.0L204.8,453.8L204.5,454.8L204.2,455.9L204.2,456.8L204.8,457.4L205.7,457.5L206.6,457.2L207.6,456.9L208.5,457.2L209.5,458.2L210.6,459.5L211.8,460.7L213.2,461.3L214.7,461.5L216.2,461.8L217.6,462.5L218.6,463.5L219.5,464.5L220.2,465.5L220.9,466.4L221.5,467.2L221.8,468.1L221.7,469.1L221.3,470.2L220.9,471.2L221.0,472.0L221.7,472.6L223.1,473.0L224.6,473.4L225.5,474.0L225.6,475.0L225.0,476.2L224.4,477.6L224.4,478.8L225.1,479.7L226.2,480.3L227.3,480.8L228.3,481.5L229.2,482.5L230.3,483.5L231.7,484.2L233.1,484.9L234.2,485.8L235.2,487.1L236.0,488.3L237.1,489.1L238.5,489.5L239.9,489.7L240.8,490.3L241.2,491.3L241.4,492.5L241.9,493.3L242.7,493.4L243.7,493.1L244.5,492.9L245.1,493.4L245.7,494.7L246.8,495.8L248.2,495.8L249.8,494.9L251.5,494.3L253.3,494.6L255.1,495.0L256.9,494.9L258.7,494.7L260.3,494.7L261.7,494.5L262.8,493.6L263.3,491.8L263.8,490.3L264.9,489.8L266.8,490.4L268.5,490.9L269.5,490.3L270.0,488.6L270.6,487.0L271.6,486.1L272.9,486.1L274.4,486.3L275.9,486.1L277.4,485.7L279.0,485.5L280.6,485.5L282.2,485.3L283.9,484.8L285.7,484.4L287.6,484.4L289.3,485.1L290.4,486.5L291.0,488.2L291.3,489.8L291.8,491.1L292.8,492.0L294.2,492.5L295.4,493.1L296.1,494.1L296.1,495.5L295.9,496.9L296.3,498.0L297.3,498.9L298.2,499.7L298.4,500.9L298.2,502.2L298.2,503.4L298.7,504.4L299.4,505.3L300.0,506.2" stroke="#fff" stroke-width="0.49" stroke-opacity="0.94"/><path d="M239.5,460.2L239.3,460.8L239.0,461.3L238.7,461.9L238.4,462.5L238.0,463.0L237.7,463.5L237.3,464.0L237.0,464.5L236.7,465.0L236.5,465.5L236.2,466.0L235.9,466.5L235.7,467.1L235.4,467.6L235.1,468.2L234.9,468.8L234.7,469.5L234.4,470.2L234.1,471.0L233.7,471.9" stroke="#fff" stroke-width="0.89" stroke-opacity="0.69"/><path d="M240.4,458.4L240.2,458.8L240.0,459.3L239.6,459.9L239.3,460.4L238.8,461.0L238.2,461.5L237.7,462.0L237.1,462.6L236.5,463.1L236.1,463.7L235.7,464.2L235.4,464.9L235.1,465.6L235.0,466.3L234.9,467.1L234.9,468.0L234.9,468.8L234.7,469.6L234.5,470.3L234.1,471.1L233.5,471.8L232.7,472.6L232.0,473.4L231.4,474.2" stroke="#fff" stroke-width="0.78" stroke-opacity="0.92"/><path d="M241.3,459.6L241.3,460.0L241.1,460.4L240.8,460.9L240.4,461.3L239.9,461.6L239.4,462.1L239.0,462.6L238.8,463.2L238.7,463.8L238.7,464.5L238.7,465.2L238.5,465.8L238.3,466.4L237.9,466.9L237.3,467.4L236.7,467.9L236.1,468.4L235.6,469.0L235.1,469.7" stroke="#4c78bd" stroke-width="0.56" stroke-opacity="0.78"/><path d="M239.5,459.8L238.9,460.2L238.3,460.7L238.0,461.4L238.0,462.2L238.0,463.1L238.0,463.9L237.8,464.6L237.5,465.2L236.9,465.7L236.3,466.2L235.7,466.7L235.3,467.3L235.0,468.0L234.8,468.8L234.8,469.6L234.6,470.4L234.3,471.2L233.6,471.9L232.9,472.7L232.4,473.5L232.5,474.5L232.7,475.6L232.8,476.5L232.5,477.2L232.1,477.7" stroke="#fff" stroke-width="1.02" stroke-opacity="0.94"/><path d="M280.4,467.8L281.1,467.7L281.9,467.8L282.8,467.9L283.7,468.3L284.4,468.8L285.2,469.4L285.9,469.9L286.6,470.5L287.2,471.1L287.8,471.8L288.2,472.8" stroke="#fff" stroke-width="0.89" stroke-opacity="0.68"/><path d="M275.4,473.1L275.5,472.5L275.3,471.7L274.9,470.5L274.9,469.5L275.7,469.0L277.3,469.2L278.7,469.5L279.5,469.7L279.6,469.6L279.7,469.1L280.1,468.6L280.7,468.3L281.4,468.2L282.1,468.3L283.0,468.5L284.0,468.4L285.2,468.3L286.4,468.2L287.2,468.5L287.6,469.4L287.6,470.9L287.4,472.4L287.5,473.7L288.0,474.5L288.8,475.1L289.6,475.6L290.3,476.3L290.8,477.0L291.3,477.6" stroke="#4c78bd" stroke-width="0.96" stroke-opacity="0.84"/><path d="M281.9,469.1L282.2,469.7L282.5,470.3L282.8,470.7L283.3,471.0L283.9,471.2L284.5,471.4L285.1,471.7L285.5,472.1L285.8,472.6L286.0,473.3L286.1,474.0L286.4,474.5L286.8,474.9L287.5,475.1L288.5,475.2L289.5,475.2L290.5,475.5" stroke="#fff" stroke-width="0.94" stroke-opacity="0.66"/><path d="M280.0,470.1L280.8,469.8L280.9,469.1L281.0,468.4L281.5,468.1L282.0,468.3L282.4,469.2L282.4,470.5L282.3,471.7L282.6,472.2L283.6,471.9L284.9,471.2L286.0,470.9L286.4,471.4L286.3,472.5L286.0,473.6L286.3,474.2L287.3,474.1" stroke="#fff" stroke-width="1.01" stroke-opacity="0.54"/><path d="M276.3,467.8L276.9,466.8L278.2,466.5L279.5,466.6L280.6,466.8L281.4,467.1L282.1,467.3L282.7,467.5L283.4,467.8L283.8,468.4L284.1,469.1L284.5,469.7L285.0,470.0L285.8,470.0L286.8,469.8L287.6,469.8L288.2,470.2L288.4,471.1L288.3,472.2L288.3,473.1L289.0,473.5L290.2,473.6L291.5,473.8L292.4,474.3L292.6,475.3" stroke="#4c78bd" stroke-width="0.77" stroke-opacity="0.90"/><path d="M282.1,467.4L283.2,466.8L284.4,466.3L285.6,466.3L286.2,467.0L286.4,468.3L286.3,469.7L286.3,470.8L286.6,471.5L287.3,471.7L288.2,471.7L289.1,471.8L289.8,472.2L290.0,472.9" stroke="#4c78bd" stroke-width="0.66" stroke-opacity="0.68"/></g><g fill="#fff"><circle cx="208.5" cy="460.8" r="0.76" opacity="0.69"/><circle cx="295.6" cy="499.4" r="0.68" opacity="0.58"/><circle cx="276.3" cy="488.6" r="0.60" opacity="0.87"/><circle cx="219.3" cy="460.4" r="0.70" opacity="0.99"/><circle cx="214.2" cy="462.0" r="0.66" opacity="0.85"/><circle cx="270.4" cy="492.8" r="0.58" opacity="0.95"/><circle cx="264.7" cy="489.4" r="0.55" opacity="0.85"/><circle cx="253.2" cy="500.1" r="0.51" opacity="0.66"/><circle cx="258.2" cy="495.5" r="0.51" opacity="0.62"/><circle cx="303.2" cy="513.3" r="0.66" opacity="0.64"/><circle cx="238.2" cy="489.6" r="0.42" opacity="0.41"/><circle cx="292.9" cy="502.5" r="0.53" opacity="0.59"/><circle cx="202.2" cy="463.0" r="0.42" opacity="0.55"/><circle cx="272.2" cy="489.7" r="0.49" opacity="0.54"/><circle cx="285.4" cy="494.8" r="0.36" opacity="0.76"/><circle cx="296.2" cy="513.2" r="0.37" opacity="0.44"/><circle cx="277.8" cy="493.2" r="0.63" opacity="0.68"/><circle cx="298.3" cy="507.0" r="0.35" opacity="0.75"/><circle cx="233.0" cy="490.0" r="0.67" opacity="0.47"/><circle cx="226.7" cy="467.2" r="0.46" opacity="0.66"/><circle cx="294.4" cy="494.4" r="0.47" opacity="0.97"/><circle cx="304.6" cy="509.0" r="0.36" opacity="0.65"/><circle cx="269.4" cy="492.4" r="0.32" opacity="0.47"/><circle cx="253.1" cy="499.2" r="0.61" opacity="0.94"/><circle cx="248.9" cy="497.2" r="0.44" opacity="0.87"/><circle cx="217.9" cy="462.7" r="0.75" opacity="0.50"/><circle cx="220.6" cy="467.8" r="0.47" opacity="0.64"/><circle cx="287.8" cy="484.6" r="0.50" opacity="0.86"/><circle cx="298.8" cy="498.2" r="0.43" opacity="0.99"/><circle cx="252.8" cy="496.3" r="0.44" opacity="0.48"/><circle cx="292.5" cy="499.2" r="0.53" opacity="0.72"/><circle cx="221.5" cy="468.4" r="0.64" opacity="0.73"/><circle cx="203.8" cy="451.6" r="0.33" opacity="0.56"/><circle cx="214.2" cy="469.8" r="0.46" opacity="0.55"/><circle cx="217.8" cy="475.9" r="0.70" opacity="0.87"/><circle cx="279.6" cy="492.4" r="0.36" opacity="0.43"/><circle cx="210.8" cy="463.2" r="0.71" opacity="0.75"/><circle cx="240.3" cy="491.2" r="0.68" opacity="0.60"/><circle cx="212.3" cy="458.7" r="0.72" opacity="0.47"/><circle cx="269.7" cy="486.7" r="0.45" opacity="0.46"/><circle cx="222.6" cy="469.5" r="0.62" opacity="0.81"/><circle cx="212.2" cy="475.3" r="0.79" opacity="0.43"/><circle cx="265.4" cy="494.0" r="0.52" opacity="0.96"/><circle cx="221.3" cy="474.1" r="0.63" opacity="0.71"/><circle cx="219.9" cy="465.9" r="0.39" opacity="0.55"/><circle cx="245.1" cy="492.9" r="0.66" opacity="0.94"/><circle cx="241.3" cy="501.1" r="0.31" opacity="0.59"/><circle cx="213.9" cy="457.7" r="0.36" opacity="0.58"/><circle cx="290.0" cy="496.6" r="0.64" opacity="0.88"/><circle cx="232.4" cy="492.2" r="0.46" opacity="0.48"/><circle cx="218.4" cy="461.9" r="0.49" opacity="0.73"/><circle cx="255.0" cy="492.7" r="0.34" opacity="0.60"/><circle cx="302.1" cy="514.6" r="0.68" opacity="0.72"/><circle cx="282.5" cy="488.0" r="0.43" opacity="0.46"/><circle cx="294.4" cy="499.7" r="0.57" opacity="0.46"/><circle cx="281.0" cy="490.0" r="0.74" opacity="0.59"/><circle cx="206.2" cy="463.0" r="0.49" opacity="0.61"/><circle cx="207.9" cy="464.9" r="0.71" opacity="0.60"/><circle cx="220.3" cy="474.9" r="0.74" opacity="0.61"/><circle cx="275.9" cy="482.9" r="0.68" opacity="0.73"/><circle cx="231.6" cy="483.9" r="0.70" opacity="0.58"/><circle cx="212.2" cy="463.1" r="0.32" opacity="0.89"/><circle cx="257.7" cy="493.6" r="0.51" opacity="0.73"/><circle cx="203.5" cy="461.4" r="0.37" opacity="0.80"/><circle cx="266.8" cy="494.7" r="0.77" opacity="0.43"/><circle cx="196.2" cy="453.5" r="0.38" opacity="0.72"/><circle cx="292.9" cy="490.7" r="0.75" opacity="0.85"/><circle cx="235.4" cy="485.1" r="0.78" opacity="0.87"/><circle cx="274.1" cy="487.6" r="0.54" opacity="0.88"/><circle cx="233.0" cy="488.9" r="0.53" opacity="0.74"/><circle cx="286.3" cy="482.4" r="0.30" opacity="0.94"/><circle cx="277.4" cy="481.0" r="0.37" opacity="0.60"/><circle cx="279.5" cy="489.3" r="0.80" opacity="0.79"/><circle cx="199.3" cy="457.0" r="0.58" opacity="0.59"/><circle cx="221.5" cy="472.1" r="0.75" opacity="0.90"/><circle cx="256.0" cy="494.9" r="0.60" opacity="0.61"/><circle cx="302.0" cy="518.9" r="0.71" opacity="0.45"/><circle cx="207.3" cy="460.6" r="0.51" opacity="0.99"/><circle cx="294.0" cy="497.4" r="0.41" opacity="0.41"/><circle cx="220.3" cy="478.5" r="0.45" opacity="0.80"/><circle cx="257.0" cy="495.3" r="0.67" opacity="0.81"/><circle cx="277.4" cy="484.0" r="0.44" opacity="0.42"/><circle cx="240.4" cy="492.3" r="0.73" opacity="0.93"/><circle cx="292.2" cy="498.9" r="0.39" opacity="0.56"/><circle cx="279.1" cy="489.0" r="0.30" opacity="0.61"/><circle cx="225.6" cy="482.0" r="0.72" opacity="0.60"/><circle cx="296.0" cy="505.0" r="0.39" opacity="0.98"/><circle cx="262.6" cy="497.6" r="0.57" opacity="0.84"/><circle cx="300.3" cy="515.6" r="0.49" opacity="1.00"/><circle cx="250.1" cy="500.4" r="0.31" opacity="0.97"/><circle cx="219.8" cy="470.4" r="0.59" opacity="0.96"/><circle cx="297.8" cy="512.3" r="0.71" opacity="0.41"/><circle cx="232.1" cy="491.8" r="0.48" opacity="0.75"/><circle cx="218.2" cy="469.3" r="0.35" opacity="0.95"/><circle cx="198.8" cy="457.5" r="0.37" opacity="0.45"/><circle cx="298.7" cy="515.8" r="0.70" opacity="0.98"/><circle cx="294.3" cy="505.7" r="0.56" opacity="0.99"/><circle cx="281.0" cy="484.1" r="0.50" opacity="0.74"/><circle cx="287.2" cy="498.2" r="0.31" opacity="0.72"/><circle cx="263.7" cy="502.4" r="0.52" opacity="0.51"/><circle cx="240.3" cy="486.2" r="0.30" opacity="0.46"/><circle cx="277.0" cy="489.7" r="0.70" opacity="0.92"/><circle cx="297.2" cy="501.4" r="0.68" opacity="0.76"/><circle cx="228.0" cy="488.6" r="0.42" opacity="0.75"/><circle cx="301.4" cy="513.8" r="0.65" opacity="0.46"/><circle cx="219.6" cy="459.3" r="0.46" opacity="0.59"/><circle cx="245.4" cy="497.3" r="0.65" opacity="0.59"/><circle cx="292.2" cy="491.0" r="0.61" opacity="0.67"/><circle cx="299.0" cy="512.1" r="0.63" opacity="0.62"/><circle cx="213.5" cy="457.4" r="0.54" opacity="0.68"/></g><g fill="#fff"><circle cx="260.5" cy="491.6" r="0.63" opacity="0.79"/><circle cx="250.7" cy="501.6" r="0.89" opacity="0.73"/><circle cx="225.7" cy="483.6" r="0.67" opacity="0.88"/><circle cx="282.3" cy="483.5" r="0.81" opacity="0.86"/><circle cx="279.0" cy="489.4" r="1.19" opacity="0.63"/><circle cx="238.0" cy="485.8" r="0.94" opacity="0.97"/><circle cx="262.6" cy="495.0" r="0.53" opacity="0.77"/><circle cx="222.3" cy="471.1" r="0.64" opacity="0.94"/><circle cx="242.1" cy="495.3" r="0.93" opacity="0.82"/><circle cx="232.0" cy="487.9" r="0.67" opacity="0.73"/><circle cx="276.4" cy="487.8" r="0.71" opacity="0.84"/><circle cx="271.6" cy="493.2" r="0.77" opacity="0.81"/><circle cx="246.6" cy="486.4" r="1.14" opacity="0.97"/><circle cx="269.7" cy="491.7" r="0.52" opacity="0.93"/><circle cx="260.7" cy="492.5" r="0.69" opacity="0.97"/><circle cx="249.6" cy="497.4" r="0.74" opacity="0.63"/><circle cx="284.7" cy="491.8" r="0.50" opacity="0.77"/><circle cx="222.4" cy="479.0" r="1.05" opacity="0.92"/><circle cx="221.2" cy="482.0" r="1.09" opacity="0.93"/><circle cx="250.1" cy="495.5" r="0.58" opacity="0.73"/><circle cx="226.9" cy="476.6" r="1.04" opacity="0.92"/><circle cx="254.5" cy="499.5" r="1.15" opacity="0.99"/><circle cx="223.4" cy="477.4" r="0.73" opacity="0.74"/><circle cx="283.5" cy="490.5" r="0.59" opacity="1.00"/><circle cx="249.8" cy="493.9" r="1.04" opacity="0.73"/><circle cx="239.8" cy="492.9" r="1.12" opacity="0.72"/><circle cx="270.1" cy="488.7" r="0.79" opacity="0.83"/><circle cx="220.5" cy="479.2" r="0.59" opacity="0.62"/><circle cx="266.8" cy="492.3" r="0.64" opacity="0.89"/><circle cx="269.4" cy="488.0" r="0.90" opacity="0.76"/><circle cx="232.4" cy="491.5" r="0.94" opacity="0.97"/><circle cx="232.0" cy="483.7" r="0.54" opacity="0.72"/><circle cx="255.4" cy="489.7" r="0.90" opacity="0.86"/><circle cx="256.6" cy="495.6" r="0.50" opacity="0.99"/><circle cx="268.1" cy="491.2" r="0.66" opacity="0.86"/><circle cx="226.6" cy="483.8" r="0.50" opacity="0.70"/><circle cx="240.6" cy="492.1" r="0.68" opacity="0.70"/><circle cx="237.1" cy="488.4" r="0.73" opacity="0.61"/><circle cx="275.2" cy="488.8" r="0.50" opacity="0.69"/><circle cx="276.5" cy="486.6" r="1.07" opacity="0.96"/><circle cx="226.2" cy="477.7" r="0.58" opacity="0.73"/><circle cx="258.4" cy="493.1" r="0.93" opacity="0.75"/><circle cx="220.7" cy="482.2" r="1.11" opacity="0.96"/><circle cx="224.3" cy="477.6" r="0.74" opacity="0.68"/><circle cx="273.7" cy="490.7" r="0.77" opacity="0.97"/><circle cx="228.3" cy="484.5" r="0.66" opacity="0.75"/><circle cx="223.3" cy="480.2" r="0.60" opacity="0.71"/><circle cx="258.1" cy="492.6" r="1.10" opacity="0.90"/><circle cx="227.4" cy="484.2" r="0.67" opacity="0.66"/><circle cx="223.4" cy="474.4" r="0.96" opacity="0.64"/><circle cx="234.9" cy="483.8" r="0.52" opacity="0.64"/><circle cx="251.9" cy="494.4" r="1.04" opacity="0.70"/><circle cx="255.4" cy="492.8" r="1.16" opacity="0.76"/><circle cx="243.5" cy="488.9" r="1.19" opacity="0.91"/><circle cx="251.2" cy="494.4" r="1.17" opacity="0.99"/><circle cx="264.5" cy="492.2" r="0.81" opacity="0.69"/><circle cx="272.4" cy="491.6" r="0.84" opacity="0.77"/><circle cx="268.3" cy="492.0" r="1.20" opacity="0.92"/><circle cx="225.2" cy="486.5" r="1.16" opacity="0.78"/><circle cx="236.6" cy="494.3" r="0.87" opacity="0.72"/></g></g></g>
</g>

<g id="s3">
<path d="M492.0,647.3 C494.0,647.0 492.7,647.7 504.0,645.8 C515.3,643.9 544.0,639.1 560.0,636.0 C576.0,632.9 586.7,630.3 600.0,627.0 C613.3,623.7 628.0,619.5 640.0,616.0 C652.0,612.5 663.3,608.8 672.0,606.0 C680.7,603.2 688.7,600.3 692.0,599.2 C691.7,601.3 689.3,607.2 690.0,612.0 C690.7,616.8 692.3,622.7 696.0,628.0 C699.7,633.3 705.3,639.3 712.0,644.0 C718.7,648.7 728.0,652.4 736.0,656.0 C744.0,659.6 756.0,663.8 760.0,665.4 C753.3,664.7 733.3,662.4 720.0,661.0 C706.7,659.6 693.3,658.2 680.0,657.0 C666.7,655.8 653.3,655.0 640.0,654.0 C626.7,653.0 613.3,651.9 600.0,651.0 C586.7,650.1 576.0,649.4 560.0,648.8 C544.0,648.2 515.3,647.5 504.0,647.2 C492.7,647.0 494.0,647.3 492.0,647.3 Z" fill="#c6c6ca"/>
<g fill="url(#pole)"><path d="M464.25,445 L468.75,445 L469.10,654 L463.90,654 Z"/><path d="M699.25,500 L704.35,500 L704.70,598 L698.90,598 Z"/><path d="M771.25,573.7 L775.85,573.7 L776.20,668.8 L770.90,668.8 Z"/></g>
<path d="M473.0,444.2 C477.5,445.0 492.2,447.8 500.0,449.0 C507.8,450.2 513.3,450.8 520.0,451.6 C526.7,452.4 533.3,453.1 540.0,453.6 C546.7,454.2 553.3,454.6 560.0,454.9 C566.7,455.2 573.3,455.5 580.0,455.6 C586.7,455.7 595.0,455.6 600.0,455.5 C605.0,455.4 606.2,455.2 610.0,455.0 C613.8,454.8 618.3,454.4 622.5,454.0 C626.7,453.6 630.8,453.1 635.0,452.5 C639.2,451.9 643.3,451.3 647.5,450.6 C651.7,449.9 655.8,449.0 660.0,448.1 C664.2,447.2 668.3,446.2 672.5,445.0 C676.7,443.8 680.8,442.3 685.0,440.6 C689.2,438.9 694.3,436.6 697.5,435.0 C700.7,433.4 703.0,431.5 704.1,430.8 C704.2,433.2 704.5,440.5 704.6,445.0 C704.8,449.5 704.7,453.5 705.0,458.0 C705.3,462.5 705.8,467.3 706.4,472.0 C707.0,476.7 707.9,481.9 708.8,486.3 C709.6,490.7 710.5,494.4 711.8,498.5 C713.0,502.6 714.7,506.9 716.2,510.6 C717.8,514.4 719.4,517.5 721.3,521.0 C723.2,524.5 725.3,528.0 727.5,531.3 C729.7,534.6 732.0,537.9 734.5,541.0 C737.0,544.1 738.8,546.3 742.5,550.0 C746.2,553.7 752.0,559.2 757.0,563.0 C762.0,566.8 769.9,571.0 772.5,572.6 C767.1,570.2 752.1,563.3 740.0,558.0 C727.9,552.7 713.3,546.8 700.0,541.0 C686.7,535.2 673.3,529.3 660.0,523.0 C646.7,516.7 633.3,509.1 620.0,503.0 C606.7,496.9 593.3,491.7 580.0,486.2 C566.7,480.7 553.3,475.6 540.0,470.2 C526.7,464.8 511.2,458.3 500.0,454.0 C488.8,449.7 477.5,445.8 473.0,444.2 Z" fill="#5b6278"/>
<g filter="url(#soft)"><g clip-path="url(#c3)"><circle cx="547" cy="465.6" r="1.68" fill="#30364a"/><circle cx="547.4" cy="466.1" r="0.97" fill="#c9cedd" opacity=".92"/><circle cx="546.4" cy="465.0" r="0.50" fill="#fff"/><circle cx="554" cy="469" r="1.47" fill="#30364a"/><circle cx="554.3" cy="469.4" r="0.85" fill="#c9cedd" opacity=".92"/><circle cx="553.4" cy="468.4" r="0.44" fill="#fff"/><circle cx="563" cy="467" r="1.58" fill="#30364a"/><circle cx="563.3" cy="467.4" r="0.91" fill="#c9cedd" opacity=".92"/><circle cx="562.4" cy="466.4" r="0.47" fill="#fff"/><circle cx="569" cy="473" r="1.68" fill="#30364a"/><circle cx="569.4" cy="473.5" r="0.97" fill="#c9cedd" opacity=".92"/><circle cx="568.4" cy="472.4" r="0.50" fill="#fff"/><circle cx="636" cy="458" r="2.94" fill="#30364a"/><circle cx="636.6" cy="458.8" r="1.71" fill="#c9cedd" opacity=".92"/><circle cx="634.9" cy="456.9" r="0.88" fill="#fff"/><circle cx="670" cy="467" r="2.94" fill="#30364a"/><circle cx="670.6" cy="467.8" r="1.71" fill="#c9cedd" opacity=".92"/><circle cx="668.9" cy="465.9" r="0.88" fill="#fff"/><circle cx="698" cy="456" r="2.73" fill="#30364a"/><circle cx="698.6" cy="456.8" r="1.58" fill="#c9cedd" opacity=".92"/><circle cx="697.0" cy="455.0" r="0.82" fill="#fff"/><circle cx="682" cy="458" r="2.10" fill="#30364a"/><circle cx="682.5" cy="458.6" r="1.22" fill="#c9cedd" opacity=".92"/><circle cx="681.2" cy="457.2" r="0.63" fill="#fff"/><circle cx="674" cy="482" r="2.94" fill="#30364a"/><circle cx="674.6" cy="482.8" r="1.71" fill="#c9cedd" opacity=".92"/><circle cx="672.9" cy="480.9" r="0.88" fill="#fff"/><circle cx="682" cy="476" r="1.89" fill="#30364a"/><circle cx="682.4" cy="476.5" r="1.10" fill="#c9cedd" opacity=".92"/><circle cx="681.3" cy="475.3" r="0.57" fill="#fff"/><circle cx="698" cy="475" r="2.10" fill="#30364a"/><circle cx="698.5" cy="475.6" r="1.22" fill="#c9cedd" opacity=".92"/><circle cx="697.2" cy="474.2" r="0.63" fill="#fff"/><circle cx="578" cy="472" r="2.52" fill="#30364a"/><circle cx="578.6" cy="472.7" r="1.46" fill="#c9cedd" opacity=".92"/><circle cx="577.0" cy="471.0" r="0.76" fill="#fff"/><circle cx="641" cy="482" r="2.10" fill="#30364a"/><circle cx="641.5" cy="482.6" r="1.22" fill="#c9cedd" opacity=".92"/><circle cx="640.2" cy="481.2" r="0.63" fill="#fff"/><circle cx="626" cy="494" r="2.10" fill="#30364a"/><circle cx="626.5" cy="494.6" r="1.22" fill="#c9cedd" opacity=".92"/><circle cx="625.2" cy="493.2" r="0.63" fill="#fff"/><circle cx="643" cy="510" r="2.73" fill="#30364a"/><circle cx="643.6" cy="510.8" r="1.58" fill="#c9cedd" opacity=".92"/><circle cx="642.0" cy="509.0" r="0.82" fill="#fff"/><circle cx="675" cy="510" r="2.73" fill="#30364a"/><circle cx="675.6" cy="510.8" r="1.58" fill="#c9cedd" opacity=".92"/><circle cx="674.0" cy="509.0" r="0.82" fill="#fff"/><circle cx="704" cy="528" r="2.73" fill="#30364a"/><circle cx="704.6" cy="528.8" r="1.58" fill="#c9cedd" opacity=".92"/><circle cx="703.0" cy="527.0" r="0.82" fill="#fff"/><circle cx="715" cy="518" r="2.10" fill="#30364a"/><circle cx="715.5" cy="518.6" r="1.22" fill="#c9cedd" opacity=".92"/><circle cx="714.2" cy="517.2" r="0.63" fill="#fff"/><circle cx="700" cy="484" r="1.89" fill="#30364a"/><circle cx="700.4" cy="484.5" r="1.10" fill="#c9cedd" opacity=".92"/><circle cx="699.3" cy="483.3" r="0.57" fill="#fff"/><circle cx="690" cy="445" r="1.68" fill="#30364a"/><circle cx="690.4" cy="445.5" r="0.97" fill="#c9cedd" opacity=".92"/><circle cx="689.4" cy="444.4" r="0.50" fill="#fff"/><circle cx="679" cy="447" r="1.89" fill="#30364a"/><circle cx="679.4" cy="447.5" r="1.10" fill="#c9cedd" opacity=".92"/><circle cx="678.3" cy="446.3" r="0.57" fill="#fff"/><circle cx="696" cy="445" r="1.68" fill="#30364a"/><circle cx="696.4" cy="445.5" r="0.97" fill="#c9cedd" opacity=".92"/><circle cx="695.4" cy="444.4" r="0.50" fill="#fff"/><circle cx="710" cy="510" r="1.89" fill="#30364a"/><circle cx="710.4" cy="510.5" r="1.10" fill="#c9cedd" opacity=".92"/><circle cx="709.3" cy="509.3" r="0.57" fill="#fff"/><circle cx="719" cy="534" r="2.10" fill="#30364a"/><circle cx="719.5" cy="534.6" r="1.22" fill="#c9cedd" opacity=".92"/><circle cx="718.2" cy="533.2" r="0.63" fill="#fff"/><circle cx="718" cy="542" r="1.68" fill="#30364a"/><circle cx="718.4" cy="542.5" r="0.97" fill="#c9cedd" opacity=".92"/><circle cx="717.4" cy="541.4" r="0.50" fill="#fff"/><circle cx="596" cy="478" r="1.68" fill="#30364a"/><circle cx="596.4" cy="478.5" r="0.97" fill="#c9cedd" opacity=".92"/><circle cx="595.4" cy="477.4" r="0.50" fill="#fff"/><circle cx="660" cy="470" r="1.47" fill="#30364a"/><circle cx="660.3" cy="470.4" r="0.85" fill="#c9cedd" opacity=".92"/><circle cx="659.4" cy="469.4" r="0.44" fill="#fff"/><circle cx="688" cy="466" r="1.47" fill="#30364a"/><circle cx="688.3" cy="466.4" r="0.85" fill="#c9cedd" opacity=".92"/><circle cx="687.4" cy="465.4" r="0.44" fill="#fff"/><circle cx="652" cy="462" r="1.37" fill="#30364a"/><circle cx="652.3" cy="462.4" r="0.79" fill="#c9cedd" opacity=".92"/><circle cx="651.5" cy="461.5" r="0.41" fill="#fff"/><circle cx="666" cy="500" r="1.47" fill="#30364a"/><circle cx="666.3" cy="500.4" r="0.85" fill="#c9cedd" opacity=".92"/><circle cx="665.4" cy="499.4" r="0.44" fill="#fff"/><circle cx="690" cy="505" r="1.58" fill="#30364a"/><circle cx="690.3" cy="505.4" r="0.91" fill="#c9cedd" opacity=".92"/><circle cx="689.4" cy="504.4" r="0.47" fill="#fff"/><circle cx="708" cy="496" r="1.47" fill="#30364a"/><circle cx="708.3" cy="496.4" r="0.85" fill="#c9cedd" opacity=".92"/><circle cx="707.4" cy="495.4" r="0.44" fill="#fff"/><circle cx="724" cy="548" r="1.47" fill="#30364a"/><circle cx="724.3" cy="548.4" r="0.85" fill="#c9cedd" opacity=".92"/><circle cx="723.4" cy="547.4" r="0.44" fill="#fff"/><circle cx="656" cy="514" r="1.37" fill="#30364a"/><circle cx="656.3" cy="514.4" r="0.79" fill="#c9cedd" opacity=".92"/><circle cx="655.5" cy="513.5" r="0.41" fill="#fff"/><g fill="none" stroke-linecap="round" stroke-linejoin="round"><path d="M611.6,463.4L613.6,465.8L615.4,469.6L618.3,467.8L620.4,469.4L622.8,468.7L625.6,466.0L626.7,468.5L627.4,471.3L629.1,470.6L629.9,471.5L630.2,473.8L631.8,472.2L633.8,469.9L634.2,471.5L634.6,473.2L636.2,472.2L636.8,473.9L637.2,476.6L639.7,474.9L642.0,474.3L643.0,476.8L645.2,476.5L647.5,476.3L648.2,479.4L649.4,481.2L651.6,480.1L653.3,479.6L654.1,480.9L654.8,482.3L655.9,482.2L657.4,481.0L658.5,480.6L658.9,482.2L659.0,484.2L660.0,484.1L661.6,482.8L662.1,484.3L662.5,485.8L664.5,484.2L665.6,484.7L666.1,487.2L668.1,486.3L669.9,486.3L670.7,489.0L672.5,489.2L674.8,488.2L676.0,489.9L677.1,491.9L679.2,491.3L681.3,490.4L682.3,491.9L683.4,493.5L684.9,492.9L686.3,491.9" stroke="#fff" stroke-width="1.29" stroke-opacity="0.86"/><path d="M599.2,463.0L600.7,466.0L602.4,468.7L604.7,468.8L607.5,465.9L610.4,463.2L612.7,464.0L614.4,467.6L616.0,470.3L617.8,469.6L619.7,467.2L621.2,466.0L622.1,466.9L622.7,468.6L623.3,470.0L624.2,470.6L625.4,470.6L626.9,470.5L628.5,470.3L630.3,470.3L632.1,470.5L633.8,471.2L635.3,472.8L636.6,475.0L638.1,476.9L640.1,477.3L642.7,476.1L645.2,474.7L646.9,474.9L647.5,477.1L647.4,480.2L647.7,482.3L648.7,482.4L650.2,480.9L651.8,479.0L653.2,477.5L654.1,477.1L654.6,477.8L654.8,479.4L654.9,481.6L655.0,483.8L655.6,485.3" stroke="#fff" stroke-width="1.11" stroke-opacity="0.75"/><path d="M566.0,462.3L567.0,462.8L568.5,460.7L570.1,458.9L571.5,460.2L572.9,463.2L574.6,464.9L576.7,463.6L579.0,460.6L581.2,459.1L583.2,460.8L585.1,464.3L586.9,466.5L588.8,465.2L590.6,461.6L592.2,459.2L593.4,460.1L594.2,463.5L595.0,466.7L595.8,467.3L596.8,464.9L597.8,461.2L598.9,459.2L599.8,460.6L600.6,464.7L601.6,467.9L603.4,466.7L606.0,462.3L608.7,460.3L610.7,464.1L612.6,468.9L615.3,468.4L618.5,464.2L621.1,462.9L622.3,466.3L623.0,470.2L624.1,470.7L626.0,468.2L627.8,465.9L628.8,466.1L628.9,468.6L628.9,471.3L629.7,472.2L631.4,471.1L633.5,469.4L635.2,469.3L636.3,471.2L637.3,473.8L639.0,475.1L641.5,474.6L644.1,474.0L646.0,474.8L647.2,476.9L648.3,478.7L649.9,479.0L651.6,478.4L653.1,477.9L654.0,478.2L654.5,479.1L654.8,480.4L655.1,481.4L655.7,481.9L656.5,481.7L657.5,480.9L658.7,480.0L659.8,479.9L660.4,481.2L660.8,483.4L661.7,485.0L663.6,484.6L666.3,483.2L668.5,483.0L669.7,485.3L670.6,488.5L672.1,490.1L674.4,489.3L676.9,487.6L678.9,486.8L680.0,488.0L680.3,490.7L680.7,493.2L681.6,494.1L683.1,493.0L684.6,490.8L685.8,489.1L686.3,488.9L686.7,490.2L687.7,492.5L689.2,494.2L690.4,494.5L690.9,493.1L691.2,490.7L691.9,488.4L693.4,487.1L695.3,487.3L696.5,488.9L696.0,491.1L694.7,493.1L694.7,494.7L697.4,496.1L700.5,497.8L700.8,499.9L698.3,502.4L696.9,504.7L698.5,506.2L701.4,506.6L703.1,507.1L702.8,508.6L701.6,510.9" stroke="#fff" stroke-width="0.86" stroke-opacity="0.68"/><path d="M610.0,470.4L612.5,468.3L614.6,467.0L615.8,469.6L617.0,470.4L618.5,468.8L619.5,469.6L620.0,471.7L621.2,471.3L622.8,469.6L624.2,469.5L625.2,470.9L626.4,472.1L628.0,472.7L629.5,473.8L631.0,475.0L633.2,474.9L635.8,473.8L637.8,474.1L638.8,476.8L639.8,479.0L641.8,478.6L643.9,477.8L644.8,479.0L645.4,480.6L646.6,480.4L648.1,479.3L649.0,479.5L649.4,480.9L649.8,482.1L650.5,482.7L651.3,482.7L652.3,482.7L653.2,482.8L654.1,483.2L655.3,483.3L656.7,483.1L658.4,482.9L659.8,483.9L660.7,486.5L662.1,488.3L664.5,487.8L667.2,486.8L668.7,488.1L669.8,490.1L671.5,490.4L673.2,489.8L674.3,490.5L674.8,492.1L675.5,492.9L676.7,492.6L677.9,492.1L678.9,492.2L679.8,492.8L680.8,493.0L681.9,493.2L683.0,493.9L684.2,495.2L686.0,496.3L687.9,496.2L689.2,494.7" stroke="#fff" stroke-width="0.93" stroke-opacity="0.91"/><path d="M566.9,460.1L567.6,462.3L568.8,461.6L570.2,459.8L571.6,459.9L572.9,461.7L574.5,462.7L576.4,461.9L578.5,460.3L580.6,459.9L582.6,461.4L584.6,463.5L586.6,464.1L588.6,463.0L590.5,461.5L592.1,460.9L593.5,461.6L594.6,462.6L595.6,463.2L596.5,463.2L597.4,463.2L598.2,463.4L599.1,463.5L600.0,463.1L601.2,462.2L602.5,461.6L603.9,462.7L605.5,464.9L607.5,465.7L610.2,464.1L613.1,462.8L615.5,464.3L617.7,466.6L620.0,466.7L622.4,465.6L624.2,465.9L625.2,467.9L626.0,469.3L627.3,468.8L629.0,467.1L630.3,466.4L630.8,467.8L630.7,470.6L631.1,472.6L632.5,472.2L634.8,470.2L637.1,468.8L638.5,470.1L639.3,473.3L640.5,475.7L642.8,475.7L645.5,474.8L647.7,474.9L649.1,476.4L650.1,478.2L651.4,478.9L652.8,478.7L654.1,478.3L655.1,478.3L655.7,478.8L656.1,479.8L656.5,480.9L656.9,481.7L657.6,481.9L658.6,481.4L659.9,480.6L661.1,480.3L662.0,481.2L662.7,482.8L663.8,484.1L665.4,484.6L667.4,484.8L669.3,485.3L671.2,486.1L673.1,486.6L674.9,487.0L676.5,487.8L677.7,489.1L678.9,490.5L680.1,491.3L681.5,491.2L683.1,490.4L684.3,489.7L685.2,489.9L685.8,490.8L686.4,492.0L687.3,492.8" stroke="#fff" stroke-width="0.86" stroke-opacity="0.71"/><path d="M583.7,462.9L585.8,463.1L587.9,462.5L590.0,461.6L591.8,460.9L593.5,461.0L594.9,461.7L596.1,462.9L597.1,463.9L598.1,464.3L599.0,464.0L600.0,462.9L601.0,461.7L602.0,461.0L603.1,461.5L604.1,463.2L605.4,465.1L607.2,465.7L609.5,464.6L612.3,462.8L615.0,462.4L617.3,464.1L619.4,466.9L621.3,468.7L623.4,468.6L625.5,467.1L627.6,465.7L629.1,465.4L629.9,466.7L630.2,468.9L630.4,471.1L630.8,472.3L631.9,472.1L633.6,470.8L635.5,469.1L637.3,468.4L638.5,469.5L639.3,472.2L640.0,475.2L641.4,477.1L643.7,477.0L646.5,475.7L649.3,474.3L651.3,474.1L652.6,475.4L653.2,477.5L653.6,479.8L654.0,481.7L654.6,482.8L655.4,483.0L656.5,482.5L657.8,481.3L659.2,479.8L660.6,478.6L661.7,478.2L662.3,479.2L662.4,481.6L662.4,484.5L662.9,486.4L664.6,486.3L667.1,484.6L669.8,482.8L672.0,482.5L673.3,484.3L674.1,487.3L674.8,490.2L676.0,492.0L677.7,492.2L679.9,491.0L682.1,489.3L684.0,487.9L685.2,487.6L686.0,488.5L686.4,490.3L686.9,492.4L688.0,494.1L689.3,494.7L690.2,494.1L690.6,492.4L690.8,490.2L691.1,488.1L692.1,486.6L693.7,486.0L695.7,486.6L696.9,488.2L696.7,490.3L695.4,492.2L694.5,494.0L695.4,495.5L698.3,497.2" stroke="#fff" stroke-width="1.13" stroke-opacity="0.78"/><path d="M583.3,459.7L584.1,462.1L585.0,466.6L586.2,468.1L587.9,465.4L589.6,462.2L591.3,461.7L593.0,463.8L594.7,466.2L596.4,466.9L598.4,466.0L600.3,464.7L602.2,464.2L604.1,464.4L605.7,465.3L607.2,466.7L608.7,467.6L610.3,466.4L611.8,464.4L612.8,465.9L613.5,469.0L615.0,468.3L617.0,465.3L618.6,465.8L619.6,469.2L621.2,470.5L623.6,468.8L626.1,467.5L627.7,469.0L628.8,471.9L630.3,473.1L632.6,472.1L634.9,471.1L636.1,472.3L636.7,475.0L637.7,476.2L639.6,474.7L641.4,473.3L641.9,474.9L641.8,477.7L642.7,478.4L644.6,476.8L646.4,475.6L647.3,476.7L647.8,479.0L648.6,480.5L649.8,480.9L651.3,480.5L652.9,480.1L654.2,480.0L655.4,480.4L656.6,481.1L657.7,482.0L658.9,483.1L660.1,484.2L661.5,485.2L663.2,485.4L665.3,484.7L667.1,484.3L667.9,486.0L668.0,488.9L668.9,489.8L671.0,487.7L673.0,485.7L673.7,486.7L673.5,490.0L673.7,492.6L675.2,492.2L677.5,489.8L679.6,488.1L680.7,489.1L681.3,492.0L682.2,494.7L683.7,495.5L685.7,494.2L687.3,492.1L688.5,490.7L689.9,490.7L691.7,491.7L693.4,492.6L694.5,492.6L695.1,492.1L695.7,491.6L696.2,491.5L696.7,492.0L696.8,493.0L696.5,494.1L696.5,495.2L696.8,496.3L696.8,497.5L697.0,498.9L697.9,500.2L698.5,501.8L698.0,503.7L697.8,505.7L699.0,507.2L700.9,508.4L702.0,510.2L702.2,512.6L703.2,514.4L705.2,515.3L706.7,516.2L707.1,517.7L706.9,519.2" stroke="#fff" stroke-width="1.26" stroke-opacity="0.67"/><path d="M591.6,465.9L592.3,465.4L593.2,464.8L594.2,466.3L595.4,469.7L596.9,471.7L599.2,469.1L602.4,463.6L605.4,462.0L607.8,467.5L610.1,472.6L613.2,471.1L616.1,468.3L618.0,468.6L619.4,468.3L620.6,467.5L620.6,470.5L620.0,474.7L620.4,474.1L622.5,469.0L624.5,465.4L625.1,467.0L624.7,471.7L625.1,475.0L627.0,475.0L629.8,473.6L632.3,473.5L634.6,474.4L637.3,474.3L640.2,473.9L641.9,476.0L642.2,480.9L642.9,483.9L645.5,481.6L648.8,477.2L650.3,475.9L649.9,478.8L648.9,482.4L648.8,484.0L649.5,483.6L650.4,482.7L651.1,482.1L651.7,482.1L652.3,482.3L653.2,482.0L654.6,481.2L656.2,480.3L657.5,480.8L658.0,483.9L658.3,488.3L660.1,490.0L663.9,487.4L668.0,484.3L670.2,485.4L670.9,489.5L671.9,492.3L673.6,492.6L675.2,492.2L676.3,492.6L677.1,492.7L678.4,491.5L679.7,489.9L680.4,489.8L680.2,492.1L679.9,495.6L680.3,497.8L681.5,497.3L683.2,495.0L684.5,492.4L685.5,491.2L686.9,491.9L688.9,493.5L690.9,494.5L692.2,494.5L693.0,493.9L693.6,493.4L693.9,493.3L693.9,493.7L694.0,494.4L695.1,495.2L697.6,496.4L699.2,498.0L696.8,500.3L693.2,502.5L694.2,503.8L698.3,504.2L700.2,504.7L699.1,506.0L697.9,507.7L698.2,508.9L699.0,510.0L699.3,511.7" stroke="#fff" stroke-width="0.74" stroke-opacity="0.61"/><path d="M570.9,456.4L570.3,464.3L570.8,463.1L571.8,457.5L571.8,463.2L572.4,467.0L574.0,462.4L575.8,460.2L577.7,461.0L580.0,458.7L582.4,460.9L584.6,467.9L587.4,466.4L590.3,459.7L592.6,461.7L594.4,466.8L596.4,464.2L598.1,459.8L599.3,461.0L600.1,463.8L600.8,463.5L601.3,464.9L601.3,468.7L602.0,465.8L603.3,458.5L603.5,461.9L603.8,467.2L606.0,462.1L607.7,464.3L609.7,467.3L613.0,465.6L615.9,467.4L620.1,462.3L622.9,463.5L623.5,472.3L626.0,470.9L629.0,466.7L629.5,469.7L630.0,471.5L631.8,469.0L632.4,469.2L632.4,470.7L633.6,468.7L634.0,469.1L632.3,475.2L632.9,476.0L636.9,469.5L638.7,469.3L638.6,474.2L641.1,473.9L643.6,474.1L644.9,477.3L647.6,477.3L650.1,477.3L650.8,481.0L652.0,482.7L654.9,479.5L657.8,475.8L658.9,475.9L658.4,479.6L657.7,483.6L658.1,484.7L659.4,483.1L660.5,481.9L660.6,483.2L661.1,483.6L662.6,481.6L662.9,482.7" stroke="#fff" stroke-width="0.73" stroke-opacity="0.70"/><path d="M617.7,470.0L619.8,468.6L620.1,473.8L620.8,473.8L622.4,469.1L622.6,470.2L621.5,475.3L621.6,476.2L623.5,472.8L625.4,470.4L626.7,470.4L627.9,471.6L628.7,474.5L629.2,479.0L631.0,480.6L635.4,476.3L639.8,472.4L641.0,476.1L640.9,482.5L642.8,483.3L645.9,480.9L647.5,481.0L648.2,482.4L649.1,482.5L649.8,482.6L650.1,483.3L650.5,483.5L651.4,482.6L652.2,481.6L652.6,481.8L652.4,483.8L651.8,486.8L651.9,488.5L653.5,486.9L656.5,482.7L659.1,480.4L659.7,483.7L659.7,489.1L661.4,491.0L664.5,490.3L667.6,489.4L670.8,488.3L672.9,488.9L673.3,492.9L673.8,496.1L675.6,495.0L678.0,492.0L679.0,491.9L678.7,494.7L678.8,496.6L680.0,495.4L681.4,493.1L682.3,492.6L682.7,494.1L683.5,496.1L685.1,497.4L686.9,497.9L688.6,497.8L689.8,496.9L690.4,494.5L690.8,491.5L691.9,489.9L693.2,490.6L693.2,493.0L691.3,495.2" stroke="#fff" stroke-width="0.73" stroke-opacity="0.79"/><path d="M597.7,465.0L600.0,464.9L602.6,459.1L605.2,453.6L606.9,456.7L607.4,466.1L608.5,468.1L610.6,459.5L611.8,456.6L611.4,462.9L611.8,464.3L613.0,461.8L614.1,462.8L615.8,462.2L618.2,460.7L619.9,463.8L621.7,466.9L624.9,465.0L628.4,462.9L630.2,465.5L631.1,469.8L633.4,469.7L636.9,466.3L638.8,466.1L638.2,471.3L637.9,475.2L640.2,472.0L643.1,466.9L643.3,468.2L641.6,473.5L641.6,475.1L643.4,473.0L644.9,471.9L646.2,471.9L647.8,471.6L649.1,472.5L649.5,475.8L649.7,479.6L650.9,481.0L653.2,479.2L656.3,475.6L659.2,472.7L660.9,472.8L661.1,476.8L660.5,482.8L660.9,486.3L663.7,484.0L667.4,479.3L669.1,479.0L668.7,482.9L668.9,485.0L670.0,484.5L670.6,484.7L671.2,485.0L672.6,483.4" stroke="#fff" stroke-width="0.53" stroke-opacity="0.72"/><path d="M592.5,461.3L593.0,460.3L593.2,462.9L593.3,466.8L593.5,469.4L594.0,469.4L594.8,467.1L595.9,464.5L597.3,463.0L598.9,463.1L600.9,464.1L603.3,465.4L605.9,467.5L608.7,470.1L611.9,470.1L615.6,465.9L618.8,462.3L620.5,465.3L620.6,472.7L620.9,476.2L622.4,472.1L624.6,465.6L626.1,462.8L625.8,465.7L624.5,471.4L623.9,475.1L625.1,474.8L627.8,471.7L630.6,469.0L632.6,469.1L633.9,471.8L635.3,474.7L637.7,475.8L640.5,475.7L643.0,476.3L644.6,478.5L646.0,480.3L647.9,480.2L650.1,478.6L651.7,477.5L652.2,478.2L652.0,480.3L651.7,482.4L651.7,483.6L652.0,483.7L652.8,482.9L653.7,481.8L654.7,480.7L655.6,480.2L656.3,480.5L657.0,481.6L658.0,482.7L659.5,483.4L661.3,484.3L663.0,486.1L664.7,488.3L667.2,489.0L670.5,487.5L673.9,485.6L675.8,486.1L676.3,489.6L676.1,494.1L676.4,496.7L677.8,495.8L680.2,492.1L682.3,488.3L683.4,486.9L683.4,488.6L682.9,492.3L682.8,496.1L683.7,498.3L685.4,498.1L686.6,495.8L687.1,492.8" stroke="#fff" stroke-width="0.47" stroke-opacity="0.51"/><path d="M586.7,457.1L588.7,462.3L590.4,468.1L592.0,469.3L593.6,464.9L595.0,458.9L595.8,456.5L596.2,459.2L596.3,464.8L596.4,469.1L596.7,468.9L597.4,464.4L598.5,459.2L599.7,457.7L600.6,461.5L601.7,467.1L603.8,468.5L607.2,464.6L610.8,461.1L614.0,462.7L616.5,467.0L619.1,469.0L621.7,468.0L624.0,466.3L625.6,465.7L626.5,466.4L626.8,468.0L626.7,470.0L626.8,471.1L627.5,470.5L628.9,468.4L630.6,466.3L631.7,466.4L631.9,469.3L631.9,473.5L633.1,475.7L636.3,473.9L640.5,470.2L643.8,469.3L644.9,473.4L644.9,479.6L646.0,482.6L649.1,480.5L652.8,476.1L655.2,473.6L655.7,474.9L655.0,478.6L654.1,482.6L653.6,485.2L653.9,485.6L655.0,483.9L656.6,480.8L658.4,477.6L659.6,475.9L659.8,477.2L659.1,481.2L658.5,485.4L659.6,486.5L662.6,484.0L666.0,481.3L668.4,481.6L669.6,485.0L670.7,488.7L672.5,490.4L675.0,490.0L677.5,488.9L679.7,488.2L681.2,488.5L682.1,489.6L682.6,491.2L683.1,492.7L683.6,493.6L684.3,493.7" stroke="#fff" stroke-width="0.64" stroke-opacity="0.70"/><path d="M581.5,459.9L582.8,462.4L584.5,464.9L585.7,463.1L586.8,460.5L588.6,461.4L590.5,462.7L591.8,460.6L593.2,458.1L594.9,459.6L595.9,463.2L596.8,463.9L598.8,461.7L600.4,461.5L600.9,463.9L602.4,463.6L604.7,461.9L604.0,464.6L602.0,468.2L603.0,467.4L605.1,465.6L605.0,466.0L604.2,466.8L606.4,466.0L608.4,465.8L605.4,467.8L602.3,469.5L604.8,469.7L607.9,470.3L607.6,471.5L607.5,472.5L609.5,474.1L610.5,476.1L607.1,476.0L602.5,474.2L602.3,476.0L603.3,479.8L601.6,480.3L600.7,481.4L600.6,484.0L599.1,482.6L598.1,477.8L599.0,474.9L599.4,476.6L598.4,479.6L597.9,480.0L597.8,479.5L596.0,481.1L595.2,481.0L597.7,476.2L598.8,473.1L595.7,475.0L592.7,476.5L591.4,475.0L588.1,475.5L586.8,473.1L589.5,466.3L587.2,465.7L582.8,467.4L581.8,466.3L581.9,465.4L581.7,465.4L581.7,465.1L582.5,464.7L585.1,466.5L588.0,470.8L588.9,473.0L587.8,469.9L587.3,466.5L587.7,466.7L588.1,465.6L588.8,464.1L588.5,468.8L588.0,473.4L591.2,468.1L593.6,467.6L596.9,466.8L598.0,471.9L598.7,477.2L604.6,472.8L606.9,474.3L609.7,474.0L609.3,477.8L606.7,483.4L610.7,480.1L613.1,478.8L613.4,479.5L614.9,479.1L611.2,482.8L608.6,484.7L612.3,482.8L616.4,481.8L617.2,482.3L617.0,483.0L618.0,484.8L617.0,486.1L611.8,484.4L609.0,484.4L610.9,488.6L612.1,492.2L610.9,493.2" stroke="#fff" stroke-width="0.70" stroke-opacity="0.77"/><path d="M566.1,464.6L567.8,465.0L569.4,464.8L570.6,463.5L571.3,460.8L572.0,457.9L573.0,456.5L574.4,457.6L575.8,460.8L576.9,464.3L577.6,465.7L578.0,463.7L578.4,459.6L578.8,456.6L579.5,456.6L580.5,459.0L581.6,461.8L582.8,463.1L584.2,462.8L585.5,461.6L586.9,460.3L588.3,459.2L589.9,458.0L591.5,457.0L593.3,456.6L595.1,457.5L596.5,459.8L597.3,462.4L598.2,463.9L599.9,463.1L602.5,460.6L605.1,458.6L606.2,459.4L605.2,462.7L603.4,466.1L602.7,467.4L603.8,466.5L605.9,465.0L608.0,464.2L608.9,464.5L608.4,465.7L607.7,466.9L607.5,468.1L607.6,469.2L607.5,470.4L607.5,471.6L608.0,472.7L609.1,474.1L610.3,476.2L610.5,478.6L608.7,480.0L605.2,479.4L601.8,478.1L600.4,478.7L600.7,481.5L600.9,484.6L600.1,485.7L598.9,484.4L598.4,482.0L598.7,479.8L598.9,478.9L598.4,479.4L597.3,480.5L596.3,480.9L595.8,480.4L595.2,479.6L594.2,479.1L592.9,478.6L591.9,477.3L591.4,474.8L590.2,472.7L587.1,472.5L583.4,472.8L581.7,471.0L582.1,467.8L583.1,465.3L583.7,464.6L584.2,465.3L584.1,466.1L583.6,465.7L583.6,464.7L584.3,464.4" stroke="#fff" stroke-width="0.47" stroke-opacity="0.68"/><path d="M597.5,457.2L598.8,458.6L600.4,458.5L602.3,457.6L603.9,457.7L604.5,459.4L604.4,461.5L605.0,462.2L606.6,461.2L608.4,460.3L609.1,460.8L608.2,462.5L606.6,464.4L606.1,465.4L608.1,465.4L611.6,465.3L614.0,466.3L613.5,468.3L611.0,470.5L608.9,472.1L608.8,473.5L610.2,475.2L611.9,477.9L612.3,480.9L610.5,482.4L607.1,482.1L603.9,481.4L602.4,482.0L602.1,484.0L601.8,486.0L600.8,487.0L599.5,486.5L598.6,485.2L598.2,483.7L598.0,482.6L597.7,482.2L596.8,482.5L595.4,483.2L593.9,483.6L592.8,483.1L592.4,481.5L592.1,479.4L591.4,477.6L589.3,476.7L586.1,476.7L583.3,475.8L582.1,473.2L581.6,470.2L580.6,468.5L579.2,467.6L578.4,466.6L578.6,465.3L579.9,464.3L581.3,463.8L582.6,463.8L583.6,464.0L584.4,463.8L585.1,463.4L585.8,463.2L586.6,463.8L587.3,464.5L588.1,464.1L589.5,462.3L591.5,461.1L592.9,463.7L594.0,467.8L597.8,466.7" stroke="#fff" stroke-width="0.66" stroke-opacity="0.64"/><path d="M569.0,464.1L569.1,460.7L569.0,456.6L569.8,455.6L571.7,458.9L573.5,463.5L574.2,465.1L574.2,462.4L574.2,457.9L574.7,455.9L575.5,457.9L576.5,460.7L577.4,461.1L578.5,460.0L579.8,459.9L581.4,460.7L583.0,460.0L584.4,457.6L585.9,455.7L588.0,456.9L590.6,460.3L592.8,462.5L594.1,460.8L595.3,456.6L597.0,453.7L598.7,454.8L599.3,458.8L599.4,462.2L600.3,462.2L602.2,460.0L603.5,459.3L603.4,461.0L603.2,462.3L604.3,461.7L605.7,461.0L605.6,462.2L604.3,464.0L604.1,464.8L606.7,464.5L610.2,464.3L610.8,465.9L608.3,468.5L606.6,470.6L608.7,471.9L611.9,473.6L612.7,475.6L610.5,476.9L607.3,477.0L605.6,477.5L606.5,480.1L607.0,483.0L604.8,482.8L601.9,480.8L601.1,481.0L601.6,483.3L601.4,484.7L600.7,483.8L600.4,482.1L600.4,481.5L599.6,482.7L598.1,484.1L597.6,483.3L598.2,480.5L597.8,479.0L594.8,480.4L591.3,482.1L590.3,480.5L591.4,475.6L591.2,472.0L586.7,473.5L582.4,474.7L582.1,471.4L582.6,468.0L581.4,467.2L580.2,466.8L580.6,466.0L582.0,465.7L583.2,466.4L583.2,466.7L582.6,465.6L582.0,463.6L582.5,462.9L584.2,465.6L585.5,469.6L585.7,469.5L586.2,464.2L587.9,459.8L589.3,461.9L589.6,468.0L592.0,468.4L596.2,465.6" stroke="#fff" stroke-width="0.85" stroke-opacity="0.67"/><path d="M579.5,457.7L580.2,458.3L580.7,455.7L581.3,452.9L582.0,452.1L582.9,453.1L584.1,453.8L585.2,452.9L586.4,451.1L588.1,450.5L590.4,452.3L592.6,455.4L594.5,457.5L596.3,456.7L598.9,453.6L602.3,450.3L605.0,449.8L605.9,453.0L605.8,457.4L606.3,459.6L608.0,459.4L609.6,459.2L610.0,460.4L609.7,462.0L610.2,462.7L612.5,462.2L615.9,461.5L617.5,462.2L615.5,464.5L611.6,467.1L609.8,468.7L611.8,469.8L615.6,471.4L618.2,473.9L618.3,476.8L616.4,478.9L614.0,480.5L612.4,482.4L611.0,484.7L608.5,485.8L605.1,485.0L602.5,484.5L601.6,486.2L601.0,489.6L599.3,492.2L596.8,492.5L595.0,490.6L594.6,487.3L594.9,484.5L594.7,483.4L593.7,483.7L592.3,484.2L591.2,484.2L590.0,484.1L588.6,484.2L586.8,484.2L585.6,482.7L585.4,479.3L585.1,475.7L583.0,474.1L579.4,474.1L575.9,473.9L573.6,472.3L572.7,469.5L573.4,465.7L576.0,462.7L578.9,461.7L581.4,461.8L583.4,462.2L584.8,462.3L585.7,461.6L586.5,460.2L587.4,458.8L588.7,457.9L590.1,457.5L591.5,457.9L592.4,459.8L593.1,463.0L594.9,464.1L599.3,461.0L603.3,460.0L604.9,464.6L606.7,468.3L609.7,469.2" stroke="#fff" stroke-width="0.53" stroke-opacity="0.82"/><path d="M588.0,457.5L588.9,459.3L589.2,457.6L589.2,453.8L590.0,453.4L591.2,456.9L592.1,458.6L593.2,456.1L594.9,454.2L595.8,456.7L596.4,459.4L599.6,456.7L603.3,454.3L603.5,458.5L603.2,462.8L606.4,461.9L609.2,461.7L608.3,465.1L607.7,467.4L611.0,466.7L614.6,466.4L612.5,468.9L609.2,471.3L610.8,471.5L612.9,471.8L611.2,472.7L610.0,473.3L612.2,474.0L614.5,475.6L614.0,476.6L611.3,476.2L609.9,476.4L609.9,478.3L609.0,479.8L607.5,481.0L606.4,483.1L604.8,484.7L602.8,485.3L600.7,485.0L599.0,483.7L597.8,482.1L596.4,481.6L594.2,482.4L592.2,482.5L591.6,480.5L591.0,479.3L589.1,479.9L588.9,478.7L590.4,475.5L589.6,475.5L586.1,478.8L586.4,477.1L587.0,474.7L583.6,476.7L584.3,473.7L585.9,470.3L582.2,471.6L577.6,472.1L576.0,469.9L577.5,467.7L580.1,467.6L581.6,467.4L581.7,464.6L582.7,461.8L585.7,464.1L588.2,467.1L589.5,463.7L591.3,460.0L592.9,463.0L593.8,465.7L595.8,463.4L596.0,466.5L596.7,467.2L599.3,463.9L599.3,466.8L601.0,467.1L602.1,469.1L604.3,469.9L607.4,469.7L610.0,470.7L611.3,473.8L612.4,476.8L615.5,477.4L616.8,479.5L618.3,480.9L621.4,480.6L620.3,483.0L617.2,485.5L617.8,485.7L620.5,486.1L620.6,487.1L617.8,486.7" stroke="#fff" stroke-width="0.53" stroke-opacity="0.56"/><path d="M602.9,460.2L605.1,460.8L607.1,461.6L608.0,463.4L608.0,465.7L607.9,467.4L608.7,468.1L611.1,468.1L614.0,468.0L615.6,468.7L614.4,470.2L611.1,471.7L608.1,472.6L607.0,472.8L608.2,473.0L610.7,473.9L613.2,475.9L614.5,478.3L613.9,479.9L611.7,480.3L608.9,480.0L606.4,479.8L604.4,480.3L602.9,481.4L601.7,482.9L600.2,484.4L598.5,485.4L596.4,485.8L594.5,485.2L593.2,483.7L592.7,481.5L592.5,479.4L592.1,478.0L591.3,477.5L590.3,477.4L589.5,477.4L588.7,477.3L587.5,477.6L585.9,478.2" stroke="#fff" stroke-width="0.60" stroke-opacity="0.77"/><path d="M607.2,483.1L608.9,484.7L610.3,486.6L611.8,488.2L613.6,489.3L615.4,490.0L617.4,490.3L619.2,490.2L620.9,490.2L622.1,490.8L622.9,492.1L623.5,493.7L624.3,494.7L625.5,494.3L626.8,492.9L628.0,491.6L629.0,491.5L629.8,493.0L630.8,495.3L632.1,496.9L633.6,496.6L635.4,494.7L637.3,492.6L639.2,492.2L641.1,494.0L643.1,496.7L645.1,497.6L647.0,496.0L648.7,493.3L650.4,492.1L652.0,493.5L653.4,496.1L654.6,497.3L656.0,496.2L657.5,494.0" stroke="#fff" stroke-width="0.60" stroke-opacity="0.58"/><path d="M612.4,493.2L612.5,495.8L614.1,495.1L616.4,493.0L617.8,493.5L618.3,496.5L619.5,498.5L621.8,497.5L624.2,495.7L626.0,496.3L627.4,498.9L629.1,500.5L631.1,499.5L633.1,497.5L634.8,497.4L636.2,499.4L637.6,500.8L639.1,499.8L640.6,497.9L641.8,498.2L643.1,500.0L644.3,500.2L645.4,498.5L646.7,497.9L648.0,499.3L649.4,499.9L651.0,498.6L652.7,497.8L654.5,499.1L656.5,500.1L659.0,498.8L661.3,498.6L663.3,500.7L665.3,501.0L667.3,499.5" stroke="#fff" stroke-width="0.65" stroke-opacity="0.62"/><path d="M608.9,484.8L609.4,486.4L611.8,484.0L613.3,483.3L612.6,487.3L612.4,490.4L614.9,488.5L617.8,485.6L618.9,487.0L619.3,490.6L620.7,492.0L622.8,491.6L624.8,491.5L626.6,491.6L628.3,491.5L629.9,491.9L631.2,493.3L632.5,494.4L633.9,494.2L635.2,493.2L636.4,492.9L637.5,492.8L638.6,492.9L639.6,494.0L640.6,495.8L641.8,495.1L643.0,491.7L644.4,491.3L646.1,495.1L647.9,496.5L649.8,493.4L651.8,491.8L653.8,493.8L655.9,494.8L658.3,493.6L660.4,495.1L662.4,496.3L664.7,493.7L666.5,493.5L667.4,496.8" stroke="#fff" stroke-width="0.67" stroke-opacity="0.91"/><path d="M600.1,482.3L601.3,482.8L602.5,483.6L603.5,485.3L604.7,487.2L606.5,488.2L608.8,488.2L611.2,488.0L613.3,488.4L614.9,489.7L616.3,491.5L617.6,493.1L619.1,494.3L620.7,494.7L622.3,494.5L623.9,493.9L625.2,493.4L626.3,493.5L627.1,494.4L627.8,495.7L628.6,496.8L629.7,497.2L630.9,496.7L632.2,495.8L633.6,495.3L635.2,495.3L636.8,495.8L638.6,496.3L640.5,496.5L642.5,496.8L644.6,497.2L646.6,497.4L648.6,496.9L650.4,495.6L652.1,494.5L653.7,495.0L655.0,496.8L656.2,498.4L657.6,498.3L659.2,496.5L660.7,495.5L662.1,496.4L663.5,497.8L665.0,498.3" stroke="#fff" stroke-width="0.94" stroke-opacity="0.53"/><path d="M601.1,484.2L603.3,485.4L607.5,483.2L609.4,484.6L609.4,488.9L611.1,489.6L613.5,488.1L614.7,488.8L615.0,491.0L616.2,491.0L618.0,489.5L618.8,490.2L619.0,492.6L620.0,493.1L621.7,491.8L623.0,492.1L623.8,494.5L625.1,495.7L627.1,493.9L629.1,492.0L630.6,493.0L632.1,495.7L633.8,496.9L635.7,495.8L637.6,495.2L639.3,496.1L640.9,495.8L642.5,493.6L643.9,493.3L645.3,496.5L646.6,498.6L647.7,496.3L648.9,493.6L650.2,494.2L651.4,495.2L652.9,494.9L654.4,495.7L656.0,497.9L658.2,496.7" stroke="#fff" stroke-width="0.76" stroke-opacity="0.81"/></g><g fill="#fff"><circle cx="590.9" cy="471.4" r="0.33" opacity="0.54"/><circle cx="702.6" cy="506.7" r="0.67" opacity="0.56"/><circle cx="696.6" cy="495.0" r="0.45" opacity="0.73"/><circle cx="705.6" cy="512.7" r="0.61" opacity="0.84"/><circle cx="667.0" cy="483.4" r="0.62" opacity="0.90"/><circle cx="692.4" cy="494.2" r="0.56" opacity="0.61"/><circle cx="602.9" cy="465.7" r="0.38" opacity="0.68"/><circle cx="581.7" cy="468.7" r="0.47" opacity="0.56"/><circle cx="639.0" cy="476.5" r="0.81" opacity="0.62"/><circle cx="632.8" cy="468.2" r="0.42" opacity="0.59"/><circle cx="629.1" cy="474.3" r="0.70" opacity="0.62"/><circle cx="660.5" cy="485.2" r="0.70" opacity="0.88"/><circle cx="590.5" cy="465.0" r="0.62" opacity="0.79"/><circle cx="659.1" cy="482.1" r="0.50" opacity="0.94"/><circle cx="671.5" cy="485.8" r="0.73" opacity="0.94"/><circle cx="711.2" cy="511.9" r="0.83" opacity="0.65"/><circle cx="663.5" cy="477.8" r="0.57" opacity="0.65"/><circle cx="647.7" cy="481.1" r="0.77" opacity="0.56"/><circle cx="679.1" cy="493.3" r="0.76" opacity="0.77"/><circle cx="693.0" cy="496.5" r="0.33" opacity="0.89"/><circle cx="644.9" cy="478.9" r="0.31" opacity="0.62"/><circle cx="648.3" cy="472.0" r="0.69" opacity="0.63"/><circle cx="691.9" cy="491.9" r="0.50" opacity="0.72"/><circle cx="674.0" cy="490.0" r="0.42" opacity="0.73"/><circle cx="648.2" cy="476.0" r="0.56" opacity="0.65"/><circle cx="619.1" cy="465.5" r="0.30" opacity="0.69"/><circle cx="626.9" cy="463.5" r="0.57" opacity="0.54"/><circle cx="698.5" cy="509.9" r="0.49" opacity="0.82"/><circle cx="703.4" cy="512.9" r="0.39" opacity="0.96"/><circle cx="604.5" cy="464.7" r="0.49" opacity="0.87"/><circle cx="569.7" cy="453.2" r="0.48" opacity="0.87"/><circle cx="647.2" cy="472.4" r="0.35" opacity="0.53"/><circle cx="700.5" cy="520.0" r="0.52" opacity="0.58"/><circle cx="696.0" cy="492.4" r="0.57" opacity="0.87"/><circle cx="588.4" cy="452.7" r="0.58" opacity="0.99"/><circle cx="679.2" cy="489.9" r="0.59" opacity="0.77"/><circle cx="650.5" cy="470.3" r="0.84" opacity="0.56"/><circle cx="587.7" cy="462.1" r="0.31" opacity="0.66"/><circle cx="703.4" cy="509.8" r="0.74" opacity="0.55"/><circle cx="703.8" cy="507.3" r="0.81" opacity="0.52"/><circle cx="704.7" cy="516.8" r="0.45" opacity="0.54"/><circle cx="665.4" cy="488.0" r="0.77" opacity="0.56"/><circle cx="620.8" cy="465.3" r="0.53" opacity="0.80"/><circle cx="659.5" cy="483.6" r="0.79" opacity="0.79"/><circle cx="682.5" cy="491.9" r="0.74" opacity="0.61"/><circle cx="656.5" cy="484.9" r="0.77" opacity="0.51"/><circle cx="692.8" cy="493.8" r="0.41" opacity="0.93"/><circle cx="594.5" cy="457.7" r="0.58" opacity="0.67"/><circle cx="702.8" cy="510.8" r="0.60" opacity="0.57"/><circle cx="588.7" cy="459.8" r="0.36" opacity="0.53"/><circle cx="704.0" cy="500.0" r="0.72" opacity="0.66"/><circle cx="602.9" cy="467.8" r="0.33" opacity="0.86"/><circle cx="694.6" cy="501.8" r="0.68" opacity="0.88"/><circle cx="621.9" cy="457.3" r="0.43" opacity="0.71"/><circle cx="608.9" cy="457.4" r="0.81" opacity="0.78"/><circle cx="688.8" cy="497.3" r="0.45" opacity="0.94"/><circle cx="668.0" cy="487.0" r="0.68" opacity="0.51"/><circle cx="702.1" cy="504.6" r="0.79" opacity="0.71"/><circle cx="695.3" cy="504.9" r="0.37" opacity="0.78"/><circle cx="588.5" cy="467.4" r="0.66" opacity="0.58"/><circle cx="643.0" cy="484.2" r="0.59" opacity="0.78"/><circle cx="661.2" cy="485.7" r="0.71" opacity="0.52"/><circle cx="668.1" cy="474.1" r="0.70" opacity="0.86"/><circle cx="617.3" cy="468.1" r="0.52" opacity="0.84"/><circle cx="635.3" cy="472.7" r="0.78" opacity="0.52"/><circle cx="698.9" cy="509.1" r="0.84" opacity="0.96"/><circle cx="563.8" cy="455.7" r="0.57" opacity="0.96"/><circle cx="677.1" cy="493.1" r="0.60" opacity="0.90"/><circle cx="574.6" cy="460.8" r="0.39" opacity="0.99"/><circle cx="651.5" cy="484.1" r="0.34" opacity="0.87"/><circle cx="594.0" cy="463.4" r="0.73" opacity="0.80"/><circle cx="583.1" cy="456.5" r="0.80" opacity="0.79"/><circle cx="653.7" cy="478.2" r="0.35" opacity="0.95"/><circle cx="684.1" cy="486.4" r="0.80" opacity="0.84"/><circle cx="616.7" cy="468.1" r="0.30" opacity="0.81"/><circle cx="661.4" cy="474.2" r="0.38" opacity="0.56"/><circle cx="581.1" cy="460.6" r="0.84" opacity="0.64"/><circle cx="667.5" cy="474.1" r="0.48" opacity="0.80"/><circle cx="650.6" cy="478.2" r="0.84" opacity="0.72"/><circle cx="617.6" cy="459.5" r="0.45" opacity="0.95"/><circle cx="557.0" cy="460.9" r="0.75" opacity="0.83"/><circle cx="645.1" cy="475.4" r="0.72" opacity="0.82"/><circle cx="573.3" cy="462.2" r="0.72" opacity="0.54"/><circle cx="598.0" cy="464.1" r="0.47" opacity="0.99"/><circle cx="605.2" cy="462.8" r="0.64" opacity="0.66"/><circle cx="564.1" cy="465.8" r="0.66" opacity="0.85"/><circle cx="597.4" cy="462.4" r="0.59" opacity="0.95"/><circle cx="686.0" cy="492.2" r="0.58" opacity="0.63"/><circle cx="694.0" cy="502.5" r="0.47" opacity="0.80"/><circle cx="697.4" cy="496.7" r="0.55" opacity="0.72"/><circle cx="700.2" cy="502.6" r="0.52" opacity="0.65"/><circle cx="632.0" cy="468.5" r="0.67" opacity="0.56"/><circle cx="659.4" cy="488.6" r="0.73" opacity="0.51"/><circle cx="689.9" cy="487.9" r="0.75" opacity="0.65"/><circle cx="573.1" cy="460.1" r="0.63" opacity="0.61"/><circle cx="691.4" cy="499.0" r="0.39" opacity="0.55"/><circle cx="561.8" cy="456.7" r="0.31" opacity="0.66"/><circle cx="695.8" cy="489.9" r="0.55" opacity="0.58"/><circle cx="697.9" cy="500.1" r="0.77" opacity="0.87"/><circle cx="604.0" cy="465.0" r="0.48" opacity="0.81"/><circle cx="633.9" cy="471.3" r="0.76" opacity="0.57"/><circle cx="588.8" cy="466.1" r="0.41" opacity="0.97"/><circle cx="679.7" cy="494.2" r="0.44" opacity="0.80"/><circle cx="609.2" cy="460.2" r="0.40" opacity="0.96"/><circle cx="708.0" cy="503.2" r="0.60" opacity="0.97"/><circle cx="567.3" cy="454.4" r="0.61" opacity="0.55"/><circle cx="591.9" cy="462.1" r="0.54" opacity="0.58"/><circle cx="694.6" cy="499.6" r="0.30" opacity="0.86"/><circle cx="565.6" cy="460.3" r="0.32" opacity="0.88"/><circle cx="638.6" cy="475.1" r="0.30" opacity="0.82"/><circle cx="692.7" cy="501.7" r="0.37" opacity="0.87"/><circle cx="660.6" cy="480.8" r="0.52" opacity="0.62"/><circle cx="681.1" cy="489.4" r="0.56" opacity="0.66"/><circle cx="708.7" cy="516.9" r="0.72" opacity="0.92"/><circle cx="585.6" cy="466.5" r="0.53" opacity="0.78"/><circle cx="700.9" cy="487.7" r="0.48" opacity="0.56"/><circle cx="636.7" cy="468.8" r="0.81" opacity="0.97"/><circle cx="634.8" cy="468.3" r="0.67" opacity="0.68"/><circle cx="689.5" cy="495.7" r="0.68" opacity="0.63"/><circle cx="687.4" cy="490.0" r="0.66" opacity="0.53"/><circle cx="643.4" cy="479.1" r="0.77" opacity="0.90"/><circle cx="697.8" cy="503.9" r="0.72" opacity="0.54"/><circle cx="577.9" cy="461.5" r="0.35" opacity="0.93"/><circle cx="704.9" cy="485.0" r="0.48" opacity="0.83"/><circle cx="559.3" cy="466.8" r="0.74" opacity="0.56"/><circle cx="691.5" cy="499.8" r="0.41" opacity="0.70"/><circle cx="627.1" cy="464.9" r="0.79" opacity="0.61"/><circle cx="702.5" cy="508.3" r="0.85" opacity="0.98"/><circle cx="652.8" cy="477.5" r="0.80" opacity="0.52"/><circle cx="643.2" cy="478.1" r="0.54" opacity="0.61"/><circle cx="621.3" cy="472.2" r="0.42" opacity="0.63"/><circle cx="619.2" cy="473.4" r="0.71" opacity="0.90"/><circle cx="650.5" cy="477.0" r="0.49" opacity="0.59"/><circle cx="648.4" cy="481.2" r="0.85" opacity="0.58"/><circle cx="568.4" cy="463.1" r="0.67" opacity="0.79"/><circle cx="605.8" cy="467.8" r="0.39" opacity="0.68"/><circle cx="680.1" cy="493.3" r="0.63" opacity="0.63"/><circle cx="605.9" cy="465.0" r="0.40" opacity="0.59"/><circle cx="697.8" cy="492.8" r="0.81" opacity="0.64"/><circle cx="565.0" cy="467.5" r="0.66" opacity="0.64"/><circle cx="674.3" cy="490.9" r="0.60" opacity="0.81"/><circle cx="586.1" cy="455.7" r="0.52" opacity="0.90"/><circle cx="661.5" cy="489.8" r="0.83" opacity="0.91"/><circle cx="640.9" cy="478.0" r="0.60" opacity="0.88"/><circle cx="682.3" cy="491.1" r="0.55" opacity="0.87"/><circle cx="683.2" cy="494.2" r="0.50" opacity="0.69"/><circle cx="614.0" cy="461.0" r="0.57" opacity="0.75"/><circle cx="664.3" cy="480.2" r="0.44" opacity="0.85"/><circle cx="699.7" cy="486.6" r="0.51" opacity="0.69"/><circle cx="594.6" cy="469.2" r="0.44" opacity="0.88"/><circle cx="693.9" cy="499.5" r="0.42" opacity="0.69"/><circle cx="637.7" cy="473.1" r="0.79" opacity="0.65"/><circle cx="680.8" cy="487.3" r="0.61" opacity="0.97"/><circle cx="613.6" cy="465.2" r="0.55" opacity="0.78"/><circle cx="685.4" cy="494.3" r="0.31" opacity="0.97"/><circle cx="695.4" cy="507.8" r="0.85" opacity="0.92"/><circle cx="708.4" cy="510.4" r="0.84" opacity="0.83"/><circle cx="684.1" cy="473.2" r="0.51" opacity="0.97"/><circle cx="576.1" cy="465.5" r="0.46" opacity="0.94"/><circle cx="595.8" cy="456.0" r="0.31" opacity="0.97"/><circle cx="661.0" cy="478.6" r="0.79" opacity="0.70"/><circle cx="673.8" cy="482.4" r="0.60" opacity="0.77"/><circle cx="688.7" cy="497.3" r="0.74" opacity="0.62"/><circle cx="586.9" cy="460.9" r="0.42" opacity="0.65"/><circle cx="561.9" cy="457.2" r="0.35" opacity="0.80"/><circle cx="599.3" cy="460.5" r="0.47" opacity="0.88"/><circle cx="631.7" cy="463.3" r="0.79" opacity="0.79"/><circle cx="663.1" cy="485.7" r="0.35" opacity="0.52"/><circle cx="693.6" cy="492.9" r="0.81" opacity="0.60"/><circle cx="706.7" cy="518.2" r="0.82" opacity="0.78"/></g><g fill="#fff"><circle cx="584.7" cy="453.3" r="0.47" opacity="0.99"/><circle cx="593.7" cy="468.2" r="0.38" opacity="0.69"/><circle cx="589.0" cy="477.2" r="0.69" opacity="0.71"/><circle cx="610.9" cy="469.1" r="0.46" opacity="0.75"/><circle cx="607.8" cy="455.0" r="0.37" opacity="0.81"/><circle cx="619.6" cy="474.4" r="0.73" opacity="0.73"/><circle cx="582.4" cy="480.6" r="0.71" opacity="0.46"/><circle cx="587.6" cy="466.6" r="0.63" opacity="0.71"/><circle cx="577.3" cy="454.3" r="0.31" opacity="0.79"/><circle cx="592.6" cy="483.8" r="0.36" opacity="0.89"/><circle cx="616.1" cy="490.8" r="0.78" opacity="0.99"/><circle cx="620.5" cy="488.3" r="0.77" opacity="0.84"/><circle cx="606.7" cy="472.9" r="0.74" opacity="0.47"/><circle cx="591.8" cy="462.9" r="0.41" opacity="0.88"/><circle cx="580.9" cy="470.1" r="0.75" opacity="0.55"/><circle cx="610.8" cy="466.3" r="0.68" opacity="0.45"/><circle cx="561.6" cy="452.6" r="0.61" opacity="0.93"/><circle cx="577.3" cy="469.9" r="0.52" opacity="0.95"/><circle cx="548.7" cy="452.2" r="0.52" opacity="0.91"/><circle cx="599.7" cy="460.2" r="0.57" opacity="0.74"/><circle cx="588.8" cy="474.1" r="0.42" opacity="0.50"/><circle cx="589.0" cy="462.6" r="0.75" opacity="0.46"/><circle cx="617.2" cy="480.1" r="0.41" opacity="0.56"/><circle cx="573.2" cy="454.0" r="0.79" opacity="0.64"/><circle cx="605.8" cy="484.8" r="0.64" opacity="0.68"/><circle cx="601.2" cy="446.9" r="0.74" opacity="0.53"/><circle cx="585.3" cy="461.6" r="0.78" opacity="0.43"/><circle cx="589.2" cy="476.1" r="0.55" opacity="0.76"/><circle cx="624.1" cy="472.3" r="0.45" opacity="0.70"/><circle cx="582.2" cy="450.6" r="0.51" opacity="0.91"/><circle cx="570.1" cy="467.0" r="0.64" opacity="0.53"/><circle cx="624.4" cy="486.4" r="0.48" opacity="0.75"/><circle cx="599.1" cy="472.7" r="0.62" opacity="0.70"/><circle cx="617.7" cy="473.2" r="0.49" opacity="0.69"/><circle cx="588.4" cy="454.7" r="0.74" opacity="1.00"/><circle cx="596.2" cy="481.4" r="0.82" opacity="0.84"/><circle cx="609.1" cy="468.3" r="0.76" opacity="0.66"/><circle cx="585.2" cy="450.7" r="0.44" opacity="0.64"/><circle cx="555.9" cy="462.0" r="0.48" opacity="0.45"/><circle cx="586.7" cy="442.6" r="0.48" opacity="0.45"/><circle cx="613.6" cy="473.3" r="0.44" opacity="0.60"/><circle cx="614.0" cy="463.9" r="0.55" opacity="0.97"/><circle cx="578.6" cy="474.6" r="0.72" opacity="0.64"/><circle cx="596.3" cy="464.4" r="0.63" opacity="0.75"/><circle cx="608.5" cy="472.7" r="0.42" opacity="0.53"/><circle cx="601.9" cy="467.6" r="0.48" opacity="0.73"/><circle cx="617.0" cy="469.8" r="0.73" opacity="0.56"/><circle cx="630.5" cy="479.6" r="0.39" opacity="0.91"/><circle cx="577.5" cy="457.6" r="0.45" opacity="0.85"/><circle cx="591.1" cy="462.4" r="0.62" opacity="0.41"/><circle cx="577.9" cy="456.1" r="0.70" opacity="0.52"/><circle cx="576.4" cy="452.4" r="0.85" opacity="0.82"/><circle cx="577.1" cy="474.0" r="0.84" opacity="0.74"/><circle cx="591.1" cy="468.7" r="0.80" opacity="0.67"/><circle cx="600.6" cy="466.2" r="0.39" opacity="0.79"/><circle cx="605.1" cy="477.6" r="0.57" opacity="0.55"/><circle cx="627.3" cy="487.2" r="0.41" opacity="0.75"/><circle cx="594.1" cy="456.6" r="0.34" opacity="0.67"/><circle cx="608.3" cy="469.3" r="0.50" opacity="0.64"/><circle cx="571.8" cy="458.2" r="0.79" opacity="0.66"/><circle cx="571.8" cy="458.2" r="0.52" opacity="0.41"/><circle cx="611.5" cy="482.5" r="0.71" opacity="0.78"/><circle cx="586.6" cy="470.3" r="0.66" opacity="0.92"/><circle cx="592.1" cy="463.8" r="0.60" opacity="0.90"/><circle cx="614.7" cy="476.7" r="0.67" opacity="0.62"/><circle cx="591.0" cy="451.1" r="0.33" opacity="0.46"/><circle cx="601.1" cy="486.9" r="0.37" opacity="0.92"/><circle cx="577.6" cy="453.9" r="0.44" opacity="0.96"/><circle cx="603.3" cy="484.5" r="0.36" opacity="0.55"/><circle cx="610.2" cy="474.0" r="0.54" opacity="0.63"/><circle cx="570.5" cy="473.3" r="0.73" opacity="0.62"/><circle cx="577.9" cy="466.1" r="0.53" opacity="0.99"/><circle cx="592.5" cy="458.0" r="0.72" opacity="0.59"/><circle cx="558.5" cy="456.4" r="0.34" opacity="0.42"/><circle cx="591.4" cy="458.3" r="0.41" opacity="0.92"/><circle cx="616.6" cy="461.6" r="0.31" opacity="0.41"/><circle cx="600.1" cy="460.1" r="0.56" opacity="0.67"/><circle cx="566.8" cy="469.9" r="0.76" opacity="0.71"/><circle cx="570.7" cy="450.7" r="0.65" opacity="0.99"/><circle cx="609.4" cy="485.8" r="0.43" opacity="0.88"/><circle cx="584.9" cy="465.5" r="0.69" opacity="0.56"/><circle cx="597.5" cy="482.3" r="0.77" opacity="0.44"/><circle cx="572.4" cy="458.3" r="0.69" opacity="0.74"/><circle cx="597.8" cy="469.6" r="0.85" opacity="0.71"/><circle cx="563.9" cy="445.5" r="0.53" opacity="0.76"/><circle cx="576.9" cy="446.2" r="0.53" opacity="0.73"/><circle cx="605.6" cy="466.3" r="0.73" opacity="0.52"/><circle cx="588.3" cy="452.3" r="0.45" opacity="0.58"/><circle cx="588.8" cy="484.2" r="0.42" opacity="0.93"/><circle cx="582.2" cy="472.7" r="0.38" opacity="0.95"/><circle cx="605.1" cy="453.5" r="0.76" opacity="0.67"/><circle cx="600.7" cy="470.0" r="0.77" opacity="0.65"/><circle cx="601.7" cy="471.8" r="0.40" opacity="0.85"/><circle cx="595.8" cy="459.1" r="0.78" opacity="0.48"/><circle cx="556.4" cy="452.9" r="0.45" opacity="0.97"/><circle cx="594.6" cy="454.8" r="0.50" opacity="0.62"/><circle cx="574.2" cy="463.8" r="0.66" opacity="0.78"/><circle cx="580.9" cy="474.5" r="0.42" opacity="0.89"/><circle cx="558.1" cy="460.1" r="0.44" opacity="0.41"/><circle cx="601.7" cy="490.9" r="0.80" opacity="0.85"/><circle cx="608.9" cy="478.6" r="0.79" opacity="0.69"/><circle cx="570.9" cy="458.9" r="0.50" opacity="0.84"/><circle cx="614.8" cy="487.0" r="0.41" opacity="0.71"/><circle cx="561.3" cy="467.4" r="0.69" opacity="0.51"/><circle cx="599.4" cy="451.1" r="0.73" opacity="0.84"/><circle cx="598.3" cy="478.7" r="0.84" opacity="0.48"/><circle cx="585.7" cy="465.8" r="0.39" opacity="0.59"/><circle cx="579.5" cy="466.8" r="0.32" opacity="0.90"/><circle cx="584.0" cy="475.3" r="0.74" opacity="0.60"/><circle cx="578.2" cy="469.1" r="0.74" opacity="0.52"/></g><g fill="none" stroke-linecap="round" stroke-linejoin="round"><path d="M696.3,492.9L696.4,493.5L696.6,494.3L696.7,495.0L697.0,495.8L697.2,496.6L697.6,497.4L697.9,498.1L698.3,498.8L698.6,499.5L698.9,500.3L699.2,501.1L699.5,501.9L700.0,502.8L700.6,503.6L701.2,504.4L701.8,505.3L702.0,506.4L702.1,507.5L702.1,508.9L702.2,510.3L702.7,511.6L703.8,512.7L705.2,513.6L706.6,514.5" stroke="#fff" stroke-width="0.74" stroke-opacity="0.77"/><path d="M698.4,494.7L697.8,495.8L697.1,497.0L696.7,498.1L696.7,499.0L697.4,499.8L698.6,500.5L699.9,501.2L701.0,502.1L701.6,503.2" stroke="#fff" stroke-width="0.59" stroke-opacity="0.66"/><path d="M697.9,498.3L697.9,499.4L698.8,500.0L700.3,500.5L701.5,501.0L701.9,502.0L701.8,503.0L702.0,504.0L702.5,504.8L702.8,505.7" stroke="#fff" stroke-width="0.85" stroke-opacity="0.65"/><path d="M696.4,490.5L696.4,491.1L696.3,491.9L696.3,492.8L696.4,493.7L696.8,494.6L697.5,495.4L698.3,496.3L699.0,497.2L699.4,498.2L699.5,499.3L699.5,500.5L699.8,501.6L700.5,502.6L701.5,503.4L702.3,504.3L702.4,505.4L702.0,506.7L701.7,508.0L702.0,509.0L703.1,509.6L704.8,509.9L706.0,510.5L705.9,511.8L705.1,513.5" stroke="#fff" stroke-width="0.61" stroke-opacity="0.95"/></g><g fill="#fff"><circle cx="661.6" cy="507.3" r="0.74" opacity="0.50"/><circle cx="608.7" cy="474.1" r="0.54" opacity="0.34"/><circle cx="707.5" cy="515.1" r="0.41" opacity="0.78"/><circle cx="654.4" cy="481.5" r="0.71" opacity="0.55"/><circle cx="623.3" cy="494.0" r="0.58" opacity="0.35"/><circle cx="617.9" cy="476.9" r="0.47" opacity="0.61"/><circle cx="641.1" cy="492.2" r="0.65" opacity="0.56"/><circle cx="671.2" cy="497.5" r="0.65" opacity="0.67"/><circle cx="641.9" cy="498.6" r="0.54" opacity="0.86"/><circle cx="658.6" cy="500.4" r="0.68" opacity="0.90"/><circle cx="654.2" cy="492.6" r="0.64" opacity="0.74"/><circle cx="652.9" cy="496.9" r="0.37" opacity="0.43"/><circle cx="647.2" cy="488.6" r="0.32" opacity="0.40"/><circle cx="659.6" cy="500.3" r="0.72" opacity="0.83"/><circle cx="644.5" cy="505.6" r="0.70" opacity="0.76"/><circle cx="632.1" cy="488.3" r="0.49" opacity="0.31"/><circle cx="683.5" cy="507.3" r="0.53" opacity="0.86"/><circle cx="651.6" cy="492.5" r="0.41" opacity="0.33"/><circle cx="634.9" cy="482.1" r="0.46" opacity="0.63"/><circle cx="641.6" cy="498.5" r="0.68" opacity="0.89"/><circle cx="665.2" cy="515.2" r="0.73" opacity="0.70"/><circle cx="664.6" cy="499.4" r="0.69" opacity="0.51"/><circle cx="640.9" cy="499.4" r="0.66" opacity="0.56"/><circle cx="643.4" cy="485.0" r="0.72" opacity="0.79"/><circle cx="610.8" cy="484.5" r="0.32" opacity="0.86"/><circle cx="628.6" cy="491.6" r="0.73" opacity="0.41"/><circle cx="660.3" cy="501.5" r="0.36" opacity="0.55"/><circle cx="632.9" cy="480.1" r="0.63" opacity="0.63"/><circle cx="664.2" cy="509.5" r="0.36" opacity="0.76"/><circle cx="628.9" cy="490.7" r="0.31" opacity="0.60"/><circle cx="621.0" cy="493.6" r="0.66" opacity="0.74"/><circle cx="671.6" cy="499.0" r="0.67" opacity="0.46"/><circle cx="644.6" cy="494.3" r="0.48" opacity="0.74"/><circle cx="650.0" cy="489.3" r="0.52" opacity="0.50"/><circle cx="645.0" cy="498.2" r="0.35" opacity="0.83"/><circle cx="662.9" cy="505.0" r="0.71" opacity="0.62"/><circle cx="668.1" cy="508.0" r="0.45" opacity="0.73"/><circle cx="637.1" cy="496.3" r="0.41" opacity="0.85"/><circle cx="638.2" cy="491.3" r="0.65" opacity="0.67"/><circle cx="665.2" cy="510.2" r="0.55" opacity="0.73"/><circle cx="635.8" cy="496.0" r="0.67" opacity="0.40"/><circle cx="671.5" cy="503.9" r="0.69" opacity="0.83"/><circle cx="676.2" cy="493.8" r="0.48" opacity="0.88"/><circle cx="648.2" cy="495.2" r="0.62" opacity="0.52"/><circle cx="664.1" cy="509.6" r="0.67" opacity="0.43"/><circle cx="662.7" cy="507.7" r="0.47" opacity="0.83"/><circle cx="649.3" cy="502.3" r="0.54" opacity="0.58"/><circle cx="689.7" cy="527.0" r="0.55" opacity="0.63"/><circle cx="610.6" cy="481.5" r="0.52" opacity="0.46"/><circle cx="604.5" cy="487.0" r="0.40" opacity="0.60"/><circle cx="647.8" cy="495.7" r="0.68" opacity="0.86"/><circle cx="665.7" cy="507.6" r="0.39" opacity="0.63"/><circle cx="659.4" cy="489.3" r="0.73" opacity="0.73"/><circle cx="656.0" cy="502.7" r="0.44" opacity="0.58"/><circle cx="639.8" cy="496.4" r="0.34" opacity="0.65"/><circle cx="643.9" cy="488.7" r="0.32" opacity="0.81"/><circle cx="656.9" cy="505.0" r="0.75" opacity="0.45"/><circle cx="650.4" cy="490.4" r="0.39" opacity="0.54"/><circle cx="630.9" cy="481.5" r="0.42" opacity="0.51"/><circle cx="646.3" cy="494.6" r="0.56" opacity="0.67"/><circle cx="651.3" cy="494.7" r="0.44" opacity="0.46"/><circle cx="682.3" cy="512.0" r="0.44" opacity="0.87"/><circle cx="671.2" cy="513.3" r="0.71" opacity="0.57"/><circle cx="640.6" cy="500.1" r="0.47" opacity="0.86"/><circle cx="631.0" cy="482.3" r="0.39" opacity="0.59"/><circle cx="648.0" cy="492.7" r="0.35" opacity="0.57"/><circle cx="698.0" cy="531.7" r="0.65" opacity="0.56"/><circle cx="647.3" cy="493.8" r="0.64" opacity="0.35"/><circle cx="651.4" cy="507.3" r="0.64" opacity="0.52"/><circle cx="620.2" cy="486.7" r="0.41" opacity="0.68"/><circle cx="642.8" cy="493.1" r="0.63" opacity="0.77"/><circle cx="612.2" cy="477.5" r="0.62" opacity="0.66"/><circle cx="689.4" cy="513.4" r="0.44" opacity="0.49"/><circle cx="666.2" cy="505.3" r="0.69" opacity="0.63"/><circle cx="658.1" cy="492.1" r="0.64" opacity="0.51"/><circle cx="631.2" cy="487.4" r="0.63" opacity="0.32"/><circle cx="654.4" cy="492.7" r="0.62" opacity="0.41"/><circle cx="667.2" cy="500.8" r="0.69" opacity="0.33"/><circle cx="620.0" cy="480.9" r="0.74" opacity="0.74"/><circle cx="674.0" cy="513.7" r="0.58" opacity="0.66"/><circle cx="626.1" cy="479.8" r="0.30" opacity="0.60"/><circle cx="685.6" cy="518.8" r="0.32" opacity="0.87"/><circle cx="662.2" cy="510.9" r="0.32" opacity="0.52"/><circle cx="651.1" cy="494.1" r="0.64" opacity="0.73"/><circle cx="585.0" cy="460.6" r="0.36" opacity="0.31"/><circle cx="658.9" cy="488.5" r="0.65" opacity="0.74"/><circle cx="594.8" cy="480.1" r="0.48" opacity="0.84"/><circle cx="634.2" cy="503.3" r="0.45" opacity="0.74"/><circle cx="651.3" cy="495.2" r="0.56" opacity="0.60"/><circle cx="665.0" cy="513.1" r="0.51" opacity="0.58"/><circle cx="686.6" cy="511.2" r="0.61" opacity="0.34"/><circle cx="654.9" cy="500.9" r="0.43" opacity="0.81"/><circle cx="651.9" cy="493.3" r="0.33" opacity="0.76"/><circle cx="638.1" cy="490.4" r="0.53" opacity="0.42"/><circle cx="610.9" cy="471.2" r="0.71" opacity="0.44"/><circle cx="633.5" cy="484.7" r="0.35" opacity="0.54"/><circle cx="686.2" cy="495.3" r="0.72" opacity="0.84"/><circle cx="685.0" cy="513.6" r="0.69" opacity="0.64"/><circle cx="631.0" cy="487.4" r="0.67" opacity="0.43"/><circle cx="666.0" cy="500.9" r="0.52" opacity="0.68"/><circle cx="603.0" cy="481.3" r="0.38" opacity="0.67"/><circle cx="711.6" cy="516.8" r="0.59" opacity="0.49"/><circle cx="669.5" cy="510.1" r="0.39" opacity="0.80"/><circle cx="653.9" cy="495.6" r="0.60" opacity="0.65"/><circle cx="622.6" cy="489.3" r="0.44" opacity="0.43"/><circle cx="630.4" cy="479.3" r="0.45" opacity="0.84"/><circle cx="663.4" cy="503.9" r="0.63" opacity="0.50"/><circle cx="632.8" cy="493.9" r="0.51" opacity="0.83"/><circle cx="648.8" cy="504.3" r="0.62" opacity="0.46"/><circle cx="665.6" cy="515.5" r="0.37" opacity="0.73"/></g><g fill="#fff"><circle cx="703.1" cy="482.9" r="0.56" opacity="0.64"/><circle cx="691.0" cy="496.0" r="0.37" opacity="0.54"/><circle cx="687.4" cy="491.9" r="0.52" opacity="0.56"/><circle cx="691.5" cy="481.0" r="0.40" opacity="0.44"/><circle cx="699.0" cy="484.9" r="0.51" opacity="0.62"/><circle cx="696.9" cy="490.3" r="0.72" opacity="0.66"/><circle cx="697.3" cy="489.4" r="0.53" opacity="0.56"/><circle cx="690.1" cy="488.7" r="0.79" opacity="0.71"/><circle cx="688.8" cy="493.4" r="0.42" opacity="0.82"/><circle cx="695.5" cy="495.2" r="0.69" opacity="0.68"/><circle cx="696.9" cy="493.7" r="0.40" opacity="0.46"/><circle cx="695.3" cy="495.2" r="0.63" opacity="0.57"/><circle cx="698.5" cy="489.1" r="0.47" opacity="0.58"/><circle cx="704.5" cy="483.6" r="0.32" opacity="0.76"/><circle cx="705.3" cy="487.1" r="0.43" opacity="0.83"/><circle cx="694.3" cy="480.8" r="0.61" opacity="0.71"/><circle cx="702.5" cy="485.6" r="0.31" opacity="0.55"/><circle cx="689.6" cy="484.3" r="0.78" opacity="0.40"/><circle cx="694.1" cy="492.2" r="0.72" opacity="0.52"/><circle cx="687.7" cy="492.5" r="0.38" opacity="0.46"/><circle cx="693.3" cy="490.4" r="0.55" opacity="0.48"/><circle cx="701.3" cy="487.4" r="0.72" opacity="0.76"/><circle cx="699.5" cy="493.2" r="0.32" opacity="0.40"/><circle cx="697.8" cy="492.7" r="0.79" opacity="0.71"/><circle cx="699.2" cy="497.1" r="0.35" opacity="0.59"/><circle cx="705.0" cy="491.5" r="0.45" opacity="0.99"/><circle cx="702.0" cy="482.5" r="0.39" opacity="0.62"/><circle cx="697.9" cy="483.4" r="0.46" opacity="0.64"/><circle cx="697.2" cy="496.9" r="0.43" opacity="0.83"/><circle cx="697.5" cy="488.8" r="0.67" opacity="0.80"/><circle cx="700.0" cy="487.5" r="0.66" opacity="0.83"/><circle cx="692.6" cy="488.8" r="0.37" opacity="0.99"/><circle cx="686.8" cy="483.2" r="0.68" opacity="0.42"/><circle cx="696.4" cy="482.5" r="0.70" opacity="0.79"/><circle cx="691.5" cy="490.5" r="0.78" opacity="0.93"/><circle cx="705.2" cy="493.0" r="0.31" opacity="0.43"/><circle cx="698.1" cy="495.3" r="0.44" opacity="0.62"/><circle cx="692.1" cy="485.0" r="0.50" opacity="0.92"/><circle cx="693.1" cy="489.2" r="0.69" opacity="0.67"/><circle cx="701.4" cy="487.8" r="0.39" opacity="0.43"/><circle cx="692.4" cy="491.8" r="0.80" opacity="0.65"/><circle cx="688.7" cy="484.2" r="0.52" opacity="0.69"/><circle cx="700.2" cy="486.3" r="0.73" opacity="0.68"/><circle cx="693.1" cy="488.6" r="0.66" opacity="0.95"/><circle cx="695.2" cy="485.8" r="0.34" opacity="0.86"/><circle cx="686.3" cy="486.6" r="0.41" opacity="0.89"/><circle cx="700.9" cy="498.5" r="0.63" opacity="0.90"/><circle cx="693.1" cy="488.6" r="0.49" opacity="0.54"/><circle cx="700.5" cy="489.4" r="0.71" opacity="0.59"/><circle cx="692.1" cy="498.3" r="0.63" opacity="0.78"/><circle cx="705.5" cy="488.8" r="0.54" opacity="0.62"/><circle cx="697.7" cy="494.4" r="0.79" opacity="0.45"/><circle cx="699.8" cy="480.3" r="0.50" opacity="0.97"/><circle cx="700.7" cy="491.6" r="0.39" opacity="0.96"/><circle cx="697.3" cy="479.3" r="0.49" opacity="0.78"/><circle cx="702.5" cy="490.7" r="0.60" opacity="0.83"/><circle cx="692.5" cy="493.9" r="0.37" opacity="0.47"/><circle cx="698.6" cy="495.9" r="0.53" opacity="0.92"/><circle cx="695.0" cy="493.8" r="0.79" opacity="0.79"/><circle cx="697.5" cy="485.2" r="0.66" opacity="0.44"/><circle cx="696.5" cy="494.5" r="0.64" opacity="0.77"/><circle cx="699.6" cy="485.7" r="0.33" opacity="0.50"/><circle cx="695.9" cy="487.3" r="0.46" opacity="0.44"/><circle cx="703.0" cy="487.7" r="0.60" opacity="0.99"/><circle cx="700.5" cy="490.9" r="0.42" opacity="0.43"/><circle cx="690.2" cy="493.2" r="0.56" opacity="0.93"/><circle cx="692.4" cy="479.0" r="0.35" opacity="0.78"/><circle cx="699.9" cy="490.8" r="0.57" opacity="0.53"/><circle cx="698.2" cy="490.2" r="0.70" opacity="0.69"/><circle cx="687.8" cy="491.5" r="0.39" opacity="0.65"/><circle cx="692.8" cy="496.7" r="0.35" opacity="0.77"/><circle cx="701.7" cy="484.9" r="0.69" opacity="0.98"/><circle cx="691.1" cy="486.3" r="0.39" opacity="0.47"/><circle cx="697.4" cy="484.1" r="0.64" opacity="0.82"/><circle cx="690.7" cy="483.5" r="0.56" opacity="0.70"/><circle cx="694.3" cy="483.4" r="0.79" opacity="0.43"/><circle cx="699.5" cy="493.6" r="0.60" opacity="0.72"/><circle cx="693.0" cy="496.5" r="0.34" opacity="0.91"/><circle cx="700.2" cy="487.3" r="0.39" opacity="0.84"/><circle cx="685.5" cy="488.1" r="0.55" opacity="0.46"/><circle cx="703.7" cy="494.2" r="0.53" opacity="0.66"/><circle cx="695.5" cy="493.8" r="0.63" opacity="0.76"/><circle cx="693.0" cy="487.9" r="0.46" opacity="0.68"/><circle cx="699.9" cy="489.6" r="0.31" opacity="0.72"/><circle cx="695.7" cy="487.1" r="0.64" opacity="0.54"/><circle cx="693.6" cy="481.8" r="0.54" opacity="0.50"/><circle cx="696.3" cy="493.9" r="0.33" opacity="0.46"/><circle cx="694.2" cy="493.8" r="0.73" opacity="0.76"/><circle cx="690.9" cy="490.5" r="0.60" opacity="0.83"/><circle cx="700.9" cy="492.7" r="0.64" opacity="0.95"/><circle cx="689.6" cy="484.4" r="0.36" opacity="0.94"/><circle cx="697.1" cy="496.9" r="0.79" opacity="0.67"/><circle cx="695.1" cy="500.9" r="0.46" opacity="0.67"/><circle cx="694.7" cy="490.9" r="0.37" opacity="0.58"/><circle cx="696.8" cy="487.5" r="0.80" opacity="0.50"/><circle cx="692.7" cy="484.0" r="0.33" opacity="0.80"/><circle cx="691.9" cy="489.5" r="0.51" opacity="0.89"/><circle cx="700.5" cy="499.5" r="0.39" opacity="0.62"/><circle cx="699.3" cy="494.9" r="0.64" opacity="0.95"/><circle cx="695.7" cy="493.3" r="0.68" opacity="0.98"/><circle cx="703.4" cy="485.5" r="0.70" opacity="0.82"/><circle cx="689.0" cy="493.6" r="0.52" opacity="0.66"/><circle cx="706.2" cy="484.2" r="0.77" opacity="0.78"/><circle cx="694.2" cy="492.2" r="0.60" opacity="0.91"/><circle cx="703.8" cy="494.2" r="0.68" opacity="0.64"/><circle cx="698.3" cy="491.7" r="0.59" opacity="0.76"/><circle cx="691.8" cy="490.2" r="0.80" opacity="0.92"/><circle cx="698.5" cy="490.4" r="0.54" opacity="0.56"/><circle cx="691.2" cy="489.7" r="0.43" opacity="0.62"/><circle cx="696.9" cy="490.9" r="0.45" opacity="0.78"/><circle cx="697.2" cy="490.0" r="0.45" opacity="0.92"/><circle cx="701.0" cy="490.2" r="0.35" opacity="0.77"/><circle cx="690.2" cy="487.8" r="0.43" opacity="0.56"/><circle cx="702.3" cy="484.4" r="0.76" opacity="0.77"/><circle cx="693.8" cy="486.1" r="0.67" opacity="0.75"/><circle cx="700.4" cy="490.7" r="0.77" opacity="0.95"/><circle cx="694.3" cy="492.0" r="0.54" opacity="0.72"/><circle cx="701.8" cy="491.2" r="0.54" opacity="0.50"/><circle cx="697.4" cy="485.9" r="0.40" opacity="0.57"/><circle cx="694.6" cy="497.4" r="0.70" opacity="0.43"/><circle cx="696.0" cy="489.5" r="0.51" opacity="0.90"/><circle cx="692.5" cy="496.0" r="0.47" opacity="0.68"/><circle cx="702.3" cy="487.5" r="0.52" opacity="0.64"/><circle cx="700.7" cy="487.6" r="0.60" opacity="0.86"/><circle cx="697.6" cy="490.1" r="0.39" opacity="0.62"/><circle cx="698.4" cy="488.6" r="0.64" opacity="0.44"/><circle cx="692.3" cy="491.0" r="0.63" opacity="0.78"/><circle cx="690.2" cy="484.5" r="0.48" opacity="0.88"/><circle cx="699.4" cy="494.1" r="0.49" opacity="0.96"/><circle cx="698.6" cy="493.0" r="0.57" opacity="0.47"/></g><g fill="#fff"><circle cx="696.0" cy="490.0" r="4.00" opacity="0.30"/></g></g><g fill="#6d717c"><circle cx="647.8" cy="532.3" r="0.39" opacity="0.66"/><ellipse cx="672.6" cy="537.1" rx="0.26" ry="0.59" opacity="0.43"/><circle cx="611.9" cy="535.2" r="0.54" opacity="0.62"/><ellipse cx="712.0" cy="595.2" rx="0.37" ry="0.83" opacity="0.94"/><ellipse cx="672.2" cy="554.2" rx="0.78" ry="1.76" opacity="0.63"/><ellipse cx="636.4" cy="513.0" rx="0.60" ry="1.35" opacity="0.60"/><circle cx="631.7" cy="540.9" r="0.60" opacity="0.76"/><circle cx="641.9" cy="560.6" r="0.73" opacity="0.76"/><circle cx="643.0" cy="537.3" r="0.41" opacity="0.91"/><circle cx="636.1" cy="531.2" r="0.91" opacity="0.70"/><circle cx="633.5" cy="555.3" r="0.31" opacity="0.73"/><circle cx="639.7" cy="560.3" r="0.96" opacity="0.62"/><ellipse cx="665.5" cy="572.6" rx="0.26" ry="0.59" opacity="0.47"/><ellipse cx="650.2" cy="553.1" rx="0.34" ry="0.75" opacity="0.70"/><circle cx="632.7" cy="592.2" r="0.31" opacity="0.86"/><circle cx="699.3" cy="546.9" r="0.86" opacity="0.92"/><ellipse cx="694.5" cy="536.1" rx="0.35" ry="0.78" opacity="0.70"/><circle cx="646.2" cy="562.1" r="0.78" opacity="0.43"/><circle cx="645.5" cy="541.7" r="0.77" opacity="0.47"/><ellipse cx="695.2" cy="574.6" rx="0.74" ry="1.66" opacity="0.60"/><ellipse cx="672.5" cy="553.5" rx="0.30" ry="0.68" opacity="0.74"/><ellipse cx="620.5" cy="579.1" rx="0.45" ry="1.02" opacity="0.91"/><circle cx="657.6" cy="545.7" r="0.65" opacity="0.46"/><circle cx="602.3" cy="515.6" r="0.41" opacity="0.84"/><circle cx="616.4" cy="556.8" r="0.47" opacity="0.94"/><circle cx="664.8" cy="541.4" r="0.84" opacity="0.74"/><circle cx="643.7" cy="572.4" r="0.31" opacity="0.43"/><circle cx="626.7" cy="553.5" r="0.64" opacity="0.86"/><circle cx="665.9" cy="573.9" r="0.81" opacity="0.53"/><circle cx="654.1" cy="591.3" r="0.89" opacity="0.46"/><circle cx="668.2" cy="561.0" r="0.77" opacity="0.80"/><ellipse cx="658.7" cy="565.2" rx="0.46" ry="1.04" opacity="0.73"/><circle cx="648.3" cy="587.3" r="0.92" opacity="0.81"/><circle cx="712.2" cy="561.3" r="0.42" opacity="0.65"/><ellipse cx="605.1" cy="563.4" rx="0.38" ry="0.86" opacity="0.69"/><circle cx="597.9" cy="540.7" r="0.90" opacity="0.64"/><ellipse cx="635.9" cy="538.0" rx="0.67" ry="1.50" opacity="0.75"/><circle cx="718.6" cy="555.2" r="0.77" opacity="0.89"/><ellipse cx="668.1" cy="545.1" rx="0.73" ry="1.65" opacity="0.76"/><circle cx="648.7" cy="546.4" r="0.72" opacity="0.42"/><ellipse cx="645.5" cy="558.2" rx="0.41" ry="0.92" opacity="0.81"/><circle cx="640.8" cy="541.7" r="0.33" opacity="0.62"/><circle cx="660.0" cy="552.3" r="0.99" opacity="0.49"/><ellipse cx="648.2" cy="555.2" rx="0.56" ry="1.27" opacity="0.59"/><circle cx="679.8" cy="545.2" r="0.96" opacity="0.64"/><circle cx="634.8" cy="551.3" r="0.47" opacity="0.88"/><ellipse cx="646.8" cy="551.2" rx="0.61" ry="1.36" opacity="0.84"/></g><g fill="#8a8e98"><ellipse cx="609.9" cy="526.8" rx="0.34" ry="0.76" opacity="0.78"/><circle cx="669.9" cy="525.1" r="0.79" opacity="0.76"/><circle cx="673.3" cy="557.5" r="0.45" opacity="0.77"/><ellipse cx="606.1" cy="524.3" rx="0.42" ry="0.94" opacity="0.69"/><circle cx="682.6" cy="536.2" r="0.41" opacity="0.58"/><circle cx="673.8" cy="526.8" r="0.38" opacity="0.75"/><ellipse cx="647.5" cy="543.9" rx="0.74" ry="1.67" opacity="0.87"/><ellipse cx="650.6" cy="551.4" rx="0.42" ry="0.94" opacity="0.53"/><ellipse cx="657.5" cy="550.8" rx="0.69" ry="1.55" opacity="0.69"/><circle cx="672.1" cy="596.2" r="0.88" opacity="0.91"/><circle cx="703.7" cy="582.1" r="0.55" opacity="0.59"/><circle cx="636.4" cy="543.0" r="0.53" opacity="0.48"/><ellipse cx="658.9" cy="537.4" rx="0.45" ry="1.02" opacity="0.75"/><ellipse cx="592.3" cy="540.8" rx="0.62" ry="1.40" opacity="0.85"/><circle cx="662.1" cy="541.8" r="0.54" opacity="0.59"/><circle cx="690.5" cy="554.6" r="0.41" opacity="0.53"/><circle cx="690.0" cy="555.9" r="0.41" opacity="0.83"/><ellipse cx="629.1" cy="572.0" rx="0.55" ry="1.24" opacity="0.87"/><circle cx="649.0" cy="555.1" r="0.65" opacity="0.77"/><ellipse cx="681.3" cy="582.7" rx="0.46" ry="1.03" opacity="0.67"/><circle cx="695.7" cy="595.9" r="0.37" opacity="0.79"/><circle cx="637.0" cy="550.7" r="1.00" opacity="0.46"/><ellipse cx="690.3" cy="560.4" rx="0.35" ry="0.78" opacity="0.75"/><circle cx="688.1" cy="565.5" r="0.66" opacity="0.65"/><circle cx="647.3" cy="521.2" r="0.70" opacity="0.81"/><circle cx="681.2" cy="532.2" r="0.60" opacity="0.47"/><circle cx="642.1" cy="517.3" r="0.70" opacity="0.80"/><circle cx="616.4" cy="553.4" r="0.69" opacity="0.48"/><circle cx="711.8" cy="553.7" r="0.38" opacity="0.53"/><circle cx="663.1" cy="541.7" r="0.48" opacity="0.47"/><circle cx="665.2" cy="574.6" r="0.67" opacity="0.90"/><circle cx="678.4" cy="556.6" r="0.65" opacity="0.41"/><circle cx="655.5" cy="561.8" r="0.41" opacity="0.53"/><ellipse cx="649.7" cy="576.1" rx="0.70" ry="1.57" opacity="0.49"/><circle cx="677.4" cy="560.2" r="0.43" opacity="0.72"/><circle cx="641.0" cy="588.1" r="0.88" opacity="0.93"/><ellipse cx="642.9" cy="581.4" rx="0.66" ry="1.50" opacity="0.47"/><ellipse cx="711.0" cy="578.0" rx="0.67" ry="1.50" opacity="0.48"/><ellipse cx="647.5" cy="550.8" rx="0.50" ry="1.12" opacity="0.94"/><circle cx="674.5" cy="549.8" r="0.35" opacity="0.67"/><circle cx="671.9" cy="544.4" r="0.77" opacity="0.77"/><circle cx="660.3" cy="585.1" r="0.51" opacity="0.76"/><ellipse cx="654.2" cy="567.1" rx="0.37" ry="0.83" opacity="0.74"/><circle cx="638.3" cy="540.4" r="0.41" opacity="0.80"/><circle cx="669.6" cy="581.6" r="0.76" opacity="0.59"/><circle cx="688.2" cy="565.1" r="0.97" opacity="0.85"/><ellipse cx="662.7" cy="531.2" rx="0.37" ry="0.84" opacity="0.76"/><circle cx="655.8" cy="571.5" r="0.58" opacity="0.77"/></g><g fill="#555a66"><ellipse cx="673.0" cy="559.7" rx="0.32" ry="0.72" opacity="0.65"/><circle cx="660.4" cy="546.5" r="0.51" opacity="0.90"/><circle cx="633.3" cy="587.0" r="0.75" opacity="0.92"/><circle cx="643.8" cy="534.3" r="0.44" opacity="0.94"/><circle cx="609.3" cy="567.2" r="0.79" opacity="0.48"/><circle cx="654.5" cy="568.6" r="0.81" opacity="0.57"/><ellipse cx="659.7" cy="555.4" rx="0.41" ry="0.93" opacity="0.72"/><ellipse cx="667.5" cy="551.3" rx="0.30" ry="0.67" opacity="0.94"/><circle cx="619.5" cy="556.7" r="0.36" opacity="0.51"/><circle cx="687.6" cy="543.5" r="0.84" opacity="0.65"/><circle cx="621.6" cy="557.1" r="0.95" opacity="0.92"/><circle cx="661.5" cy="582.7" r="0.89" opacity="0.71"/><ellipse cx="695.9" cy="538.8" rx="0.73" ry="1.65" opacity="0.92"/><circle cx="606.7" cy="568.2" r="0.83" opacity="0.87"/><circle cx="637.8" cy="519.7" r="1.00" opacity="0.61"/><ellipse cx="634.9" cy="530.4" rx="0.32" ry="0.71" opacity="0.86"/><ellipse cx="672.5" cy="558.4" rx="0.32" ry="0.72" opacity="0.41"/><circle cx="622.3" cy="541.3" r="0.68" opacity="0.81"/><circle cx="659.9" cy="581.6" r="0.73" opacity="0.52"/><ellipse cx="656.4" cy="560.8" rx="0.34" ry="0.77" opacity="0.75"/><circle cx="669.9" cy="530.9" r="0.81" opacity="0.92"/><ellipse cx="614.1" cy="581.4" rx="0.55" ry="1.24" opacity="0.51"/><circle cx="686.8" cy="559.9" r="0.68" opacity="0.75"/><circle cx="699.1" cy="573.0" r="0.55" opacity="0.58"/><circle cx="657.7" cy="545.1" r="0.76" opacity="0.93"/><ellipse cx="689.2" cy="548.9" rx="0.52" ry="1.18" opacity="0.93"/><circle cx="648.2" cy="567.6" r="0.72" opacity="0.55"/><circle cx="600.7" cy="571.9" r="0.92" opacity="0.83"/><circle cx="655.5" cy="548.0" r="0.34" opacity="0.77"/><ellipse cx="648.6" cy="530.7" rx="0.34" ry="0.77" opacity="0.92"/><circle cx="650.5" cy="548.0" r="0.30" opacity="0.95"/><ellipse cx="680.6" cy="572.7" rx="0.55" ry="1.24" opacity="0.64"/><ellipse cx="680.6" cy="530.5" rx="0.75" ry="1.68" opacity="0.51"/><circle cx="680.7" cy="543.3" r="0.99" opacity="0.76"/><circle cx="707.3" cy="556.7" r="0.69" opacity="0.46"/><ellipse cx="637.0" cy="540.7" rx="0.71" ry="1.59" opacity="0.41"/><ellipse cx="648.7" cy="535.8" rx="0.79" ry="1.77" opacity="0.95"/><circle cx="676.1" cy="561.6" r="0.96" opacity="0.61"/><circle cx="650.3" cy="526.4" r="0.75" opacity="0.60"/><circle cx="664.2" cy="531.7" r="0.93" opacity="0.56"/><circle cx="607.7" cy="569.1" r="0.45" opacity="0.81"/><circle cx="683.9" cy="533.2" r="0.52" opacity="0.52"/><ellipse cx="637.7" cy="552.1" rx="0.67" ry="1.51" opacity="0.40"/><circle cx="661.9" cy="566.8" r="0.95" opacity="0.44"/><circle cx="648.2" cy="543.9" r="0.70" opacity="0.56"/><ellipse cx="664.5" cy="523.9" rx="0.28" ry="0.63" opacity="0.81"/><circle cx="691.1" cy="556.7" r="0.43" opacity="0.84"/><ellipse cx="652.6" cy="528.8" rx="0.29" ry="0.66" opacity="0.77"/><ellipse cx="658.9" cy="549.0" rx="0.44" ry="0.99" opacity="0.75"/><circle cx="624.5" cy="504.5" r="0.73" opacity="0.50"/><circle cx="659.1" cy="532.1" r="0.96" opacity="0.91"/><circle cx="583.8" cy="537.7" r="0.47" opacity="0.83"/></g><g fill="#9da1aa"><circle cx="689.5" cy="540.5" r="0.88" opacity="0.61"/><ellipse cx="633.7" cy="572.0" rx="0.77" ry="1.74" opacity="0.62"/><ellipse cx="670.3" cy="537.8" rx="0.66" ry="1.49" opacity="0.50"/><circle cx="641.9" cy="522.2" r="0.48" opacity="0.57"/><ellipse cx="642.3" cy="551.8" rx="0.60" ry="1.35" opacity="0.57"/><ellipse cx="660.2" cy="547.7" rx="0.37" ry="0.84" opacity="0.94"/><circle cx="649.1" cy="533.0" r="0.59" opacity="0.66"/><ellipse cx="621.9" cy="565.2" rx="0.33" ry="0.73" opacity="0.65"/><ellipse cx="650.3" cy="569.5" rx="0.44" ry="0.99" opacity="0.70"/><ellipse cx="659.0" cy="563.7" rx="0.25" ry="0.56" opacity="0.56"/><circle cx="711.2" cy="573.5" r="0.41" opacity="0.67"/><circle cx="699.9" cy="561.1" r="0.75" opacity="0.92"/><circle cx="630.7" cy="547.4" r="0.82" opacity="0.81"/><circle cx="689.3" cy="548.5" r="0.46" opacity="0.42"/><circle cx="625.8" cy="579.5" r="0.34" opacity="0.87"/><circle cx="683.0" cy="547.5" r="0.59" opacity="0.69"/><circle cx="641.0" cy="556.9" r="0.92" opacity="0.84"/><circle cx="648.6" cy="570.5" r="0.91" opacity="0.62"/><ellipse cx="624.4" cy="531.4" rx="0.78" ry="1.74" opacity="0.71"/><circle cx="699.5" cy="557.9" r="0.73" opacity="0.86"/><circle cx="671.6" cy="530.7" r="0.47" opacity="0.81"/><ellipse cx="675.1" cy="578.2" rx="0.38" ry="0.85" opacity="0.79"/><circle cx="646.5" cy="565.9" r="0.46" opacity="0.79"/><ellipse cx="683.5" cy="538.7" rx="0.26" ry="0.58" opacity="0.45"/><circle cx="655.5" cy="567.0" r="0.41" opacity="0.75"/><circle cx="654.0" cy="536.1" r="0.62" opacity="0.47"/><circle cx="673.8" cy="591.1" r="0.38" opacity="0.66"/><circle cx="610.6" cy="545.9" r="0.66" opacity="0.60"/><circle cx="663.4" cy="535.2" r="0.93" opacity="0.83"/><ellipse cx="637.0" cy="547.3" rx="0.64" ry="1.43" opacity="0.46"/><ellipse cx="685.8" cy="555.2" rx="0.35" ry="0.78" opacity="0.50"/><circle cx="645.1" cy="550.5" r="0.77" opacity="0.70"/><circle cx="685.6" cy="569.0" r="0.43" opacity="0.69"/><circle cx="684.5" cy="553.5" r="0.98" opacity="0.64"/><circle cx="611.6" cy="546.9" r="0.56" opacity="0.77"/><circle cx="654.9" cy="519.6" r="0.51" opacity="0.81"/><ellipse cx="663.4" cy="567.4" rx="0.41" ry="0.93" opacity="0.43"/><ellipse cx="641.7" cy="539.5" rx="0.76" ry="1.71" opacity="0.88"/><circle cx="607.8" cy="546.1" r="0.69" opacity="0.68"/><ellipse cx="622.8" cy="518.8" rx="0.50" ry="1.13" opacity="0.44"/><circle cx="677.0" cy="572.9" r="0.65" opacity="0.82"/><circle cx="687.8" cy="576.2" r="0.84" opacity="0.56"/></g><g fill="#4a4e59"><circle cx="652.7" cy="537.5" r="0.95" opacity="0.42"/><circle cx="679.1" cy="557.3" r="0.50" opacity="0.71"/><ellipse cx="601.8" cy="542.8" rx="0.31" ry="0.69" opacity="0.46"/><circle cx="674.6" cy="548.0" r="0.56" opacity="0.83"/><ellipse cx="665.4" cy="576.1" rx="0.34" ry="0.76" opacity="0.88"/><circle cx="682.5" cy="578.4" r="0.61" opacity="0.63"/><circle cx="650.6" cy="573.6" r="0.46" opacity="0.56"/><circle cx="661.1" cy="565.6" r="0.91" opacity="0.52"/><circle cx="696.6" cy="578.2" r="1.00" opacity="0.73"/><circle cx="612.2" cy="567.5" r="0.87" opacity="0.68"/><circle cx="671.4" cy="530.2" r="0.90" opacity="0.67"/><circle cx="665.8" cy="581.6" r="0.92" opacity="0.65"/><circle cx="680.3" cy="555.3" r="0.77" opacity="0.58"/><circle cx="654.5" cy="575.6" r="0.79" opacity="0.42"/><circle cx="598.1" cy="561.6" r="0.77" opacity="0.47"/><circle cx="687.5" cy="559.0" r="0.68" opacity="0.78"/><circle cx="695.0" cy="537.7" r="0.84" opacity="0.56"/><circle cx="672.5" cy="564.0" r="0.44" opacity="0.54"/><circle cx="661.9" cy="555.3" r="0.52" opacity="0.47"/><ellipse cx="677.7" cy="534.5" rx="0.56" ry="1.26" opacity="0.75"/><circle cx="657.2" cy="534.9" r="0.78" opacity="0.52"/><circle cx="685.8" cy="564.2" r="0.80" opacity="0.91"/><circle cx="644.9" cy="535.3" r="0.53" opacity="0.72"/><circle cx="674.3" cy="547.9" r="0.67" opacity="0.58"/><circle cx="718.3" cy="570.8" r="0.75" opacity="0.82"/><ellipse cx="603.6" cy="589.5" rx="0.49" ry="1.09" opacity="0.45"/><circle cx="675.3" cy="534.0" r="0.79" opacity="0.40"/><ellipse cx="634.6" cy="539.0" rx="0.60" ry="1.36" opacity="0.56"/><circle cx="659.2" cy="541.2" r="0.45" opacity="0.79"/><circle cx="649.8" cy="550.1" r="0.33" opacity="0.56"/><circle cx="690.7" cy="558.4" r="0.85" opacity="0.64"/><circle cx="695.9" cy="568.0" r="0.54" opacity="0.71"/><circle cx="625.0" cy="551.3" r="0.97" opacity="0.49"/><circle cx="595.8" cy="544.8" r="0.54" opacity="0.43"/><circle cx="662.8" cy="573.6" r="0.69" opacity="0.64"/><circle cx="696.8" cy="566.6" r="0.90" opacity="0.41"/><circle cx="692.0" cy="535.6" r="0.71" opacity="0.58"/><circle cx="673.0" cy="535.1" r="0.54" opacity="0.72"/><circle cx="594.5" cy="521.5" r="0.76" opacity="0.84"/><circle cx="591.3" cy="538.9" r="0.88" opacity="0.54"/><ellipse cx="611.3" cy="548.7" rx="0.34" ry="0.77" opacity="0.52"/></g></g>
</g>

<g fill="#000"><circle cx="378.7" cy="66.7" r="19.2"/><circle cx="173.8" cy="388.1" r="19.2"/><circle cx="584" cy="385.9" r="19"/></g>
<path d="M373.9,60.1 L378.4,57.1 L382.1,57.1 L382.1,75.1 L378,75.1 L378,60.9 L373.9,62.8 Z" fill="#fff"/>
<g fill="#fff" font-size="26" font-weight="bold" text-anchor="middle">
<text x="176.2" y="397.1">2</text><text x="583.5" y="397.1">3</text></g>

<g fill="#000" font-size="24" stroke="#000" stroke-width="0.55">
<text x="225" y="74" textLength="55" lengthAdjust="spacingAndGlyphs">High</text>
<text x="484" y="81.5" textLength="55" lengthAdjust="spacingAndGlyphs">High</text>
<text x="304.5" y="255" textLength="45" lengthAdjust="spacingAndGlyphs">Low</text>
<text x="24" y="394.4" textLength="55" lengthAdjust="spacingAndGlyphs">High</text>
<text x="291.5" y="391" textLength="55" lengthAdjust="spacingAndGlyphs">High</text>
<text x="61" y="527.5" textLength="45" lengthAdjust="spacingAndGlyphs">Low</text>
<text x="385" y="553" textLength="45" lengthAdjust="spacingAndGlyphs">Low</text>
<text x="439.5" y="433.75" textLength="55" lengthAdjust="spacingAndGlyphs">High</text>
<text x="677.5" y="423.5" textLength="55" lengthAdjust="spacingAndGlyphs">High</text>
<text x="720.5" y="588.75" textLength="45" lengthAdjust="spacingAndGlyphs">Low</text>
</g>

<g fill="#262626" font-size="24"><text x="1.7" y="716.5" textLength="113.0" lengthAdjust="spacingAndGlyphs">Rectangle</text><text x="126.3" y="716.5" textLength="79.7" lengthAdjust="spacingAndGlyphs">Square</text><text x="216.4" y="716.5" textLength="90.3" lengthAdjust="spacingAndGlyphs">Triangle</text><text x="315.5" y="716.5" textLength="72.2" lengthAdjust="spacingAndGlyphs">Shade</text><text x="394.3" y="716.5" textLength="46.7" lengthAdjust="spacingAndGlyphs">Sail:</text><text x="2.3" y="757.3" textLength="85.0" lengthAdjust="spacingAndGlyphs">Choose</text><text x="95.7" y="757.3" textLength="41.9" lengthAdjust="spacingAndGlyphs">two</text><text x="145.8" y="757.3" textLength="84.2" lengthAdjust="spacingAndGlyphs">corners</text><text x="238.1" y="757.3" textLength="70.9" lengthAdjust="spacingAndGlyphs">higher</text><text x="318.3" y="757.3" textLength="52.2" lengthAdjust="spacingAndGlyphs">than</text><text x="377.4" y="757.3" textLength="81.7" lengthAdjust="spacingAndGlyphs">others,</text><text x="464.1" y="757.3" textLength="62.4" lengthAdjust="spacingAndGlyphs">water</text><text x="534.5" y="757.3" textLength="39.9" lengthAdjust="spacingAndGlyphs">can</text><text x="582.3" y="757.3" textLength="37.0" lengthAdjust="spacingAndGlyphs">run</text><text x="625.7" y="757.3" textLength="31.3" lengthAdjust="spacingAndGlyphs">off</text><text x="664.1" y="757.3" textLength="63.2" lengthAdjust="spacingAndGlyphs">more</text><text x="734.2" y="757.3" textLength="63.9" lengthAdjust="spacingAndGlyphs">easily</text><path d="M115.9,719.8 L125.4,697.8 M206.4,719.8 L215.9,697.8" stroke="#262626" stroke-width="1.7" fill="none"/></g>
</svg>
</body></html>
